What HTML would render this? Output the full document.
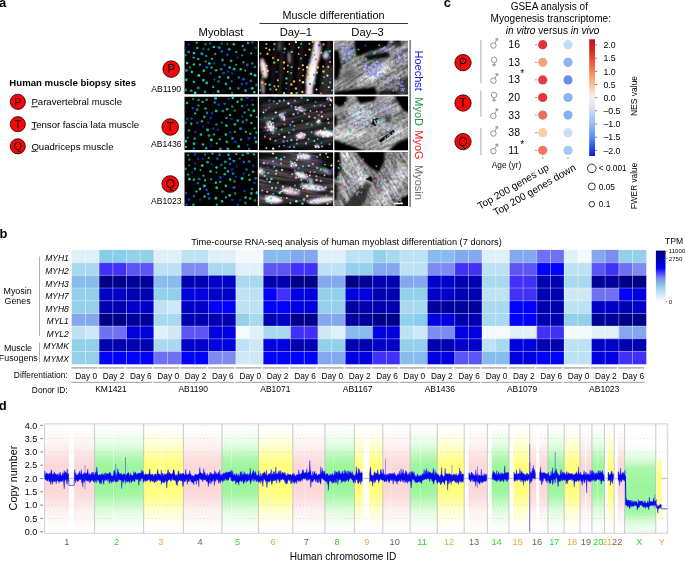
<!DOCTYPE html>
<html><head><meta charset="utf-8"><title>Figure</title>
<style>
html,body{margin:0;padding:0;background:#fff;}
svg{display:block;position:absolute;left:0;top:0;}
body>svg{will-change:transform;opacity:0.9999;}
text{font-family:"Liberation Sans",sans-serif;fill:#000;}
.b{font-weight:bold;}
.i{font-style:italic;}
.m{text-anchor:middle;}
.e{text-anchor:end;}
</style></head><body>
<svg width="685" height="561" viewBox="0 0 685 561">
<defs>
<filter id="bl1" filterUnits="userSpaceOnUse" x="-20" y="-20" width="120" height="100"><feGaussianBlur stdDeviation="0.45"/></filter>
<filter id="bl2" filterUnits="userSpaceOnUse" x="-20" y="-20" width="120" height="100"><feGaussianBlur stdDeviation="1.1"/></filter>
<filter id="bl3" filterUnits="userSpaceOnUse" x="-20" y="-20" width="120" height="100"><feGaussianBlur stdDeviation="2.6"/></filter>
<filter id="tx1" filterUnits="userSpaceOnUse" x="0" y="0" width="80" height="60">
<feTurbulence type="fractalNoise" baseFrequency="0.4 0.4" numOctaves="2" seed="4" result="n"/>
<feColorMatrix in="n" type="matrix" values="0 0 0 0 1  0 0 0 0 1  0 0 0 0 1  1.6 1.6 0 0 -1.25"/>
</filter>
<filter id="tx2" filterUnits="userSpaceOnUse" x="0" y="0" width="80" height="60">
<feTurbulence type="fractalNoise" baseFrequency="0.35 0.35" numOctaves="2" seed="9" result="n"/>
<feColorMatrix in="n" type="matrix" values="0 0 0 0 0  0 0 0 0 0  0 0 0 0 0  1.7 1.7 0 0 -1.3"/>
</filter>
<filter id="sx1" filterUnits="userSpaceOnUse" x="-60" y="-60" width="220" height="200">
<feTurbulence type="fractalNoise" baseFrequency="0.035 0.45" numOctaves="2" seed="3" result="n"/>
<feColorMatrix in="n" type="matrix" values="0 0 0 0 1  0 0 0 0 1  0 0 0 0 1  2.6 0 0 0 -1.05"/>
</filter>
<filter id="sx2" filterUnits="userSpaceOnUse" x="-60" y="-60" width="220" height="200">
<feTurbulence type="fractalNoise" baseFrequency="0.035 0.45" numOctaves="2" seed="17" result="n"/>
<feColorMatrix in="n" type="matrix" values="0 0 0 0 0  0 0 0 0 0  0 0 0 0 0  2.6 0 0 0 -1.05"/>
</filter>
<linearGradient id="nes" x1="0" y1="0" x2="0" y2="1">
<stop offset="0" stop-color="#c4101c"/><stop offset="0.1" stop-color="#de2a28"/><stop offset="0.2" stop-color="#ee5a3c"/><stop offset="0.3" stop-color="#f79458"/><stop offset="0.38" stop-color="#fbbd8c"/><stop offset="0.45" stop-color="#f6e0c8"/><stop offset="0.5" stop-color="#f0eeec"/><stop offset="0.56" stop-color="#dfe8f4"/><stop offset="0.65" stop-color="#b4d2f6"/><stop offset="0.75" stop-color="#86b6f6"/><stop offset="0.85" stop-color="#4f8af2"/><stop offset="0.93" stop-color="#2050e8"/><stop offset="1" stop-color="#0818d8"/>
</linearGradient>
<linearGradient id="tpm" x1="0" y1="0" x2="0" y2="1">
<stop offset="0" stop-color="#000080"/><stop offset="0.15" stop-color="#0000a8"/><stop offset="0.34" stop-color="#0000fc"/><stop offset="0.42" stop-color="#3a3af8"/><stop offset="0.52" stop-color="#7a82f0"/><stop offset="0.68" stop-color="#8ccbea"/><stop offset="0.85" stop-color="#cfeaf6"/><stop offset="1" stop-color="#ffffff"/>
</linearGradient>
<linearGradient id="gp" x1="0" y1="0" x2="0" y2="1">
<stop offset="0" stop-color="#ffffff"/><stop offset="0.06" stop-color="#fffbfb"/><stop offset="0.15" stop-color="#fef5f5"/><stop offset="0.245" stop-color="#fde9e9"/><stop offset="0.3" stop-color="#fce0e0"/><stop offset="0.37" stop-color="#fbd9d9"/><stop offset="0.5" stop-color="#fbd7d7"/><stop offset="0.63" stop-color="#fbd9d9"/><stop offset="0.7" stop-color="#fce0e0"/><stop offset="0.755" stop-color="#fde9e9"/><stop offset="0.85" stop-color="#fef5f5"/><stop offset="0.94" stop-color="#fffbfb"/><stop offset="1" stop-color="#ffffff"/>
</linearGradient>
<linearGradient id="gg" x1="0" y1="0" x2="0" y2="1">
<stop offset="0" stop-color="#ffffff"/><stop offset="0.06" stop-color="#f6fff6"/><stop offset="0.15" stop-color="#e8fde8"/><stop offset="0.245" stop-color="#ccfacc"/><stop offset="0.3" stop-color="#b2f8b2"/><stop offset="0.37" stop-color="#9ef69e"/><stop offset="0.5" stop-color="#98f598"/><stop offset="0.63" stop-color="#9ef69e"/><stop offset="0.7" stop-color="#b2f8b2"/><stop offset="0.755" stop-color="#ccfacc"/><stop offset="0.85" stop-color="#e8fde8"/><stop offset="0.94" stop-color="#f6fff6"/><stop offset="1" stop-color="#ffffff"/>
</linearGradient>
<linearGradient id="gy" x1="0" y1="0" x2="0" y2="1">
<stop offset="0" stop-color="#ffffff"/><stop offset="0.06" stop-color="#fffff4"/><stop offset="0.15" stop-color="#ffffdc"/><stop offset="0.245" stop-color="#ffffb4"/><stop offset="0.3" stop-color="#ffff96"/><stop offset="0.37" stop-color="#ffff7e"/><stop offset="0.5" stop-color="#ffff78"/><stop offset="0.63" stop-color="#ffff7e"/><stop offset="0.7" stop-color="#ffff96"/><stop offset="0.755" stop-color="#ffffb4"/><stop offset="0.85" stop-color="#ffffdc"/><stop offset="0.94" stop-color="#fffff4"/><stop offset="1" stop-color="#ffffff"/>
</linearGradient>
<linearGradient id="ggx" x1="0" y1="0" x2="0" y2="1">
<stop offset="0" stop-color="#ffffff"/><stop offset="0.09" stop-color="#f0fef0"/><stop offset="0.2" stop-color="#d2fad2"/><stop offset="0.27" stop-color="#aaf7aa"/><stop offset="0.5" stop-color="#9af59a"/><stop offset="0.77" stop-color="#a6f6a6"/><stop offset="0.84" stop-color="#ccfacc"/><stop offset="0.93" stop-color="#e8fde8"/><stop offset="1" stop-color="#f4fef4"/>
</linearGradient>
<linearGradient id="gyy" x1="0" y1="0" x2="0" y2="1">
<stop offset="0" stop-color="#ffffff"/><stop offset="0.12" stop-color="#ffffa4"/><stop offset="0.3" stop-color="#ffff80"/><stop offset="0.8" stop-color="#ffff84"/><stop offset="0.9" stop-color="#ffffb8"/><stop offset="1" stop-color="#ffffff"/>
</linearGradient>
</defs>

<!-- panel a -->
<text x="-1.0" y="7.0" font-size="13" class="b">a</text>
<text x="9.3" y="85.9" font-size="9.65" class="b">Human muscle biopsy sites</text>
<circle cx="17.8" cy="101.8" r="7.6" fill="#fc0404" stroke="#000" stroke-width="0.75"/>
<text x="17.8" y="105.75999999999999" font-size="11" class="m">P</text>
<text x="31.4" y="105.3" font-size="9.6"><tspan text-decoration="underline">P</tspan>aravertebral muscle</text>
<circle cx="17.8" cy="124.2" r="7.6" fill="#fc0404" stroke="#000" stroke-width="0.75"/>
<text x="17.8" y="128.16" font-size="11" class="m">T</text>
<text x="31.4" y="127.7" font-size="9.6"><tspan text-decoration="underline">T</tspan>ensor fascia lata muscle</text>
<circle cx="17.8" cy="146.3" r="7.6" fill="#fc0404" stroke="#000" stroke-width="0.75"/>
<text x="17.8" y="150.26000000000002" font-size="11" class="m">Q</text>
<text x="31.4" y="149.8" font-size="9.6"><tspan text-decoration="underline">Q</tspan>uadriceps muscle</text>
<circle cx="171.2" cy="69.1" r="8.35" fill="#fc0404" stroke="#000" stroke-width="0.75"/>
<text x="171.2" y="73.49199999999999" font-size="12.2" class="m">P</text>
<text x="166.2" y="91.6" font-size="8.55" class="m">AB1190</text>
<circle cx="170.2" cy="127.0" r="8.35" fill="#fc0404" stroke="#000" stroke-width="0.75"/>
<text x="170.2" y="131.392" font-size="12.2" class="m">T</text>
<text x="166.2" y="147.2" font-size="8.55" class="m">AB1436</text>
<circle cx="170.2" cy="184.0" r="8.35" fill="#fc0404" stroke="#000" stroke-width="0.75"/>
<text x="170.2" y="188.392" font-size="12.2" class="m">Q</text>
<text x="166.2" y="204.0" font-size="8.55" class="m">AB1023</text>
<text x="221" y="36" font-size="11.2" class="m">Myoblast</text>
<text x="333.5" y="19.3" font-size="10.8" class="m">Muscle differentiation</text>
<line x1="259.5" y1="23.5" x2="408" y2="23.5" stroke="#000" stroke-width="0.8"/>
<text x="295.9" y="36" font-size="11.2" class="m">Day–1</text>
<text x="367.5" y="36" font-size="11.2" class="m">Day–3</text>
<svg x="184.3" y="40.7" width="73.6" height="53.7" viewBox="0 0 73.6 53.7" overflow="hidden"><rect width="73.6" height="53.7" fill="#000"/>
<g filter="url(#bl1)" opacity="1.0"><circle cx="24.1" cy="8.7" r="1.12" fill="#20d8d8" fill-opacity="0.63"/><circle cx="7.6" cy="31.2" r="1.19" fill="#22e0b0" fill-opacity="0.96"/><circle cx="30.9" cy="13.3" r="1.27" fill="#22e0b0" fill-opacity="0.63"/><circle cx="9.7" cy="12.4" r="1.33" fill="#20d8d8" fill-opacity="0.97"/><circle cx="43.0" cy="3.4" r="1.12" fill="#20c878" fill-opacity="0.61"/><circle cx="9.3" cy="16.9" r="1.17" fill="#20d8d8" fill-opacity="0.74"/><circle cx="46.8" cy="20.2" r="1.38" fill="#22e0b0" fill-opacity="0.75"/><circle cx="45.4" cy="26.7" r="1.27" fill="#22e0b0" fill-opacity="0.86"/><circle cx="22.4" cy="42.2" r="1.41" fill="#18d0a0" fill-opacity="0.96"/><circle cx="22.4" cy="26.6" r="1.39" fill="#1560f0" fill-opacity="0.87"/><circle cx="71.4" cy="7.0" r="1.17" fill="#1338e8" fill-opacity="0.85"/><circle cx="68.0" cy="22.8" r="1.13" fill="#20d8d8" fill-opacity="0.75"/><circle cx="57.6" cy="43.4" r="1.38" fill="#1560f0" fill-opacity="0.73"/><circle cx="61.3" cy="50.0" r="1.38" fill="#10a8f0" fill-opacity="0.97"/><circle cx="53.4" cy="16.9" r="1.50" fill="#0f30d8" fill-opacity="0.63"/><circle cx="21.3" cy="20.9" r="1.24" fill="#20d8d8" fill-opacity="0.58"/><circle cx="26.4" cy="32.6" r="1.12" fill="#10a8f0" fill-opacity="0.65"/><circle cx="28.9" cy="46.2" r="1.17" fill="#1fd8c8" fill-opacity="0.82"/><circle cx="31.8" cy="29.5" r="1.27" fill="#18d0a0" fill-opacity="0.84"/><circle cx="17.5" cy="13.0" r="1.43" fill="#10a8f0" fill-opacity="0.92"/><circle cx="39.3" cy="32.6" r="1.48" fill="#1560f0" fill-opacity="0.69"/><circle cx="49.5" cy="3.6" r="1.42" fill="#20d8d8" fill-opacity="0.82"/><circle cx="29.5" cy="6.2" r="1.26" fill="#20d8d8" fill-opacity="0.91"/><circle cx="39.4" cy="50.2" r="1.11" fill="#0f30d8" fill-opacity="0.61"/><circle cx="45.0" cy="8.5" r="1.48" fill="#19c0e8" fill-opacity="0.73"/><circle cx="34.9" cy="6.8" r="1.50" fill="#10a8f0" fill-opacity="0.79"/><circle cx="12.4" cy="2.0" r="1.24" fill="#22e0b0" fill-opacity="0.69"/><circle cx="66.6" cy="40.3" r="1.49" fill="#19c0e8" fill-opacity="0.61"/><circle cx="56.4" cy="28.5" r="1.23" fill="#22e0b0" fill-opacity="0.90"/><circle cx="62.2" cy="42.8" r="1.40" fill="#1338e8" fill-opacity="0.90"/><circle cx="38.1" cy="19.3" r="1.50" fill="#19e0e0" fill-opacity="0.64"/><circle cx="59.0" cy="38.5" r="1.48" fill="#1560f0" fill-opacity="0.84"/><circle cx="45.7" cy="47.7" r="1.29" fill="#19e0e0" fill-opacity="0.71"/><circle cx="58.4" cy="5.2" r="1.15" fill="#20d8d8" fill-opacity="0.83"/><circle cx="52.0" cy="11.2" r="1.27" fill="#18d090" fill-opacity="0.71"/><circle cx="7.0" cy="50.1" r="1.26" fill="#18d0a0" fill-opacity="0.82"/><circle cx="13.0" cy="7.4" r="1.34" fill="#18d090" fill-opacity="0.79"/><circle cx="48.0" cy="32.7" r="1.49" fill="#0f30d8" fill-opacity="0.70"/><circle cx="70.7" cy="34.6" r="1.40" fill="#22e0b0" fill-opacity="0.94"/><circle cx="63.7" cy="2.3" r="1.22" fill="#20c878" fill-opacity="0.89"/><circle cx="43.0" cy="14.3" r="1.43" fill="#1338e8" fill-opacity="0.97"/><circle cx="54.1" cy="47.6" r="1.33" fill="#20d8d8" fill-opacity="0.59"/><circle cx="36.9" cy="28.5" r="1.30" fill="#22e0b0" fill-opacity="0.61"/><circle cx="49.9" cy="28.5" r="1.41" fill="#10a8f0" fill-opacity="0.95"/><circle cx="19.5" cy="30.0" r="1.44" fill="#20c878" fill-opacity="0.94"/><circle cx="9.6" cy="23.8" r="1.37" fill="#1fd8c8" fill-opacity="0.81"/><circle cx="9.6" cy="41.3" r="1.36" fill="#18d0a0" fill-opacity="0.84"/><circle cx="19.0" cy="8.0" r="1.19" fill="#10a8f0" fill-opacity="0.57"/><circle cx="72.1" cy="44.2" r="1.38" fill="#18d090" fill-opacity="0.55"/><circle cx="29.9" cy="22.7" r="1.23" fill="#1560f0" fill-opacity="0.68"/><circle cx="2.2" cy="29.7" r="1.38" fill="#10a8f0" fill-opacity="0.83"/><circle cx="66.9" cy="12.7" r="1.13" fill="#1fd8c8" fill-opacity="0.88"/><circle cx="14.0" cy="47.4" r="1.48" fill="#19c0e8" fill-opacity="0.71"/><circle cx="62.9" cy="24.4" r="1.50" fill="#1560f0" fill-opacity="0.81"/><circle cx="66.7" cy="33.2" r="1.31" fill="#19e0e0" fill-opacity="0.89"/><circle cx="4.4" cy="11.3" r="1.35" fill="#19c0e8" fill-opacity="0.76"/><circle cx="15.6" cy="24.0" r="1.17" fill="#20d8d8" fill-opacity="0.84"/><circle cx="1.9" cy="39.0" r="1.49" fill="#22e0b0" fill-opacity="0.77"/><circle cx="10.9" cy="52.3" r="1.43" fill="#19e0e0" fill-opacity="0.99"/><circle cx="43.9" cy="36.9" r="1.28" fill="#19e0e0" fill-opacity="0.93"/><circle cx="70.0" cy="51.5" r="1.23" fill="#22e0b0" fill-opacity="0.98"/><circle cx="14.0" cy="18.3" r="1.29" fill="#1fd8c8" fill-opacity="0.77"/><circle cx="1.2" cy="14.6" r="1.16" fill="#1fd8c8" fill-opacity="0.74"/><circle cx="41.7" cy="43.2" r="1.43" fill="#19e0e0" fill-opacity="0.74"/><circle cx="61.0" cy="29.9" r="1.11" fill="#20d8d8" fill-opacity="0.76"/><circle cx="67.9" cy="47.6" r="1.36" fill="#1fd8c8" fill-opacity="0.97"/><circle cx="35.3" cy="36.4" r="1.35" fill="#19e0e0" fill-opacity="0.71"/><circle cx="19.1" cy="39.5" r="1.35" fill="#19c0e8" fill-opacity="0.94"/><circle cx="34.3" cy="40.8" r="1.18" fill="#22e0b0" fill-opacity="0.56"/><circle cx="68.2" cy="1.7" r="1.13" fill="#10a8f0" fill-opacity="0.77"/><circle cx="27.1" cy="26.7" r="1.26" fill="#10a8f0" fill-opacity="0.93"/><circle cx="30.0" cy="38.7" r="1.24" fill="#1338e8" fill-opacity="0.86"/><circle cx="29.1" cy="52.8" r="1.13" fill="#0f30d8" fill-opacity="0.58"/><circle cx="21.0" cy="3.5" r="1.21" fill="#20d8d8" fill-opacity="0.58"/><circle cx="37.6" cy="10.7" r="1.41" fill="#1560f0" fill-opacity="0.81"/><circle cx="40.4" cy="24.4" r="1.50" fill="#1560f0" fill-opacity="0.80"/><circle cx="20.8" cy="51.2" r="1.37" fill="#18d090" fill-opacity="0.76"/><circle cx="70.5" cy="26.3" r="1.26" fill="#1fd8c8" fill-opacity="0.58"/><circle cx="47.4" cy="40.6" r="1.13" fill="#10a8f0" fill-opacity="0.65"/><circle cx="0.9" cy="7.3" r="1.47" fill="#0f30d8" fill-opacity="0.71"/><circle cx="34.0" cy="50.8" r="1.44" fill="#20d8d8" fill-opacity="0.89"/><circle cx="2.9" cy="22.3" r="1.22" fill="#20d8d8" fill-opacity="0.99"/><circle cx="25.1" cy="22.7" r="1.26" fill="#20d8d8" fill-opacity="1.00"/><circle cx="5.7" cy="26.6" r="1.22" fill="#20c878" fill-opacity="0.63"/><circle cx="4.5" cy="3.9" r="1.28" fill="#1338e8" fill-opacity="0.68"/><circle cx="14.5" cy="34.8" r="1.40" fill="#22e0b0" fill-opacity="0.99"/><circle cx="27.7" cy="18.1" r="1.14" fill="#18d090" fill-opacity="0.96"/><circle cx="54.5" cy="36.7" r="1.22" fill="#19c0e8" fill-opacity="0.68"/><circle cx="1.4" cy="49.3" r="1.43" fill="#19c0e8" fill-opacity="0.65"/><circle cx="51.9" cy="24.1" r="1.15" fill="#20c878" fill-opacity="0.79"/><circle cx="22.0" cy="15.4" r="1.25" fill="#19c0e8" fill-opacity="0.67"/><circle cx="47.8" cy="52.4" r="1.10" fill="#1fd8c8" fill-opacity="0.60"/><circle cx="26.0" cy="2.8" r="1.16" fill="#1560f0" fill-opacity="0.91"/><circle cx="60.2" cy="9.2" r="1.35" fill="#20c878" fill-opacity="0.72"/><circle cx="59.2" cy="21.7" r="1.15" fill="#1fd8c8" fill-opacity="0.81"/><circle cx="37.5" cy="2.9" r="1.15" fill="#20d8d8" fill-opacity="0.59"/><circle cx="57.8" cy="14.6" r="1.12" fill="#22e0b0" fill-opacity="0.61"/><circle cx="43.6" cy="30.9" r="1.47" fill="#0f30d8" fill-opacity="0.67"/></g>
</svg>
<svg x="184.3" y="96.5" width="73.6" height="53.7" viewBox="0 0 73.6 53.7" overflow="hidden"><rect width="73.6" height="53.7" fill="#000"/>
<g filter="url(#bl1)" opacity="1.0"><circle cx="18.7" cy="47.9" r="1.12" fill="#19e0e0" fill-opacity="0.99"/><circle cx="14.2" cy="9.1" r="1.10" fill="#1fd8c8" fill-opacity="0.75"/><circle cx="68.5" cy="8.2" r="1.31" fill="#20c878" fill-opacity="0.71"/><circle cx="47.4" cy="22.4" r="1.17" fill="#0f30d8" fill-opacity="0.86"/><circle cx="22.4" cy="3.3" r="1.41" fill="#18d0a0" fill-opacity="0.68"/><circle cx="1.3" cy="44.8" r="1.46" fill="#18d0a0" fill-opacity="0.96"/><circle cx="48.0" cy="9.9" r="1.20" fill="#1fd8c8" fill-opacity="0.71"/><circle cx="9.7" cy="47.2" r="1.48" fill="#18d0a0" fill-opacity="0.88"/><circle cx="4.6" cy="33.9" r="1.27" fill="#20d8d8" fill-opacity="0.65"/><circle cx="38.5" cy="14.6" r="1.47" fill="#20d8d8" fill-opacity="0.60"/><circle cx="7.0" cy="27.2" r="1.20" fill="#18d090" fill-opacity="0.89"/><circle cx="54.4" cy="50.0" r="1.47" fill="#18d0a0" fill-opacity="0.91"/><circle cx="28.8" cy="32.1" r="1.46" fill="#1338e8" fill-opacity="0.72"/><circle cx="50.7" cy="35.5" r="1.29" fill="#22e0b0" fill-opacity="0.62"/><circle cx="51.0" cy="45.5" r="1.48" fill="#1338e8" fill-opacity="0.89"/><circle cx="64.5" cy="41.9" r="1.35" fill="#1338e8" fill-opacity="0.96"/><circle cx="2.7" cy="6.4" r="1.24" fill="#18d090" fill-opacity="0.94"/><circle cx="27.0" cy="43.4" r="1.46" fill="#22e0b0" fill-opacity="0.97"/><circle cx="63.3" cy="48.4" r="1.14" fill="#1338e8" fill-opacity="0.91"/><circle cx="8.9" cy="2.6" r="1.13" fill="#20d8d8" fill-opacity="0.66"/><circle cx="10.4" cy="42.1" r="1.18" fill="#20d8d8" fill-opacity="0.86"/><circle cx="31.3" cy="1.9" r="1.47" fill="#19c0e8" fill-opacity="0.98"/><circle cx="56.2" cy="32.2" r="1.44" fill="#10a8f0" fill-opacity="0.72"/><circle cx="3.0" cy="22.3" r="1.31" fill="#1338e8" fill-opacity="0.96"/><circle cx="41.6" cy="38.0" r="1.33" fill="#1fd8c8" fill-opacity="0.87"/><circle cx="32.2" cy="28.1" r="1.40" fill="#19c0e8" fill-opacity="0.56"/><circle cx="1.1" cy="26.4" r="1.38" fill="#10a8f0" fill-opacity="0.63"/><circle cx="70.4" cy="31.7" r="1.20" fill="#22e0b0" fill-opacity="0.58"/><circle cx="21.2" cy="12.0" r="1.19" fill="#18d0a0" fill-opacity="0.93"/><circle cx="36.1" cy="52.4" r="1.41" fill="#22e0b0" fill-opacity="0.72"/><circle cx="26.4" cy="21.7" r="1.46" fill="#1338e8" fill-opacity="0.66"/><circle cx="27.6" cy="16.6" r="1.46" fill="#1338e8" fill-opacity="0.77"/><circle cx="17.6" cy="24.8" r="1.34" fill="#22e0b0" fill-opacity="0.69"/><circle cx="44.4" cy="2.6" r="1.23" fill="#0f30d8" fill-opacity="0.93"/><circle cx="61.5" cy="35.3" r="1.23" fill="#18d0a0" fill-opacity="0.79"/><circle cx="50.4" cy="14.2" r="1.15" fill="#20c878" fill-opacity="0.79"/><circle cx="64.5" cy="13.2" r="1.21" fill="#20c878" fill-opacity="0.66"/><circle cx="69.6" cy="14.3" r="1.50" fill="#18d0a0" fill-opacity="0.93"/><circle cx="22.6" cy="16.3" r="1.18" fill="#19c0e8" fill-opacity="0.71"/><circle cx="8.5" cy="11.6" r="1.29" fill="#1338e8" fill-opacity="0.99"/><circle cx="62.3" cy="23.5" r="1.30" fill="#20c878" fill-opacity="0.72"/><circle cx="34.2" cy="8.2" r="1.40" fill="#0f30d8" fill-opacity="1.00"/><circle cx="42.8" cy="12.7" r="1.36" fill="#18d090" fill-opacity="0.80"/><circle cx="23.3" cy="33.5" r="1.46" fill="#1fd8c8" fill-opacity="0.89"/><circle cx="29.6" cy="37.9" r="1.20" fill="#18d090" fill-opacity="0.81"/><circle cx="33.6" cy="33.2" r="1.31" fill="#1338e8" fill-opacity="0.70"/><circle cx="16.5" cy="38.1" r="1.31" fill="#20c878" fill-opacity="0.95"/><circle cx="42.2" cy="29.0" r="1.29" fill="#18d0a0" fill-opacity="0.99"/><circle cx="57.9" cy="20.1" r="1.26" fill="#1560f0" fill-opacity="0.57"/><circle cx="9.6" cy="52.1" r="1.36" fill="#1560f0" fill-opacity="0.89"/><circle cx="46.1" cy="36.0" r="1.21" fill="#0f30d8" fill-opacity="0.90"/><circle cx="56.7" cy="43.0" r="1.18" fill="#20d8d8" fill-opacity="0.71"/><circle cx="11.3" cy="35.5" r="1.29" fill="#1338e8" fill-opacity="0.87"/><circle cx="40.3" cy="7.3" r="1.24" fill="#10a8f0" fill-opacity="0.62"/><circle cx="20.1" cy="20.4" r="1.49" fill="#19c0e8" fill-opacity="0.69"/><circle cx="35.5" cy="42.8" r="1.24" fill="#19c0e8" fill-opacity="0.71"/><circle cx="23.9" cy="26.1" r="1.35" fill="#0f30d8" fill-opacity="0.70"/><circle cx="26.9" cy="49.2" r="1.12" fill="#1338e8" fill-opacity="0.63"/><circle cx="1.6" cy="50.4" r="1.22" fill="#20d8d8" fill-opacity="0.73"/><circle cx="42.5" cy="45.3" r="1.41" fill="#18d090" fill-opacity="0.84"/><circle cx="57.8" cy="9.5" r="1.34" fill="#18d0a0" fill-opacity="0.65"/><circle cx="32.4" cy="46.8" r="1.15" fill="#22e0b0" fill-opacity="0.81"/><circle cx="66.0" cy="37.3" r="1.30" fill="#20c878" fill-opacity="0.76"/><circle cx="62.9" cy="1.1" r="1.29" fill="#1560f0" fill-opacity="0.75"/><circle cx="37.6" cy="26.1" r="1.11" fill="#18d090" fill-opacity="0.68"/><circle cx="45.8" cy="18.4" r="1.25" fill="#20d8d8" fill-opacity="0.79"/><circle cx="60.3" cy="16.1" r="1.26" fill="#10a8f0" fill-opacity="0.77"/><circle cx="57.3" cy="2.9" r="1.32" fill="#18d0a0" fill-opacity="0.82"/><circle cx="42.1" cy="21.6" r="1.10" fill="#1fd8c8" fill-opacity="0.91"/><circle cx="48.2" cy="41.9" r="1.34" fill="#22e0b0" fill-opacity="0.72"/><circle cx="3.5" cy="41.2" r="1.11" fill="#20d8d8" fill-opacity="0.61"/><circle cx="10.8" cy="16.9" r="1.20" fill="#18d0a0" fill-opacity="0.86"/><circle cx="68.0" cy="3.6" r="1.31" fill="#0f30d8" fill-opacity="0.63"/><circle cx="43.6" cy="52.5" r="1.49" fill="#20d8d8" fill-opacity="0.79"/><circle cx="30.5" cy="6.1" r="1.29" fill="#20d8d8" fill-opacity="0.60"/><circle cx="71.8" cy="45.5" r="1.45" fill="#20c878" fill-opacity="0.94"/><circle cx="14.3" cy="3.4" r="1.39" fill="#18d0a0" fill-opacity="0.62"/><circle cx="53.3" cy="5.2" r="1.32" fill="#20d8d8" fill-opacity="0.78"/><circle cx="58.5" cy="25.6" r="1.48" fill="#10a8f0" fill-opacity="0.65"/><circle cx="0.9" cy="14.5" r="1.16" fill="#1338e8" fill-opacity="0.59"/><circle cx="64.9" cy="52.5" r="1.21" fill="#18d090" fill-opacity="0.62"/><circle cx="66.6" cy="18.9" r="1.32" fill="#1fd8c8" fill-opacity="0.78"/><circle cx="67.2" cy="26.5" r="1.25" fill="#1fd8c8" fill-opacity="0.79"/><circle cx="72.4" cy="20.5" r="1.12" fill="#19e0e0" fill-opacity="0.75"/><circle cx="12.9" cy="13.2" r="1.47" fill="#18d090" fill-opacity="0.60"/><circle cx="24.7" cy="39.1" r="1.39" fill="#18d090" fill-opacity="0.75"/><circle cx="12.9" cy="26.4" r="1.28" fill="#1560f0" fill-opacity="0.78"/><circle cx="31.9" cy="14.4" r="1.47" fill="#20c878" fill-opacity="0.96"/><circle cx="21.9" cy="51.8" r="1.28" fill="#19e0e0" fill-opacity="0.77"/><circle cx="50.6" cy="27.9" r="1.47" fill="#18d0a0" fill-opacity="0.77"/><circle cx="7.3" cy="22.1" r="1.15" fill="#10a8f0" fill-opacity="0.70"/><circle cx="18.7" cy="30.1" r="1.11" fill="#1560f0" fill-opacity="0.68"/><circle cx="53.4" cy="24.1" r="1.31" fill="#19e0e0" fill-opacity="0.76"/><circle cx="62.8" cy="8.5" r="1.28" fill="#0f30d8" fill-opacity="0.82"/><circle cx="48.5" cy="1.4" r="1.31" fill="#1fd8c8" fill-opacity="0.97"/><circle cx="70.6" cy="41.3" r="1.35" fill="#10a8f0" fill-opacity="0.64"/><circle cx="18.3" cy="5.4" r="1.21" fill="#22e0b0" fill-opacity="0.80"/><circle cx="72.0" cy="36.1" r="1.27" fill="#18d090" fill-opacity="0.70"/></g>
</svg>
<svg x="184.3" y="152.2" width="73.6" height="53.8" viewBox="0 0 73.6 53.8" overflow="hidden"><rect width="73.6" height="53.8" fill="#000"/>
<g filter="url(#bl1)" opacity="1.0"><circle cx="10.9" cy="11.4" r="1.44" fill="#0f30d8" fill-opacity="0.63"/><circle cx="38.1" cy="39.4" r="1.47" fill="#18d0a0" fill-opacity="0.55"/><circle cx="20.1" cy="33.7" r="1.47" fill="#20d8d8" fill-opacity="0.94"/><circle cx="63.5" cy="1.0" r="1.33" fill="#22e0b0" fill-opacity="0.78"/><circle cx="70.1" cy="30.7" r="1.44" fill="#1338e8" fill-opacity="0.87"/><circle cx="45.5" cy="6.6" r="1.38" fill="#10a8f0" fill-opacity="0.87"/><circle cx="26.2" cy="19.2" r="1.32" fill="#22e0b0" fill-opacity="0.83"/><circle cx="24.0" cy="41.9" r="1.25" fill="#10a8f0" fill-opacity="0.86"/><circle cx="32.2" cy="20.5" r="1.14" fill="#20c878" fill-opacity="0.59"/><circle cx="61.1" cy="50.8" r="1.49" fill="#20c878" fill-opacity="0.60"/><circle cx="69.6" cy="2.1" r="1.33" fill="#19c0e8" fill-opacity="0.78"/><circle cx="67.1" cy="41.2" r="1.35" fill="#22e0b0" fill-opacity="0.80"/><circle cx="60.2" cy="38.8" r="1.26" fill="#1338e8" fill-opacity="0.84"/><circle cx="43.6" cy="19.1" r="1.37" fill="#19e0e0" fill-opacity="0.76"/><circle cx="7.9" cy="20.3" r="1.36" fill="#1338e8" fill-opacity="0.58"/><circle cx="56.0" cy="47.7" r="1.24" fill="#0f30d8" fill-opacity="0.76"/><circle cx="59.5" cy="9.7" r="1.25" fill="#1560f0" fill-opacity="0.97"/><circle cx="23.2" cy="10.0" r="1.46" fill="#20d8d8" fill-opacity="0.69"/><circle cx="64.7" cy="22.8" r="1.31" fill="#18d090" fill-opacity="0.63"/><circle cx="15.8" cy="47.4" r="1.17" fill="#1338e8" fill-opacity="0.72"/><circle cx="3.8" cy="22.3" r="1.22" fill="#19e0e0" fill-opacity="0.69"/><circle cx="1.1" cy="16.7" r="1.33" fill="#1fd8c8" fill-opacity="0.70"/><circle cx="15.0" cy="26.8" r="1.33" fill="#22e0b0" fill-opacity="0.61"/><circle cx="65.3" cy="27.6" r="1.33" fill="#18d090" fill-opacity="0.82"/><circle cx="55.5" cy="6.4" r="1.13" fill="#1fd8c8" fill-opacity="0.57"/><circle cx="36.1" cy="25.2" r="1.42" fill="#1338e8" fill-opacity="0.97"/><circle cx="1.7" cy="41.0" r="1.16" fill="#1560f0" fill-opacity="0.89"/><circle cx="20.6" cy="2.5" r="1.14" fill="#20d8d8" fill-opacity="0.59"/><circle cx="4.7" cy="47.3" r="1.41" fill="#0f30d8" fill-opacity="0.98"/><circle cx="4.7" cy="13.2" r="1.12" fill="#20c878" fill-opacity="0.58"/><circle cx="62.3" cy="17.2" r="1.22" fill="#10a8f0" fill-opacity="0.73"/><circle cx="69.2" cy="13.5" r="1.37" fill="#1338e8" fill-opacity="0.74"/><circle cx="52.0" cy="2.0" r="1.13" fill="#20c878" fill-opacity="0.92"/><circle cx="28.1" cy="1.2" r="1.26" fill="#19c0e8" fill-opacity="0.84"/><circle cx="24.9" cy="46.3" r="1.26" fill="#1560f0" fill-opacity="0.97"/><circle cx="9.7" cy="43.9" r="1.32" fill="#1560f0" fill-opacity="0.83"/><circle cx="32.2" cy="15.4" r="1.24" fill="#19e0e0" fill-opacity="0.93"/><circle cx="20.2" cy="44.4" r="1.32" fill="#18d090" fill-opacity="0.79"/><circle cx="27.3" cy="12.1" r="1.25" fill="#1338e8" fill-opacity="0.57"/><circle cx="37.1" cy="12.7" r="1.37" fill="#10a8f0" fill-opacity="0.58"/><circle cx="32.5" cy="52.5" r="1.20" fill="#22e0b0" fill-opacity="0.73"/><circle cx="9.6" cy="27.6" r="1.44" fill="#22e0b0" fill-opacity="0.67"/><circle cx="50.8" cy="41.3" r="1.23" fill="#20c878" fill-opacity="0.70"/><circle cx="26.8" cy="26.9" r="1.18" fill="#19c0e8" fill-opacity="0.68"/><circle cx="59.6" cy="21.6" r="1.26" fill="#1560f0" fill-opacity="0.59"/><circle cx="49.7" cy="35.4" r="1.46" fill="#1560f0" fill-opacity="0.99"/><circle cx="51.5" cy="24.9" r="1.24" fill="#1338e8" fill-opacity="0.72"/><circle cx="13.9" cy="6.8" r="1.39" fill="#0f30d8" fill-opacity="0.68"/><circle cx="3.7" cy="2.9" r="1.27" fill="#18d090" fill-opacity="0.66"/><circle cx="12.0" cy="39.3" r="1.22" fill="#22e0b0" fill-opacity="0.71"/><circle cx="19.1" cy="23.5" r="1.33" fill="#20d8d8" fill-opacity="0.58"/><circle cx="48.0" cy="47.8" r="1.34" fill="#0f30d8" fill-opacity="0.98"/><circle cx="18.4" cy="6.6" r="1.18" fill="#1560f0" fill-opacity="0.59"/><circle cx="67.8" cy="36.9" r="1.38" fill="#18d0a0" fill-opacity="0.62"/><circle cx="45.9" cy="27.4" r="1.38" fill="#20d8d8" fill-opacity="0.81"/><circle cx="37.7" cy="49.2" r="1.30" fill="#18d090" fill-opacity="0.91"/><circle cx="41.1" cy="9.9" r="1.49" fill="#18d090" fill-opacity="0.71"/><circle cx="17.9" cy="13.4" r="1.38" fill="#22e0b0" fill-opacity="0.94"/><circle cx="49.5" cy="8.9" r="1.44" fill="#10a8f0" fill-opacity="0.82"/><circle cx="15.7" cy="36.8" r="1.24" fill="#19e0e0" fill-opacity="0.91"/><circle cx="33.1" cy="6.7" r="1.28" fill="#1560f0" fill-opacity="0.74"/><circle cx="71.3" cy="26.1" r="1.39" fill="#18d0a0" fill-opacity="0.56"/><circle cx="10.8" cy="2.2" r="1.44" fill="#1338e8" fill-opacity="0.87"/><circle cx="41.6" cy="33.6" r="1.26" fill="#18d0a0" fill-opacity="0.98"/><circle cx="53.4" cy="52.8" r="1.33" fill="#0f30d8" fill-opacity="0.96"/><circle cx="61.3" cy="45.4" r="1.27" fill="#22e0b0" fill-opacity="0.87"/><circle cx="32.4" cy="35.6" r="1.46" fill="#18d090" fill-opacity="0.93"/><circle cx="70.7" cy="48.2" r="1.49" fill="#18d090" fill-opacity="0.57"/><circle cx="45.4" cy="43.1" r="1.39" fill="#19e0e0" fill-opacity="0.85"/><circle cx="68.7" cy="19.6" r="1.33" fill="#20c878" fill-opacity="0.82"/><circle cx="36.0" cy="29.7" r="1.32" fill="#20c878" fill-opacity="0.69"/><circle cx="41.6" cy="45.3" r="1.13" fill="#20d8d8" fill-opacity="0.80"/><circle cx="9.1" cy="52.5" r="1.31" fill="#18d0a0" fill-opacity="0.79"/><circle cx="50.2" cy="29.2" r="1.33" fill="#20c878" fill-opacity="0.65"/><circle cx="22.4" cy="37.7" r="1.46" fill="#1338e8" fill-opacity="0.96"/><circle cx="44.2" cy="2.6" r="1.20" fill="#20d8d8" fill-opacity="0.84"/><circle cx="57.8" cy="26.3" r="1.42" fill="#1fd8c8" fill-opacity="0.92"/><circle cx="40.7" cy="15.9" r="1.37" fill="#20d8d8" fill-opacity="0.62"/><circle cx="72.6" cy="40.5" r="1.48" fill="#19c0e8" fill-opacity="0.99"/><circle cx="58.4" cy="2.7" r="1.35" fill="#18d090" fill-opacity="0.71"/><circle cx="45.8" cy="11.8" r="1.39" fill="#1560f0" fill-opacity="0.85"/><circle cx="31.5" cy="30.6" r="1.25" fill="#1fd8c8" fill-opacity="0.87"/><circle cx="40.5" cy="22.0" r="1.38" fill="#19e0e0" fill-opacity="0.70"/><circle cx="52.6" cy="14.0" r="1.32" fill="#0f30d8" fill-opacity="0.58"/><circle cx="13.7" cy="31.1" r="1.24" fill="#10a8f0" fill-opacity="0.65"/><circle cx="31.6" cy="46.1" r="1.44" fill="#1fd8c8" fill-opacity="0.86"/><circle cx="4.9" cy="7.5" r="1.13" fill="#19e0e0" fill-opacity="0.64"/><circle cx="16.1" cy="17.9" r="1.11" fill="#18d0a0" fill-opacity="0.78"/><circle cx="47.9" cy="17.2" r="1.35" fill="#1338e8" fill-opacity="0.67"/><circle cx="24.5" cy="5.7" r="1.18" fill="#18d090" fill-opacity="0.76"/><circle cx="35.2" cy="2.5" r="1.22" fill="#20d8d8" fill-opacity="0.65"/><circle cx="20.8" cy="28.1" r="1.15" fill="#19c0e8" fill-opacity="1.00"/><circle cx="5.1" cy="27.0" r="1.41" fill="#22e0b0" fill-opacity="0.88"/><circle cx="65.8" cy="46.3" r="1.31" fill="#18d090" fill-opacity="0.84"/><circle cx="10.6" cy="16.5" r="1.23" fill="#1fd8c8" fill-opacity="0.78"/><circle cx="64.9" cy="9.2" r="1.34" fill="#20d8d8" fill-opacity="0.57"/><circle cx="48.7" cy="21.5" r="1.49" fill="#1560f0" fill-opacity="0.99"/><circle cx="2.2" cy="52.5" r="1.13" fill="#1560f0" fill-opacity="0.95"/></g>
</svg>
<svg x="259.0" y="40.7" width="74.2" height="53.7" viewBox="0 0 74.2 53.7" overflow="hidden"><rect width="74.2" height="53.7" fill="#000"/>
<path d="M23.8 -5.4 L22.6 -0.1 L22.0 5.2 L21.6 10.6 L20.9 16.0 L20.2 21.3 L19.7 26.7 L19.4 32.0 L18.9 37.4 L19.1 42.8 L18.8 48.2 L18.9 53.6 L19.5 59.0 L20.6 59.1 L21.9 53.8 L22.7 48.5 L23.2 43.1 L24.2 37.8 L24.4 32.4 L24.8 27.0 L25.1 21.6 L25.1 16.3 L25.1 10.9 L25.5 5.5 L25.6 0.1 L25.2 -5.3Z" fill="#46343a" opacity="0.5" filter="url(#bl2)"/><path d="M33.4 -5.4 L32.3 -0.1 L31.4 5.2 L31.1 10.6 L30.6 16.0 L29.7 21.3 L29.8 26.7 L29.3 32.1 L28.5 37.4 L28.9 42.8 L28.9 48.2 L28.6 53.6 L29.0 59.0 L30.4 59.1 L31.5 53.8 L31.9 48.4 L32.7 43.1 L33.8 37.8 L33.8 32.4 L34.0 27.0 L34.9 21.7 L34.6 16.2 L34.9 10.9 L35.4 5.5 L35.2 0.1 L34.8 -5.3Z" fill="#46343a" opacity="0.45" filter="url(#bl2)"/><path d="M43.2 -5.4 L42.1 -0.1 L41.5 5.3 L40.6 10.6 L40.1 16.0 L39.6 21.3 L39.1 26.7 L38.4 32.0 L38.3 37.4 L38.5 42.8 L38.3 48.2 L38.3 53.6 L38.7 59.0 L39.9 59.1 L41.1 53.8 L41.8 48.4 L42.4 43.1 L43.3 37.8 L44.0 32.4 L44.0 27.0 L44.2 21.6 L44.4 16.3 L44.7 10.9 L44.6 5.5 L44.7 0.1 L44.4 -5.3Z" fill="#46343a" opacity="0.4" filter="url(#bl2)"/><path d="M69.9 -5.4 L68.7 -0.1 L67.8 5.2 L67.1 10.6 L66.4 15.9 L66.1 21.3 L66.0 26.7 L65.5 32.1 L64.9 37.4 L65.0 42.8 L64.9 48.2 L64.9 53.6 L65.4 59.0 L66.7 59.1 L67.9 53.8 L68.7 48.5 L69.3 43.1 L70.2 37.8 L70.3 32.4 L70.5 27.0 L71.2 21.7 L71.6 16.3 L71.6 10.9 L71.7 5.5 L71.6 0.1 L71.0 -5.3Z" fill="#46343a" opacity="0.6" filter="url(#bl2)"/><path d="M16.4 -5.4 L15.5 -0.1 L14.5 5.2 L14.2 10.6 L13.1 15.9 L12.9 21.3 L12.3 26.7 L11.9 32.0 L11.8 37.4 L11.5 42.8 L11.6 48.2 L11.6 53.6 L12.0 59.0 L13.2 59.1 L14.4 53.8 L15.1 48.5 L15.9 43.1 L16.4 37.7 L17.0 32.4 L17.4 27.0 L17.6 21.6 L18.0 16.3 L17.7 10.9 L18.1 5.5 L17.9 0.1 L17.7 -5.3Z" fill="#46343a" opacity="0.3" filter="url(#bl2)"/><path d="M63.1 26.9 L77.9 24.2 L77.9 56.4 L59.4 56.4Z" fill="#3a3034" opacity="0.7" filter="url(#bl2)"/><path d="M58.2 -13.5 L57.0 -8.7 L56.1 -3.8 L55.0 1.1 L54.3 6.0 L53.1 10.8 L52.4 15.5 L51.6 17.3 L51.4 19.6 L51.1 21.9 L49.3 23.9 L49.6 26.3 L48.5 28.6 L47.9 31.0 L48.5 33.4 L47.3 35.5 L47.3 37.8 L46.8 40.0 L46.8 42.6 L47.3 47.2 L46.7 51.7 L46.8 56.2 L47.3 60.7 L47.3 65.2 L47.8 69.7 L50.1 69.9 L51.2 65.5 L51.9 61.0 L53.0 56.6 L53.7 52.2 L53.7 47.7 L54.8 43.4 L55.6 41.5 L55.9 39.2 L56.5 37.0 L56.1 34.6 L57.5 32.6 L57.6 30.5 L57.6 28.3 L59.0 26.3 L58.3 23.7 L59.1 21.5 L60.1 19.4 L60.4 16.7 L60.7 11.6 L60.4 6.6 L60.7 1.6 L60.7 -3.3 L60.8 -8.3 L60.5 -13.3Z" fill="#f4e2ea" opacity="1" filter="url(#bl2)"/><path d="M54.3 21.4 L53.1 24.9 L51.8 28.3 L51.4 31.9 L51.1 35.5 L51.1 39.2 L51.4 42.9 L52.5 43.0 L53.8 39.6 L54.7 36.1 L55.5 32.5 L56.1 28.9 L55.7 25.2 L55.5 21.6Z" fill="#ffffff" opacity="0.95" filter="url(#bl2)"/><path d="M61.1 2.6 L60.0 4.7 L59.1 6.9 L58.8 9.1 L58.2 11.3 L58.3 13.6 L58.9 16.0 L59.8 16.2 L61.2 14.1 L62.0 12.0 L62.1 9.7 L62.6 7.5 L62.4 5.1 L62.1 2.8Z" fill="#e8d4dc" opacity="0.7" filter="url(#bl2)"/><path d="M1.7 17.9 L1.4 20.0 L1.3 22.1 L1.0 24.3 L1.5 26.2 L1.8 28.2 L1.8 30.2 L2.4 31.4 L2.9 32.7 L3.1 34.1 L3.9 35.3 L4.8 36.5 L5.8 37.7 L7.5 37.4 L8.0 36.0 L8.5 34.5 L8.7 33.0 L8.5 31.7 L8.4 30.3 L8.5 28.8 L7.8 26.9 L7.2 25.0 L6.8 23.0 L5.6 21.2 L4.6 19.3 L3.5 17.5Z" fill="#f4e2ea" opacity="1" filter="url(#bl2)"/><path d="M2.5 37.6 L1.8 40.4 L1.5 43.1 L1.8 45.8 L1.9 48.5 L2.6 51.2 L4.0 53.7 L4.9 53.7 L5.8 50.9 L6.0 48.1 L5.6 45.5 L5.4 42.8 L4.7 40.1 L3.5 37.5Z" fill="#c0a8b4" opacity="0.8" filter="url(#bl2)"/><path d="M66.8 10.6 L65.4 11.6 L64.5 12.8 L63.7 13.9 L63.6 15.2 L64.0 16.6 L65.3 18.1 L66.8 18.4 L68.5 17.4 L69.5 16.3 L69.8 15.1 L69.5 13.7 L69.1 12.4 L68.3 10.9Z" fill="#ecd8e0" opacity="0.9" filter="url(#bl2)"/><path d="M29.2 10.8 L28.7 12.8 L28.4 14.8 L28.7 16.7 L28.8 18.7 L29.1 20.7 L30.0 22.6 L30.8 22.5 L31.5 20.5 L31.6 18.5 L31.4 16.6 L31.4 14.6 L30.9 12.6 L30.1 10.7Z" fill="#d8b8c8" opacity="0.75" filter="url(#bl2)"/><path d="M20.4 -0.0 L19.4 1.7 L19.1 3.5 L18.9 5.3 L18.8 7.1 L19.0 8.9 L19.6 10.7 L20.4 10.8 L21.3 9.0 L21.7 7.3 L21.9 5.5 L21.9 3.7 L21.9 1.9 L21.2 0.0Z" fill="#c8a8b8" opacity="0.5" filter="url(#bl2)"/><g filter="url(#bl1)" opacity="1"><circle cx="7.2" cy="7.5" r="1.00" fill="#f8a848"/><circle cx="57.5" cy="48.8" r="1.05" fill="#ffe0a0"/><circle cx="27.5" cy="37.9" r="1.24" fill="#20c0c0"/><circle cx="32.1" cy="32.4" r="1.02" fill="#20c0c0"/><circle cx="28.8" cy="31.0" r="0.97" fill="#f0b080"/><circle cx="71.3" cy="37.9" r="0.92" fill="#2050e0"/><circle cx="15.5" cy="45.6" r="1.16" fill="#f59a3a"/><circle cx="36.9" cy="47.8" r="1.18" fill="#f8a848"/><circle cx="8.6" cy="30.2" r="1.15" fill="#e8e060"/><circle cx="32.5" cy="52.6" r="1.21" fill="#f0d040"/><circle cx="32.7" cy="26.4" r="1.16" fill="#30d0a0"/><circle cx="1.5" cy="12.9" r="1.04" fill="#3ad070"/><circle cx="3.7" cy="36.2" r="1.02" fill="#30d0a0"/><circle cx="28.9" cy="24.8" r="0.98" fill="#f59a3a"/><circle cx="6.4" cy="43.4" r="1.07" fill="#f59a3a"/><circle cx="62.4" cy="12.0" r="0.92" fill="#e8e060"/><circle cx="50.2" cy="37.8" r="1.20" fill="#e8e060"/><circle cx="40.8" cy="39.8" r="0.95" fill="#f0b080"/><circle cx="30.3" cy="3.4" r="0.95" fill="#f0c040"/><circle cx="25.1" cy="27.8" r="0.97" fill="#f5c02a"/><circle cx="39.9" cy="27.9" r="1.01" fill="#f59a3a"/><circle cx="19.3" cy="45.5" r="1.04" fill="#30d0a0"/><circle cx="65.1" cy="36.3" r="1.01" fill="#20c0c0"/><circle cx="63.7" cy="42.6" r="0.99" fill="#30d0a0"/><circle cx="15.5" cy="3.5" r="1.13" fill="#30d0a0"/><circle cx="68.5" cy="35.0" r="1.10" fill="#ffe0a0"/><circle cx="27.4" cy="42.6" r="1.06" fill="#3ad070"/><circle cx="53.7" cy="1.2" r="1.04" fill="#f59a3a"/><circle cx="41.8" cy="17.7" r="0.98" fill="#20c0c0"/><circle cx="32.7" cy="11.2" r="1.18" fill="#3ad070"/><circle cx="43.8" cy="24.5" r="1.06" fill="#ffe0a0"/><circle cx="64.5" cy="3.8" r="1.20" fill="#f07050"/><circle cx="36.9" cy="1.5" r="1.10" fill="#ffe0a0"/><circle cx="58.9" cy="26.8" r="1.15" fill="#f0c040"/><circle cx="55.2" cy="42.6" r="1.19" fill="#30d0a0"/><circle cx="11.4" cy="48.6" r="1.08" fill="#3ad070"/><circle cx="7.4" cy="3.4" r="1.13" fill="#3ad070"/><circle cx="50.6" cy="8.9" r="1.22" fill="#f5c02a"/><circle cx="10.5" cy="9.1" r="1.00" fill="#e8e060"/><circle cx="17.7" cy="31.1" r="1.15" fill="#2050e0"/><circle cx="53.0" cy="16.9" r="1.01" fill="#20c0c0"/><circle cx="7.6" cy="25.0" r="0.96" fill="#ffe0a0"/><circle cx="25.0" cy="21.7" r="1.19" fill="#f5c02a"/><circle cx="73.1" cy="49.7" r="0.93" fill="#30d0a0"/><circle cx="67.1" cy="11.2" r="1.20" fill="#20c0c0"/><circle cx="44.2" cy="29.0" r="0.97" fill="#f59a3a"/><circle cx="35.0" cy="40.8" r="1.20" fill="#f8a848"/><circle cx="17.3" cy="49.0" r="1.10" fill="#f5c02a"/><circle cx="14.9" cy="8.7" r="0.92" fill="#20c0c0"/><circle cx="18.8" cy="39.5" r="0.94" fill="#f0d040"/><circle cx="53.3" cy="24.5" r="1.09" fill="#ffe0a0"/><circle cx="58.0" cy="31.8" r="0.91" fill="#e8e060"/><circle cx="3.7" cy="31.0" r="1.13" fill="#f07050"/><circle cx="64.2" cy="25.8" r="0.99" fill="#f0d040"/><circle cx="8.5" cy="13.2" r="1.07" fill="#f0d040"/><circle cx="39.7" cy="6.9" r="0.99" fill="#e8e060"/><circle cx="42.1" cy="3.0" r="1.03" fill="#20c0c0"/><circle cx="15.2" cy="21.8" r="1.25" fill="#3ad070"/><circle cx="39.6" cy="13.3" r="0.91" fill="#f59a3a"/><circle cx="69.3" cy="26.2" r="1.15" fill="#f8a848"/><circle cx="61.9" cy="52.8" r="1.04" fill="#f07050"/><circle cx="44.0" cy="41.6" r="1.19" fill="#ffe0a0"/><circle cx="60.4" cy="4.6" r="1.24" fill="#2050e0"/><circle cx="51.0" cy="43.2" r="0.93" fill="#2050e0"/><circle cx="14.1" cy="17.3" r="1.18" fill="#f07050"/><circle cx="3.1" cy="41.9" r="1.16" fill="#f0d040"/><circle cx="25.8" cy="8.1" r="1.22" fill="#3ad070"/><circle cx="4.5" cy="19.8" r="0.93" fill="#f07050"/><circle cx="10.6" cy="44.0" r="1.22" fill="#20c0c0"/><circle cx="32.4" cy="43.8" r="1.23" fill="#f8a848"/><circle cx="43.9" cy="34.9" r="0.94" fill="#f0c040"/><circle cx="71.1" cy="41.8" r="1.16" fill="#20c0c0"/><circle cx="64.5" cy="30.8" r="1.21" fill="#f0c040"/><circle cx="57.0" cy="18.7" r="1.04" fill="#f07050"/><circle cx="7.1" cy="34.8" r="1.02" fill="#f8a848"/><circle cx="58.4" cy="1.0" r="1.11" fill="#e8e060"/><circle cx="69.8" cy="46.6" r="1.05" fill="#e8e060"/><circle cx="25.2" cy="11.9" r="1.04" fill="#2050e0"/><circle cx="25.2" cy="52.5" r="1.15" fill="#f0d040"/><circle cx="50.4" cy="3.0" r="1.04" fill="#f0d040"/><circle cx="70.5" cy="16.9" r="1.23" fill="#2050e0"/><circle cx="37.6" cy="52.3" r="1.20" fill="#3ad070"/><circle cx="71.1" cy="21.2" r="0.90" fill="#f5c02a"/><circle cx="19.0" cy="19.2" r="1.24" fill="#f59a3a"/><circle cx="55.5" cy="14.0" r="0.93" fill="#f07050"/><circle cx="48.8" cy="33.7" r="1.23" fill="#f07050"/><circle cx="48.3" cy="26.5" r="1.24" fill="#ffe0a0"/><circle cx="50.4" cy="29.8" r="1.01" fill="#e8e060"/><circle cx="1.3" cy="49.6" r="0.95" fill="#20c0c0"/><circle cx="55.1" cy="34.2" r="1.12" fill="#20c0c0"/><circle cx="27.0" cy="47.8" r="0.96" fill="#2050e0"/><circle cx="54.4" cy="9.7" r="1.22" fill="#20c0c0"/><circle cx="43.4" cy="51.4" r="1.24" fill="#f8a848"/><circle cx="70.7" cy="10.6" r="1.21" fill="#20c0c0"/><circle cx="50.3" cy="19.6" r="1.03" fill="#2050e0"/><circle cx="46.6" cy="14.3" r="0.90" fill="#f8a848"/></g>
</svg>
<svg x="259.0" y="96.5" width="74.2" height="53.7" viewBox="0 0 74.2 53.7" overflow="hidden"><rect width="74.2" height="53.7" fill="#000"/>
<path d="M3.7 6.4 L37.1 2.7 L70.5 5.4 L77.9 24.2 L77.9 45.6 L44.5 51.0 L14.8 45.6 L0.0 29.5Z" fill="#3a3a3e" opacity="0.85" filter="url(#bl3)"/><g transform="rotate(-14 37.1 26.8)"><rect x="-40" y="-40" width="160" height="140" filter="url(#sx1)" opacity="0.15"/><rect x="-40" y="-40" width="160" height="140" filter="url(#sx2)" opacity="0.45"/></g><path d="M-3.6 22.9 L1.5 21.3 L6.5 19.4 L11.6 17.7 L16.5 15.8 L21.6 14.1 L26.4 12.3 L30.6 11.5 L34.9 10.3 L39.3 9.6 L43.6 8.8 L47.9 7.9 L52.1 6.9 L56.3 6.9 L60.6 6.5 L64.9 6.4 L69.3 6.4 L73.6 6.2 L77.9 5.7 L77.9 5.0 L73.6 4.6 L69.3 4.4 L64.9 4.4 L60.6 4.3 L56.3 3.8 L51.8 3.8 L47.3 4.6 L42.9 5.5 L38.6 6.5 L34.4 7.6 L30.0 8.2 L25.5 9.2 L20.5 11.3 L15.6 13.6 L10.7 15.6 L5.9 17.8 L1.0 19.9 L-3.9 22.2Z" fill="#000" opacity="0.55" filter="url(#bl2)"/><path d="M-3.6 32.0 L1.5 30.5 L6.6 28.7 L11.6 26.9 L16.5 24.9 L21.5 23.1 L26.4 21.2 L30.6 20.6 L35.0 19.7 L39.2 18.5 L43.6 17.9 L47.9 16.8 L52.1 16.1 L56.3 15.8 L60.6 15.6 L64.9 15.7 L69.3 15.6 L73.6 15.1 L77.9 14.8 L77.9 14.2 L73.6 13.9 L69.3 13.4 L64.9 13.3 L60.6 13.4 L56.3 13.2 L51.8 12.9 L47.3 14.0 L42.9 14.7 L38.7 15.8 L34.3 16.5 L30.0 17.3 L25.6 18.6 L20.5 20.6 L15.6 22.7 L10.7 24.6 L5.8 26.8 L0.9 29.0 L-3.8 31.3Z" fill="#000" opacity="0.55" filter="url(#bl2)"/><path d="M-3.6 41.2 L1.5 39.5 L6.5 37.7 L11.5 35.8 L16.6 34.2 L21.6 32.3 L26.4 30.4 L30.6 29.7 L34.9 28.5 L39.2 27.7 L43.6 27.1 L47.9 25.9 L52.1 24.9 L56.3 24.9 L60.6 24.7 L64.9 24.9 L69.3 24.7 L73.6 24.3 L77.9 24.0 L77.9 23.3 L73.6 22.9 L69.3 22.6 L64.9 22.4 L60.6 22.6 L56.3 22.4 L51.8 22.4 L47.3 23.2 L42.9 23.8 L38.7 24.9 L34.3 25.9 L30.0 26.5 L25.5 27.5 L20.5 29.6 L15.6 31.7 L10.8 34.0 L5.8 36.0 L1.0 38.2 L-3.9 40.4Z" fill="#000" opacity="0.55" filter="url(#bl2)"/><path d="M-3.6 50.3 L1.5 48.7 L6.5 46.8 L11.6 45.2 L16.6 43.3 L21.6 41.5 L26.4 39.5 L30.6 38.7 L34.9 37.9 L39.3 37.1 L43.6 36.0 L47.9 35.1 L52.1 34.2 L56.3 34.3 L60.6 33.8 L64.9 33.7 L69.3 33.7 L73.6 33.4 L77.9 33.2 L77.9 32.3 L73.6 32.1 L69.3 31.8 L64.9 31.8 L60.6 31.7 L56.3 31.2 L51.8 31.3 L47.3 32.2 L43.0 33.1 L38.6 33.7 L34.3 34.8 L30.0 35.8 L25.5 36.7 L20.5 38.7 L15.6 40.8 L10.7 42.9 L5.8 45.2 L0.9 47.2 L-3.9 49.6Z" fill="#000" opacity="0.55" filter="url(#bl2)"/><path d="M-3.6 59.4 L1.5 57.8 L6.6 56.1 L11.5 54.2 L16.5 52.3 L21.6 50.7 L26.4 48.7 L30.6 47.9 L34.9 46.8 L39.3 46.1 L43.6 45.2 L47.9 44.2 L52.1 43.2 L56.3 43.4 L60.6 43.3 L64.9 43.0 L69.3 42.7 L73.6 42.6 L77.9 42.3 L77.9 41.5 L73.6 41.1 L69.3 41.0 L64.9 40.8 L60.6 40.5 L56.3 40.4 L51.8 40.5 L47.3 41.3 L43.0 42.2 L38.6 43.0 L34.4 44.2 L30.0 44.8 L25.5 45.8 L20.5 47.8 L15.6 50.0 L10.7 52.2 L5.8 54.2 L1.0 56.4 L-3.8 58.7Z" fill="#000" opacity="0.55" filter="url(#bl2)"/><path d="M-3.7 40.3 L14.8 48.3 L33.4 56.4 L-3.7 56.4Z" fill="#000" opacity="0.9" filter="url(#bl2)"/><path d="M7.6 25.0 L7.3 26.7 L7.6 27.9 L7.8 29.2 L8.5 30.2 L9.1 31.3 L9.2 32.8 L10.2 33.3 L10.8 34.0 L11.1 34.8 L12.3 35.1 L13.2 35.5 L14.3 35.8 L15.4 35.1 L15.5 34.0 L15.4 32.9 L15.6 31.7 L15.0 31.1 L14.5 30.4 L14.5 29.5 L13.4 28.8 L12.7 27.8 L12.2 26.7 L11.2 25.8 L10.3 24.9 L8.7 24.4Z" fill="#ece4fa" opacity="0.95" filter="url(#bl2)"/><path d="M20.4 17.5 L20.4 19.3 L21.1 20.5 L21.8 21.7 L22.6 22.8 L24.2 23.3 L25.6 23.9 L26.3 23.3 L26.1 21.8 L25.8 20.2 L25.0 19.1 L23.9 18.2 L22.9 17.3 L21.1 16.9Z" fill="#e0e8f8" opacity="0.85" filter="url(#bl2)"/><path d="M37.0 12.3 L38.2 13.6 L39.7 14.2 L41.1 14.9 L42.6 15.1 L44.2 14.9 L45.9 14.5 L46.1 13.4 L44.8 12.3 L43.5 11.4 L42.0 10.9 L40.5 10.9 L38.9 10.7 L37.2 11.3Z" fill="#c8e0f0" opacity="0.85" filter="url(#bl2)"/><path d="M37.3 41.1 L39.0 42.3 L40.5 42.3 L42.1 42.6 L43.5 41.7 L44.9 40.9 L46.2 39.5 L45.9 37.8 L44.2 37.0 L42.6 36.7 L41.0 36.3 L39.6 37.2 L38.2 37.8 L36.9 39.4Z" fill="#f4ecfa" opacity="0.95" filter="url(#bl2)"/><path d="M55.6 37.2 L58.9 39.2 L62.2 39.3 L65.5 40.4 L68.8 40.4 L72.2 39.8 L75.6 38.4 L75.7 36.8 L72.5 35.0 L69.2 34.1 L65.8 33.7 L62.5 34.4 L59.1 34.2 L55.7 35.8Z" fill="#f8f4ff" opacity="1" filter="url(#bl2)"/><path d="M57.9 25.7 L58.7 26.8 L59.4 27.3 L60.0 27.0 L60.7 27.0 L61.2 26.1 L61.7 25.3 L61.5 24.1 L60.8 23.5 L60.0 22.7 L59.4 23.0 L58.8 22.9 L58.3 23.5 L57.8 24.8Z" fill="#ffffff" opacity="0.95" filter="url(#bl2)"/><path d="M57.5 50.9 L58.4 51.1 L59.3 51.2 L59.8 51.0 L60.2 50.7 L60.1 49.9 L59.8 48.8 L58.9 47.9 L57.8 47.5 L57.0 47.4 L56.7 47.8 L56.5 48.3 L56.6 49.1 L56.7 50.1Z" fill="#d0c0f0" opacity="0.85" filter="url(#bl2)"/><path d="M67.9 1.5 L68.1 2.9 L68.5 3.9 L69.2 4.5 L70.1 4.8 L71.1 5.0 L72.4 4.7 L73.0 3.9 L72.9 2.5 L72.4 1.6 L71.8 0.8 L71.0 0.4 L70.0 0.3 L68.6 0.6Z" fill="#c090d0" opacity="0.7" filter="url(#bl2)"/><g filter="url(#bl1)"><circle cx="10.9" cy="24.9" r="0.67" fill="#ffffff"/><circle cx="11.9" cy="26.3" r="0.54" fill="#ffffff"/><circle cx="12.4" cy="27.3" r="0.85" fill="#ffe8f4"/><circle cx="14.6" cy="29.7" r="0.82" fill="#ffe8f4"/><circle cx="14.1" cy="26.3" r="0.84" fill="#e0f0ff"/><circle cx="9.7" cy="29.9" r="0.60" fill="#ffffff"/><circle cx="12.4" cy="29.2" r="0.61" fill="#ffe8f4"/><circle cx="11.6" cy="24.8" r="0.56" fill="#ffe8f4"/><circle cx="11.3" cy="30.4" r="0.59" fill="#ffe8f4"/><circle cx="14.4" cy="31.1" r="0.89" fill="#ffffff"/><circle cx="10.6" cy="30.3" r="0.86" fill="#ffffff"/><circle cx="12.4" cy="27.5" r="0.72" fill="#ffe8f4"/><circle cx="8.3" cy="30.6" r="0.58" fill="#f0e8ff"/><circle cx="11.7" cy="33.4" r="0.85" fill="#ffffff"/></g><g filter="url(#bl1)"><circle cx="22.8" cy="19.7" r="0.58" fill="#ffe8f4"/><circle cx="20.6" cy="18.6" r="0.77" fill="#ffe8f4"/><circle cx="23.9" cy="17.3" r="0.79" fill="#ffe8f4"/><circle cx="25.1" cy="23.3" r="0.84" fill="#f0e8ff"/><circle cx="23.3" cy="17.7" r="0.85" fill="#f0e8ff"/><circle cx="25.5" cy="22.3" r="0.65" fill="#f0e8ff"/><circle cx="24.8" cy="16.6" r="0.50" fill="#f0e8ff"/><circle cx="21.7" cy="17.7" r="0.52" fill="#ffffff"/><circle cx="24.9" cy="19.5" r="0.50" fill="#ffe8f4"/><circle cx="25.2" cy="21.0" r="0.87" fill="#f0e8ff"/></g><g filter="url(#bl1)"><circle cx="41.7" cy="12.5" r="0.72" fill="#ffe8f4"/><circle cx="41.4" cy="13.8" r="0.51" fill="#ffffff"/><circle cx="41.8" cy="10.4" r="0.54" fill="#f0e8ff"/><circle cx="42.2" cy="12.0" r="0.70" fill="#ffffff"/><circle cx="36.5" cy="12.7" r="0.65" fill="#ffffff"/><circle cx="42.1" cy="13.0" r="0.76" fill="#ffffff"/><circle cx="37.7" cy="12.9" r="0.74" fill="#ffffff"/><circle cx="40.4" cy="10.9" r="0.75" fill="#ffe8f4"/><circle cx="41.3" cy="13.0" r="0.80" fill="#ffffff"/><circle cx="42.9" cy="14.5" r="0.83" fill="#f0e8ff"/></g><g filter="url(#bl1)"><circle cx="44.9" cy="40.9" r="0.58" fill="#ffe8f4"/><circle cx="46.0" cy="38.9" r="0.53" fill="#e0f0ff"/><circle cx="40.9" cy="38.5" r="0.60" fill="#ffffff"/><circle cx="43.9" cy="40.0" r="0.62" fill="#e0f0ff"/><circle cx="44.2" cy="41.1" r="0.89" fill="#f0e8ff"/><circle cx="42.8" cy="39.2" r="0.55" fill="#f0e8ff"/><circle cx="37.9" cy="38.9" r="0.66" fill="#f0e8ff"/><circle cx="45.8" cy="37.9" r="0.82" fill="#ffffff"/><circle cx="44.1" cy="36.9" r="0.51" fill="#f0e8ff"/><circle cx="43.7" cy="37.6" r="0.85" fill="#f0e8ff"/><circle cx="39.5" cy="38.2" r="0.60" fill="#f0e8ff"/><circle cx="41.5" cy="40.8" r="0.64" fill="#e0f0ff"/><circle cx="40.1" cy="39.9" r="0.57" fill="#ffe8f4"/><circle cx="42.0" cy="36.3" r="0.90" fill="#e0f0ff"/><circle cx="41.2" cy="40.6" r="0.66" fill="#ffffff"/><circle cx="39.3" cy="41.1" r="0.64" fill="#e0f0ff"/></g><g filter="url(#bl1)"><circle cx="73.5" cy="37.1" r="0.60" fill="#e0f0ff"/><circle cx="67.1" cy="34.9" r="0.54" fill="#e0f0ff"/><circle cx="60.8" cy="37.8" r="0.53" fill="#ffffff"/><circle cx="68.4" cy="36.8" r="0.71" fill="#f0e8ff"/><circle cx="70.5" cy="36.3" r="0.87" fill="#ffffff"/><circle cx="63.0" cy="36.0" r="0.80" fill="#ffffff"/><circle cx="64.0" cy="35.2" r="0.55" fill="#f0e8ff"/><circle cx="59.8" cy="35.5" r="0.57" fill="#e0f0ff"/><circle cx="65.4" cy="35.7" r="0.60" fill="#ffffff"/><circle cx="72.7" cy="38.7" r="0.76" fill="#f0e8ff"/><circle cx="61.4" cy="35.1" r="0.78" fill="#e0f0ff"/><circle cx="72.3" cy="38.3" r="0.71" fill="#ffffff"/><circle cx="63.4" cy="37.8" r="0.55" fill="#ffe8f4"/><circle cx="61.5" cy="35.3" r="0.85" fill="#ffe8f4"/><circle cx="66.4" cy="37.8" r="0.62" fill="#ffe8f4"/><circle cx="64.2" cy="36.0" r="0.90" fill="#ffffff"/><circle cx="69.2" cy="35.5" r="0.63" fill="#f0e8ff"/><circle cx="73.8" cy="37.6" r="0.59" fill="#f0e8ff"/><circle cx="67.8" cy="34.7" r="0.61" fill="#ffffff"/><circle cx="66.4" cy="36.5" r="0.54" fill="#e0f0ff"/><circle cx="63.5" cy="36.1" r="0.56" fill="#ffffff"/><circle cx="66.2" cy="36.6" r="0.60" fill="#ffffff"/><circle cx="61.7" cy="36.5" r="0.53" fill="#ffffff"/><circle cx="64.2" cy="40.1" r="0.87" fill="#e0f0ff"/></g><g filter="url(#bl1)"><circle cx="57.8" cy="26.0" r="0.56" fill="#e0f0ff"/><circle cx="58.7" cy="25.2" r="0.77" fill="#f0e8ff"/><circle cx="60.2" cy="24.3" r="0.80" fill="#ffffff"/><circle cx="59.5" cy="25.5" r="0.59" fill="#ffe8f4"/><circle cx="60.1" cy="24.0" r="0.86" fill="#e0f0ff"/><circle cx="59.7" cy="24.4" r="0.77" fill="#e0f0ff"/><circle cx="59.4" cy="25.0" r="0.68" fill="#ffffff"/></g><g filter="url(#bl1)"><circle cx="59.5" cy="50.4" r="0.70" fill="#ffe8f4"/><circle cx="59.3" cy="50.3" r="0.57" fill="#f0e8ff"/><circle cx="57.4" cy="49.6" r="0.58" fill="#e0f0ff"/><circle cx="56.7" cy="50.4" r="0.87" fill="#ffffff"/><circle cx="59.0" cy="49.8" r="0.80" fill="#ffe8f4"/><circle cx="60.1" cy="50.7" r="0.71" fill="#f0e8ff"/><circle cx="55.9" cy="49.2" r="0.63" fill="#ffffff"/></g><g filter="url(#bl1)"><circle cx="71.7" cy="3.3" r="0.87" fill="#ffe8f4"/><circle cx="70.7" cy="1.9" r="0.82" fill="#e0f0ff"/><circle cx="71.6" cy="3.4" r="0.82" fill="#ffffff"/><circle cx="72.6" cy="4.5" r="0.69" fill="#f0e8ff"/><circle cx="68.2" cy="2.6" r="0.82" fill="#ffffff"/><circle cx="69.0" cy="1.0" r="0.51" fill="#f0e8ff"/></g><g filter="url(#bl1)" opacity="1"><circle cx="56.9" cy="35.4" r="1.08" fill="#e060c0"/><circle cx="11.3" cy="42.7" r="1.11" fill="#f08090"/><circle cx="63.0" cy="20.0" r="0.91" fill="#ffffff"/><circle cx="17.3" cy="32.0" r="1.01" fill="#40c8a0"/><circle cx="62.5" cy="15.7" r="1.14" fill="#e060c0"/><circle cx="22.9" cy="17.2" r="1.18" fill="#d080e0"/><circle cx="30.0" cy="36.2" r="0.98" fill="#30d0d0"/><circle cx="36.0" cy="4.2" r="1.03" fill="#f08090"/><circle cx="69.6" cy="26.4" r="1.07" fill="#d080e0"/><circle cx="16.5" cy="44.2" r="0.96" fill="#d080e0"/><circle cx="57.7" cy="14.9" r="0.86" fill="#f08090"/><circle cx="13.7" cy="22.3" r="1.05" fill="#30d0d0"/><circle cx="61.6" cy="8.9" r="1.06" fill="#6080f0"/><circle cx="35.3" cy="29.3" r="0.90" fill="#50e090"/><circle cx="18.3" cy="7.1" r="0.90" fill="#50e090"/><circle cx="10.8" cy="28.0" r="0.96" fill="#30b0e0"/><circle cx="55.5" cy="9.5" r="0.91" fill="#50e090"/><circle cx="43.3" cy="24.4" r="0.94" fill="#50e090"/><circle cx="42.2" cy="12.4" r="1.18" fill="#e060c0"/><circle cx="20.3" cy="49.9" r="0.88" fill="#50e090"/><circle cx="32.4" cy="43.5" r="1.17" fill="#30d0d0"/><circle cx="5.9" cy="40.1" r="1.15" fill="#e060c0"/><circle cx="31.3" cy="28.4" r="1.13" fill="#6080f0"/><circle cx="48.2" cy="27.5" r="1.01" fill="#40c8a0"/><circle cx="50.2" cy="20.1" r="1.19" fill="#c0a0f0"/><circle cx="14.8" cy="4.8" r="1.05" fill="#6080f0"/><circle cx="14.0" cy="36.9" r="1.08" fill="#6080f0"/><circle cx="30.7" cy="50.6" r="1.09" fill="#6080f0"/><circle cx="49.6" cy="42.5" r="1.01" fill="#30d0d0"/><circle cx="25.5" cy="40.4" r="1.16" fill="#ffffff"/><circle cx="34.6" cy="17.7" r="1.19" fill="#d080e0"/><circle cx="7.3" cy="51.4" r="0.99" fill="#c0a0f0"/><circle cx="70.6" cy="47.7" r="0.98" fill="#d080e0"/><circle cx="73.2" cy="34.1" r="0.89" fill="#6080f0"/><circle cx="37.8" cy="46.9" r="1.00" fill="#30b0e0"/><circle cx="6.4" cy="31.1" r="1.05" fill="#f08090"/><circle cx="32.5" cy="9.9" r="1.09" fill="#2080e0"/><circle cx="29.4" cy="6.9" r="1.12" fill="#ffffff"/><circle cx="61.5" cy="34.3" r="0.94" fill="#ffffff"/><circle cx="43.8" cy="40.9" r="1.12" fill="#f08090"/><circle cx="62.5" cy="46.4" r="0.87" fill="#30b0e0"/><circle cx="65.9" cy="31.8" r="1.10" fill="#50e090"/><circle cx="20.6" cy="4.4" r="1.14" fill="#30d0d0"/><circle cx="7.0" cy="13.8" r="0.93" fill="#e060c0"/><circle cx="20.0" cy="37.8" r="0.86" fill="#d080e0"/><circle cx="71.2" cy="8.5" r="0.88" fill="#f08090"/><circle cx="26.1" cy="16.0" r="1.16" fill="#2080e0"/><circle cx="25.0" cy="49.1" r="0.91" fill="#6080f0"/><circle cx="51.4" cy="14.5" r="0.97" fill="#f08090"/><circle cx="36.5" cy="10.6" r="1.13" fill="#c0a0f0"/><circle cx="55.3" cy="44.5" r="0.98" fill="#50e090"/><circle cx="58.7" cy="42.6" r="0.87" fill="#40c8a0"/><circle cx="33.6" cy="25.2" r="1.07" fill="#d080e0"/><circle cx="60.7" cy="25.4" r="0.90" fill="#50e090"/><circle cx="8.6" cy="33.8" r="1.11" fill="#d080e0"/><circle cx="24.9" cy="3.8" r="1.10" fill="#d080e0"/><circle cx="16.8" cy="16.0" r="1.10" fill="#ffffff"/><circle cx="14.2" cy="52.2" r="1.16" fill="#ffffff"/><circle cx="10.3" cy="4.0" r="1.12" fill="#2080e0"/><circle cx="60.8" cy="38.1" r="0.99" fill="#6080f0"/><circle cx="38.8" cy="16.8" r="0.96" fill="#30b0e0"/><circle cx="46.5" cy="13.6" r="0.92" fill="#30d0d0"/><circle cx="52.8" cy="28.4" r="0.89" fill="#40c8a0"/><circle cx="5.9" cy="21.0" r="0.87" fill="#2080e0"/><circle cx="68.9" cy="22.6" r="1.04" fill="#f08090"/><circle cx="56.6" cy="5.4" r="0.90" fill="#6080f0"/><circle cx="63.1" cy="50.0" r="0.90" fill="#c0a0f0"/><circle cx="34.6" cy="33.1" r="1.08" fill="#6080f0"/><circle cx="25.5" cy="27.9" r="0.99" fill="#e060c0"/><circle cx="4.5" cy="15.8" r="0.90" fill="#ffffff"/><circle cx="35.1" cy="50.6" r="1.13" fill="#30b0e0"/><circle cx="55.9" cy="21.3" r="1.11" fill="#d080e0"/><circle cx="10.2" cy="10.9" r="0.89" fill="#2080e0"/><circle cx="59.9" cy="18.5" r="0.86" fill="#d080e0"/><circle cx="38.0" cy="43.2" r="1.19" fill="#e060c0"/><circle cx="45.5" cy="17.1" r="1.09" fill="#f08090"/><circle cx="48.7" cy="3.7" r="1.15" fill="#30d0d0"/><circle cx="42.5" cy="1.3" r="1.06" fill="#6080f0"/><circle cx="24.5" cy="45.0" r="1.18" fill="#6080f0"/><circle cx="22.7" cy="33.0" r="0.98" fill="#50e090"/><circle cx="47.0" cy="47.0" r="1.14" fill="#d080e0"/><circle cx="65.4" cy="9.7" r="1.13" fill="#e060c0"/><circle cx="28.4" cy="44.5" r="0.93" fill="#e060c0"/><circle cx="52.6" cy="35.8" r="0.97" fill="#30d0d0"/><circle cx="68.9" cy="39.6" r="1.04" fill="#ffffff"/></g>
</svg>
<svg x="259.0" y="152.2" width="74.2" height="53.8" viewBox="0 0 74.2 53.8" overflow="hidden"><rect width="74.2" height="53.8" fill="#000"/>
<path d="M-3.7 8.1 L33.4 0.0 L57.9 1.1 L63.1 16.1 L77.9 26.9 L77.9 53.8 L37.1 51.1 L-3.7 53.8Z" fill="#5a5058" opacity="0.8" filter="url(#bl3)"/><g transform="rotate(10 37.1 26.9)"><rect x="-40" y="-40" width="160" height="140" filter="url(#sx1)" opacity="0.22"/><rect x="-40" y="-40" width="160" height="140" filter="url(#sx2)" opacity="0.55"/></g><path d="M-3.8 12.3 L9.7 15.6 L23.2 18.5 L36.8 21.2 L50.4 23.5 L64.1 25.5 L77.8 27.3 L78.0 26.5 L64.5 23.3 L51.0 20.2 L37.4 17.6 L23.8 15.2 L10.1 13.1 L-3.6 11.4Z" fill="#000" opacity="0.7" filter="url(#bl2)"/><path d="M-3.8 24.6 L9.6 28.6 L23.1 32.0 L36.8 35.1 L50.4 38.0 L64.1 40.9 L77.8 43.5 L78.0 42.6 L64.5 38.9 L51.0 35.5 L37.4 32.1 L23.9 28.9 L10.2 26.1 L-3.6 23.8Z" fill="#000" opacity="0.7" filter="url(#bl2)"/><path d="M18.5 53.2 L28.4 53.9 L38.3 54.5 L48.2 54.9 L58.1 54.9 L68.0 54.6 L77.9 54.2 L77.9 53.4 L68.0 52.6 L58.2 51.9 L48.3 51.6 L38.4 51.6 L28.5 51.9 L18.6 52.3Z" fill="#000" opacity="0.7" filter="url(#bl2)"/><path d="M-3.8 38.1 L4.7 40.5 L13.3 42.7 L21.9 44.6 L30.6 46.4 L39.3 47.9 L48.1 48.8 L48.3 48.0 L39.8 45.4 L31.2 43.3 L22.6 41.5 L13.9 39.8 L5.2 38.4 L-3.6 37.2Z" fill="#000" opacity="0.7" filter="url(#bl2)"/><path d="M22.2 30.0 L31.5 31.0 L40.8 31.8 L50.0 32.1 L59.3 32.1 L68.6 32.2 L77.9 31.6 L77.9 30.8 L68.7 29.6 L59.4 29.2 L50.1 28.7 L40.9 28.5 L31.6 28.8 L22.3 29.2Z" fill="#000" opacity="0.7" filter="url(#bl2)"/><path d="M38.5 4.6 L40.6 6.2 L42.9 6.4 L45.0 7.1 L47.3 6.7 L49.5 7.0 L51.9 5.5 L52.0 4.2 L49.9 2.4 L47.7 2.2 L45.5 1.5 L43.2 1.8 L41.0 1.7 L38.6 2.9Z" fill="#f8f0f8" opacity="0.95" filter="url(#bl2)"/><path d="M-0.4 16.4 L-0.8 18.0 L-0.8 19.5 L-0.2 20.5 L0.5 21.6 L1.7 22.3 L3.2 22.9 L4.2 22.3 L4.5 20.7 L4.5 19.3 L3.9 18.2 L3.3 17.1 L2.0 16.4 L0.4 15.9Z" fill="#e8d8e8" opacity="0.85" filter="url(#bl2)"/><path d="M31.0 12.4 L31.7 13.7 L32.7 14.1 L33.6 14.6 L34.5 15.2 L35.7 14.6 L37.0 14.0 L37.2 12.9 L36.5 11.8 L35.7 10.6 L34.7 10.7 L33.6 10.7 L32.6 10.5 L31.3 11.3Z" fill="#d8d0f0" opacity="0.85" filter="url(#bl2)"/><path d="M35.4 21.1 L37.0 23.3 L39.2 24.4 L41.2 26.0 L43.5 26.5 L46.1 26.5 L48.7 26.4 L49.2 25.2 L47.4 23.3 L45.5 21.6 L43.4 20.3 L40.9 20.1 L38.6 19.4 L35.9 19.8Z" fill="#fbf4fb" opacity="0.95" filter="url(#bl2)"/><path d="M50.0 26.0 L49.7 27.5 L50.0 28.6 L50.2 29.9 L51.1 30.8 L51.8 31.7 L53.0 32.5 L53.8 32.1 L54.1 30.7 L53.8 29.5 L53.7 28.2 L52.9 27.3 L52.2 26.3 L50.9 25.6Z" fill="#f0e4f0" opacity="0.8" filter="url(#bl2)"/><path d="M41.4 34.1 L45.5 36.0 L49.5 37.5 L53.8 38.0 L58.0 38.6 L62.3 38.2 L66.7 37.9 L66.9 36.4 L62.8 34.8 L58.8 33.1 L54.6 32.5 L50.4 31.7 L46.1 32.0 L41.7 32.6Z" fill="#f8f0f8" opacity="0.95" filter="url(#bl2)"/><path d="M22.1 37.8 L24.9 39.7 L27.8 41.3 L30.8 42.3 L34.1 42.3 L37.3 42.4 L40.6 42.1 L41.0 40.7 L38.1 39.1 L35.2 37.7 L32.2 36.2 L29.1 35.8 L25.8 36.0 L22.4 36.4Z" fill="#f4ecf4" opacity="0.9" filter="url(#bl2)"/><path d="M5.8 46.8 L8.3 48.5 L10.8 50.1 L13.6 50.3 L16.3 50.5 L19.1 50.6 L22.1 49.4 L22.4 47.4 L20.0 45.4 L17.3 44.6 L14.6 43.9 L12.0 43.1 L9.0 43.9 L6.1 44.7Z" fill="#fff" opacity="1" filter="url(#bl2)"/><path d="M49.1 50.8 L53.7 51.5 L58.3 51.6 L62.7 50.7 L67.1 50.1 L71.5 48.7 L75.8 46.9 L75.6 45.6 L71.0 45.1 L66.4 44.9 L62.0 45.6 L57.5 46.0 L53.1 47.3 L48.9 49.3Z" fill="#f8f0f8" opacity="0.95" filter="url(#bl2)"/><path d="M62.8 16.6 L63.7 18.4 L65.1 19.5 L66.5 20.5 L67.9 21.6 L69.6 22.0 L71.7 22.0 L72.2 21.1 L71.3 19.2 L70.1 17.9 L68.6 17.1 L67.0 16.4 L65.4 15.7 L63.3 15.7Z" fill="#c8b8c8" opacity="0.7" filter="url(#bl2)"/><g filter="url(#bl1)"><circle cx="45.7" cy="6.3" r="0.52" fill="#ffffff"/><circle cx="46.8" cy="1.9" r="0.57" fill="#f0e8ff"/><circle cx="41.5" cy="4.0" r="0.83" fill="#f0e8ff"/><circle cx="38.9" cy="2.8" r="0.58" fill="#ffffff"/><circle cx="44.5" cy="2.1" r="0.78" fill="#e0f0ff"/><circle cx="46.8" cy="2.9" r="0.70" fill="#ffe8f4"/><circle cx="48.8" cy="3.7" r="0.53" fill="#ffffff"/><circle cx="48.7" cy="3.2" r="0.67" fill="#e0f0ff"/><circle cx="39.0" cy="4.8" r="0.90" fill="#e0f0ff"/><circle cx="39.4" cy="5.5" r="0.90" fill="#f0e8ff"/><circle cx="46.8" cy="5.6" r="0.75" fill="#e0f0ff"/><circle cx="42.4" cy="6.2" r="0.68" fill="#f0e8ff"/><circle cx="45.8" cy="5.6" r="0.70" fill="#f0e8ff"/><circle cx="38.7" cy="5.5" r="0.81" fill="#ffe8f4"/></g><g filter="url(#bl1)"><circle cx="38.9" cy="23.4" r="0.71" fill="#ffe8f4"/><circle cx="40.3" cy="22.5" r="0.57" fill="#ffffff"/><circle cx="39.8" cy="24.8" r="0.53" fill="#ffffff"/><circle cx="39.6" cy="24.9" r="0.64" fill="#ffe8f4"/><circle cx="39.4" cy="21.2" r="0.83" fill="#ffffff"/><circle cx="48.5" cy="24.0" r="0.69" fill="#ffe8f4"/><circle cx="47.6" cy="22.3" r="0.56" fill="#ffffff"/><circle cx="44.5" cy="22.8" r="0.65" fill="#ffe8f4"/><circle cx="43.7" cy="20.5" r="0.77" fill="#e0f0ff"/><circle cx="43.1" cy="22.0" r="0.72" fill="#f0e8ff"/><circle cx="41.8" cy="24.2" r="0.86" fill="#ffffff"/><circle cx="37.4" cy="20.9" r="0.68" fill="#e0f0ff"/><circle cx="37.8" cy="25.8" r="0.64" fill="#e0f0ff"/><circle cx="39.2" cy="21.3" r="0.63" fill="#ffe8f4"/></g><g filter="url(#bl1)"><circle cx="46.1" cy="34.3" r="0.84" fill="#ffffff"/><circle cx="48.2" cy="36.6" r="0.65" fill="#ffffff"/><circle cx="52.3" cy="36.9" r="0.83" fill="#f0e8ff"/><circle cx="60.3" cy="34.9" r="0.53" fill="#f0e8ff"/><circle cx="64.3" cy="36.4" r="0.56" fill="#f0e8ff"/><circle cx="55.0" cy="37.1" r="0.55" fill="#ffffff"/><circle cx="62.2" cy="34.9" r="0.87" fill="#ffffff"/><circle cx="54.0" cy="34.7" r="0.84" fill="#ffffff"/><circle cx="53.3" cy="33.1" r="0.65" fill="#ffffff"/><circle cx="46.0" cy="33.9" r="0.57" fill="#f0e8ff"/><circle cx="55.3" cy="35.5" r="0.52" fill="#ffffff"/><circle cx="60.1" cy="35.8" r="0.78" fill="#f0e8ff"/><circle cx="56.8" cy="36.1" r="0.57" fill="#e0f0ff"/><circle cx="47.3" cy="33.2" r="0.64" fill="#ffe8f4"/><circle cx="49.9" cy="36.9" r="0.68" fill="#ffe8f4"/><circle cx="66.6" cy="35.1" r="0.78" fill="#f0e8ff"/><circle cx="59.7" cy="37.7" r="0.82" fill="#ffffff"/><circle cx="44.0" cy="36.2" r="0.86" fill="#ffe8f4"/><circle cx="41.6" cy="34.8" r="0.51" fill="#ffe8f4"/><circle cx="60.7" cy="34.2" r="0.63" fill="#ffe8f4"/></g><g filter="url(#bl1)"><circle cx="28.1" cy="39.2" r="0.52" fill="#f0e8ff"/><circle cx="23.5" cy="39.3" r="0.56" fill="#ffffff"/><circle cx="22.0" cy="39.3" r="0.78" fill="#ffffff"/><circle cx="34.1" cy="38.1" r="0.78" fill="#f0e8ff"/><circle cx="23.9" cy="38.3" r="0.66" fill="#ffe8f4"/><circle cx="40.0" cy="38.6" r="0.75" fill="#e0f0ff"/><circle cx="34.0" cy="38.7" r="0.90" fill="#f0e8ff"/><circle cx="33.4" cy="37.0" r="0.83" fill="#e0f0ff"/><circle cx="27.8" cy="41.3" r="0.60" fill="#e0f0ff"/><circle cx="35.9" cy="41.3" r="0.70" fill="#e0f0ff"/><circle cx="37.2" cy="37.2" r="0.70" fill="#ffffff"/><circle cx="36.0" cy="41.1" r="0.73" fill="#e0f0ff"/><circle cx="26.2" cy="38.4" r="0.87" fill="#ffffff"/><circle cx="28.7" cy="38.8" r="0.65" fill="#ffffff"/></g><g filter="url(#bl1)"><circle cx="10.6" cy="45.6" r="0.85" fill="#e0f0ff"/><circle cx="19.6" cy="47.8" r="0.65" fill="#ffffff"/><circle cx="7.5" cy="46.9" r="0.59" fill="#e0f0ff"/><circle cx="14.0" cy="48.6" r="0.87" fill="#ffe8f4"/><circle cx="15.7" cy="44.2" r="0.76" fill="#e0f0ff"/><circle cx="7.0" cy="47.6" r="0.66" fill="#ffe8f4"/><circle cx="16.2" cy="46.7" r="0.83" fill="#e0f0ff"/><circle cx="23.2" cy="47.9" r="0.72" fill="#f0e8ff"/><circle cx="10.0" cy="49.2" r="0.84" fill="#e0f0ff"/><circle cx="15.3" cy="46.4" r="0.69" fill="#ffffff"/><circle cx="21.6" cy="48.2" r="0.85" fill="#f0e8ff"/><circle cx="9.3" cy="47.3" r="0.79" fill="#e0f0ff"/><circle cx="10.1" cy="49.4" r="0.57" fill="#f0e8ff"/><circle cx="10.2" cy="44.6" r="0.76" fill="#e0f0ff"/><circle cx="13.3" cy="47.7" r="0.87" fill="#ffe8f4"/><circle cx="17.1" cy="45.8" r="0.60" fill="#ffffff"/><circle cx="16.4" cy="49.8" r="0.75" fill="#ffffff"/><circle cx="10.7" cy="45.2" r="0.84" fill="#ffe8f4"/><circle cx="16.1" cy="48.7" r="0.69" fill="#e0f0ff"/><circle cx="11.7" cy="44.3" r="0.59" fill="#ffe8f4"/><circle cx="8.8" cy="47.1" r="0.58" fill="#e0f0ff"/><circle cx="18.6" cy="49.0" r="0.72" fill="#ffe8f4"/></g><g filter="url(#bl1)"><circle cx="70.6" cy="46.8" r="0.86" fill="#ffe8f4"/><circle cx="54.8" cy="48.5" r="0.65" fill="#ffe8f4"/><circle cx="61.6" cy="46.5" r="0.56" fill="#ffffff"/><circle cx="52.1" cy="50.4" r="0.89" fill="#f0e8ff"/><circle cx="54.6" cy="48.4" r="0.63" fill="#f0e8ff"/><circle cx="60.2" cy="48.7" r="0.58" fill="#ffffff"/><circle cx="68.9" cy="48.0" r="0.65" fill="#e0f0ff"/><circle cx="48.2" cy="48.7" r="0.58" fill="#f0e8ff"/><circle cx="54.5" cy="50.0" r="0.62" fill="#f0e8ff"/><circle cx="58.4" cy="46.5" r="0.67" fill="#f0e8ff"/><circle cx="56.0" cy="48.1" r="0.70" fill="#ffffff"/><circle cx="61.0" cy="47.3" r="0.54" fill="#e0f0ff"/><circle cx="72.7" cy="47.2" r="0.77" fill="#ffffff"/><circle cx="59.5" cy="51.1" r="0.54" fill="#e0f0ff"/><circle cx="57.2" cy="50.2" r="0.50" fill="#ffe8f4"/><circle cx="54.5" cy="50.2" r="0.71" fill="#f0e8ff"/><circle cx="66.0" cy="48.5" r="0.57" fill="#f0e8ff"/><circle cx="71.1" cy="50.0" r="0.61" fill="#e0f0ff"/></g><g filter="url(#bl1)"><circle cx="33.2" cy="11.3" r="0.90" fill="#ffffff"/><circle cx="37.2" cy="13.2" r="0.89" fill="#ffffff"/><circle cx="35.8" cy="10.6" r="0.71" fill="#ffe8f4"/><circle cx="32.2" cy="13.6" r="0.88" fill="#ffffff"/><circle cx="36.9" cy="12.3" r="0.76" fill="#f0e8ff"/><circle cx="32.7" cy="13.2" r="0.55" fill="#e0f0ff"/><circle cx="34.1" cy="13.0" r="0.56" fill="#f0e8ff"/></g><g filter="url(#bl1)"><circle cx="3.7" cy="21.5" r="0.55" fill="#e0f0ff"/><circle cx="0.6" cy="19.3" r="0.72" fill="#ffe8f4"/><circle cx="0.4" cy="20.1" r="0.79" fill="#f0e8ff"/><circle cx="1.4" cy="20.1" r="0.80" fill="#f0e8ff"/><circle cx="3.2" cy="18.1" r="0.81" fill="#ffe8f4"/><circle cx="1.1" cy="18.2" r="0.69" fill="#ffffff"/></g><g filter="url(#bl1)" opacity="1"><circle cx="16.9" cy="35.8" r="1.08" fill="#40d0c0"/><circle cx="37.3" cy="49.0" r="1.27" fill="#80f0c0"/><circle cx="15.2" cy="14.4" r="1.20" fill="#40a0e0"/><circle cx="25.4" cy="4.9" r="0.93" fill="#a0b0ff"/><circle cx="57.4" cy="24.1" r="0.96" fill="#40e0b0"/><circle cx="23.0" cy="17.7" r="1.18" fill="#60e0a0"/><circle cx="31.9" cy="9.5" r="1.10" fill="#40d0c0"/><circle cx="72.7" cy="39.2" r="1.23" fill="#f0d080"/><circle cx="58.2" cy="15.7" r="1.03" fill="#40d0c0"/><circle cx="8.2" cy="39.6" r="1.10" fill="#f0a0c0"/><circle cx="13.0" cy="35.8" r="1.00" fill="#ffe0b0"/><circle cx="33.8" cy="13.3" r="0.90" fill="#e060d0"/><circle cx="17.0" cy="21.6" r="1.06" fill="#f0a0c0"/><circle cx="39.7" cy="15.8" r="1.03" fill="#40a0e0"/><circle cx="50.8" cy="23.3" r="0.93" fill="#f0d080"/><circle cx="4.9" cy="10.8" r="1.27" fill="#a0b0ff"/><circle cx="8.1" cy="27.0" r="1.00" fill="#e060d0"/><circle cx="8.0" cy="49.1" r="1.22" fill="#80f0c0"/><circle cx="22.0" cy="49.5" r="0.95" fill="#e060d0"/><circle cx="5.7" cy="23.6" r="1.17" fill="#40e0b0"/><circle cx="51.4" cy="31.0" r="1.22" fill="#40d0c0"/><circle cx="58.2" cy="4.7" r="1.00" fill="#40a0e0"/><circle cx="16.8" cy="50.3" r="1.04" fill="#a0b0ff"/><circle cx="51.3" cy="19.9" r="0.96" fill="#a0b0ff"/><circle cx="66.7" cy="35.2" r="1.19" fill="#a0b0ff"/><circle cx="9.2" cy="20.7" r="0.99" fill="#40e0b0"/><circle cx="11.9" cy="46.4" r="1.25" fill="#60e0a0"/><circle cx="73.1" cy="17.4" r="1.25" fill="#2040e0"/><circle cx="43.5" cy="51.4" r="1.21" fill="#40e0b0"/><circle cx="61.7" cy="28.6" r="1.11" fill="#a0b0ff"/><circle cx="35.9" cy="18.4" r="1.04" fill="#40a0e0"/><circle cx="45.8" cy="35.2" r="1.10" fill="#f0d080"/><circle cx="31.2" cy="35.5" r="0.92" fill="#f0d080"/><circle cx="22.1" cy="7.0" r="1.18" fill="#40e0b0"/><circle cx="57.5" cy="27.8" r="1.18" fill="#f0a0c0"/><circle cx="61.1" cy="2.5" r="1.09" fill="#a0b0ff"/><circle cx="53.9" cy="11.9" r="1.24" fill="#e060d0"/><circle cx="48.3" cy="43.9" r="1.16" fill="#ffe0b0"/><circle cx="49.9" cy="34.0" r="1.01" fill="#40d0c0"/><circle cx="5.2" cy="19.6" r="1.07" fill="#40d0c0"/><circle cx="45.0" cy="47.3" r="1.22" fill="#a0b0ff"/><circle cx="17.4" cy="18.4" r="1.19" fill="#60e0a0"/><circle cx="8.2" cy="11.1" r="0.92" fill="#e060d0"/><circle cx="31.3" cy="50.8" r="1.07" fill="#a0b0ff"/><circle cx="14.1" cy="9.0" r="0.92" fill="#a0b0ff"/><circle cx="49.8" cy="13.6" r="1.24" fill="#40d0c0"/><circle cx="65.5" cy="23.1" r="0.96" fill="#f0a0c0"/><circle cx="8.9" cy="15.0" r="1.06" fill="#2040e0"/><circle cx="44.0" cy="14.1" r="1.06" fill="#40d0c0"/><circle cx="14.3" cy="41.6" r="0.95" fill="#40a0e0"/><circle cx="3.3" cy="38.2" r="0.91" fill="#f0a0c0"/><circle cx="22.1" cy="11.2" r="0.99" fill="#f0a0c0"/><circle cx="43.3" cy="30.8" r="0.95" fill="#40a0e0"/><circle cx="42.3" cy="27.7" r="0.94" fill="#80f0c0"/><circle cx="67.2" cy="1.6" r="0.95" fill="#f0a0c0"/><circle cx="72.4" cy="13.3" r="1.00" fill="#ffe0b0"/><circle cx="43.4" cy="20.5" r="1.11" fill="#40d0c0"/><circle cx="34.9" cy="38.1" r="1.29" fill="#e060d0"/><circle cx="57.3" cy="44.8" r="1.28" fill="#2040e0"/><circle cx="12.4" cy="50.7" r="1.20" fill="#a0b0ff"/><circle cx="55.1" cy="49.8" r="1.02" fill="#60e0a0"/><circle cx="14.1" cy="1.1" r="1.10" fill="#ffe0b0"/><circle cx="21.8" cy="37.4" r="1.05" fill="#2040e0"/><circle cx="52.6" cy="6.0" r="1.10" fill="#2040e0"/><circle cx="27.8" cy="45.8" r="0.99" fill="#f0a0c0"/><circle cx="20.7" cy="40.5" r="1.28" fill="#80f0c0"/><circle cx="48.5" cy="28.6" r="0.96" fill="#40a0e0"/><circle cx="66.0" cy="12.4" r="0.96" fill="#40d0c0"/><circle cx="33.2" cy="22.0" r="0.97" fill="#f0a0c0"/><circle cx="67.4" cy="43.3" r="0.91" fill="#40d0c0"/><circle cx="36.9" cy="25.5" r="1.12" fill="#f0a0c0"/><circle cx="56.7" cy="35.2" r="1.02" fill="#40a0e0"/><circle cx="39.6" cy="38.2" r="0.94" fill="#80f0c0"/><circle cx="61.3" cy="35.9" r="1.13" fill="#40a0e0"/><circle cx="55.5" cy="19.8" r="1.12" fill="#e060d0"/><circle cx="68.7" cy="5.0" r="0.91" fill="#80f0c0"/><circle cx="68.6" cy="51.5" r="1.01" fill="#f0d080"/><circle cx="62.2" cy="10.0" r="0.91" fill="#2040e0"/><circle cx="7.1" cy="43.9" r="1.11" fill="#e060d0"/><circle cx="66.0" cy="18.5" r="0.95" fill="#40d0c0"/><circle cx="41.0" cy="1.1" r="1.19" fill="#40d0c0"/><circle cx="17.3" cy="5.6" r="1.12" fill="#40e0b0"/><circle cx="34.5" cy="41.8" r="1.23" fill="#e060d0"/><circle cx="37.9" cy="7.8" r="1.06" fill="#a0b0ff"/><circle cx="70.1" cy="20.0" r="1.04" fill="#2040e0"/><circle cx="36.0" cy="33.4" r="1.06" fill="#40a0e0"/><circle cx="12.4" cy="26.7" r="1.27" fill="#40e0b0"/><circle cx="18.9" cy="30.6" r="1.01" fill="#60e0a0"/><circle cx="61.9" cy="17.3" r="1.25" fill="#40d0c0"/><circle cx="10.8" cy="29.6" r="1.15" fill="#80f0c0"/><circle cx="22.0" cy="45.8" r="1.07" fill="#40e0b0"/><circle cx="23.9" cy="34.4" r="1.06" fill="#ffe0b0"/></g>
</svg>
<svg x="334.5" y="40.7" width="73.5" height="53.7" viewBox="0 0 73.5 53.7" overflow="hidden"><rect width="73.5" height="53.7" fill="#000"/>
<rect width="73.5" height="53.7" fill="#929292"/><path d="M8.8 0.0 L14.7 16.1 L22.1 26.9" fill="none" stroke="#a8a8a8" stroke-width="9" stroke-linecap="round" stroke-linejoin="round" opacity="0.9" filter="url(#bl3)"/><path d="M24.3 44.0 L36.8 36.5 L52.9 26.9" fill="none" stroke="#ffffff" stroke-width="10" stroke-linecap="round" stroke-linejoin="round" opacity="1" filter="url(#bl3)"/><path d="M55.1 24.2 L69.8 16.1" fill="none" stroke="#c8c8c8" stroke-width="7" stroke-linecap="round" stroke-linejoin="round" opacity="0.9" filter="url(#bl3)"/><path d="M44.1 41.9 L72.0 26.9" fill="none" stroke="#b8b8b8" stroke-width="5" stroke-linecap="round" stroke-linejoin="round" opacity="0.8" filter="url(#bl3)"/><path d="M0.0 45.6 L22.1 40.3" fill="none" stroke="#9c9c9c" stroke-width="6" stroke-linecap="round" stroke-linejoin="round" opacity="0.8" filter="url(#bl3)"/><rect width="73.5" height="53.7" filter="url(#tx1)" opacity="0.3"/><rect width="73.5" height="53.7" filter="url(#tx2)" opacity="0.35"/><g transform="rotate(-32 36.8 26.9)"><rect x="-40" y="-40" width="160" height="140" filter="url(#sx1)" opacity="0.4"/><rect x="-40" y="-40" width="160" height="140" filter="url(#sx2)" opacity="0.4"/></g><path d="M19.8 -2.7 L55.9 -2.7 L52.9 5.4 L44.1 8.1 L29.4 13.4 L22.1 16.1 L20.6 8.1Z" fill="#000" opacity="1" filter="url(#bl2)"/><path d="M29.4 15.0 L52.9 10.7 L55.9 16.1 L33.8 19.9Z" fill="#000" opacity="0.9" filter="url(#bl2)"/><path d="M-3.7 8.1 L4.4 10.7 L6.6 24.2 L4.4 36.5 L-3.7 41.9Z" fill="#000" opacity="1" filter="url(#bl2)"/><path d="M0.0 51.0 L22.1 48.3 L40.4 46.2 L44.1 56.4 L-3.7 56.4Z" fill="#000" opacity="1" filter="url(#bl2)"/><path d="M44.1 51.0 L60.3 48.3 L66.2 56.4 L44.1 56.4Z" fill="#000" opacity="0.85" filter="url(#bl2)"/><path d="M64.7 38.7 L77.2 34.9 L77.2 56.4 L62.5 56.4Z" fill="#222" opacity="0.75" filter="url(#bl2)"/><path d="M58.8 -2.7 L67.6 -2.7 L66.2 6.4 L60.3 5.4Z" fill="#111" opacity="0.8" filter="url(#bl2)"/><path d="M8.8 29.5 L18.4 26.9 L22.1 37.6 L11.0 41.9Z" fill="#555" opacity="0.7" filter="url(#bl3)"/><g filter="url(#bl1)" opacity="0.85"><circle cx="31.6" cy="23.7" r="1.14" fill="#7088e8"/><circle cx="31.8" cy="29.8" r="0.98" fill="#a0a8f8"/><circle cx="39.0" cy="33.6" r="1.19" fill="#8090f0"/><circle cx="46.8" cy="27.6" r="1.03" fill="#c0c8ff"/><circle cx="39.8" cy="24.2" r="1.05" fill="#9080e0"/><circle cx="40.9" cy="35.1" r="1.06" fill="#a0a8f8"/><circle cx="36.3" cy="28.2" r="1.19" fill="#8090f0"/><circle cx="31.7" cy="25.5" r="1.02" fill="#9080e0"/><circle cx="43.9" cy="22.4" r="1.15" fill="#7088e8"/><circle cx="29.5" cy="24.7" r="0.90" fill="#8090f0"/><circle cx="46.0" cy="24.9" r="0.90" fill="#a0a8f8"/><circle cx="34.7" cy="27.9" r="0.90" fill="#9080e0"/><circle cx="46.9" cy="27.2" r="1.15" fill="#a0a8f8"/><circle cx="30.8" cy="32.2" r="1.08" fill="#b0b8ff"/><circle cx="44.9" cy="36.0" r="0.94" fill="#a0a8f8"/><circle cx="35.0" cy="26.8" r="1.17" fill="#c0c8ff"/><circle cx="36.7" cy="25.6" r="1.05" fill="#8090f0"/><circle cx="45.4" cy="32.2" r="0.97" fill="#c0c8ff"/><circle cx="44.6" cy="33.5" r="0.91" fill="#b0b8ff"/><circle cx="45.9" cy="34.6" r="0.88" fill="#b0b8ff"/><circle cx="29.5" cy="24.2" r="1.16" fill="#7088e8"/><circle cx="49.4" cy="28.6" r="0.83" fill="#8090f0"/><circle cx="36.2" cy="34.2" r="0.81" fill="#8090f0"/><circle cx="41.6" cy="30.5" r="0.99" fill="#a0a8f8"/><circle cx="31.2" cy="25.4" r="1.05" fill="#c0c8ff"/><circle cx="48.1" cy="23.1" r="1.06" fill="#b0b8ff"/><circle cx="42.3" cy="21.2" r="1.09" fill="#b0b8ff"/><circle cx="39.4" cy="24.4" r="0.85" fill="#8090f0"/><circle cx="42.5" cy="25.2" r="0.92" fill="#9080e0"/><circle cx="39.9" cy="33.1" r="0.84" fill="#8090f0"/><circle cx="42.0" cy="35.9" r="0.81" fill="#9080e0"/><circle cx="43.7" cy="26.5" r="1.05" fill="#a0a8f8"/><circle cx="41.8" cy="32.1" r="0.85" fill="#8090f0"/><circle cx="38.2" cy="28.3" r="0.95" fill="#b0b8ff"/><circle cx="37.6" cy="24.4" r="0.93" fill="#a0a8f8"/><circle cx="42.0" cy="33.5" r="1.01" fill="#b0b8ff"/><circle cx="40.1" cy="33.5" r="0.82" fill="#7088e8"/><circle cx="37.9" cy="34.1" r="0.86" fill="#a0a8f8"/><circle cx="36.6" cy="30.1" r="0.86" fill="#9080e0"/><circle cx="39.4" cy="27.3" r="1.16" fill="#9080e0"/><circle cx="33.4" cy="29.4" r="0.83" fill="#b0b8ff"/><circle cx="41.4" cy="30.9" r="1.16" fill="#9080e0"/><circle cx="37.7" cy="32.4" r="1.17" fill="#8090f0"/><circle cx="30.7" cy="25.5" r="1.13" fill="#c0c8ff"/><circle cx="45.5" cy="26.4" r="0.84" fill="#b0b8ff"/><circle cx="29.0" cy="28.5" r="0.83" fill="#c0c8ff"/><circle cx="30.3" cy="23.8" r="0.83" fill="#7088e8"/><circle cx="34.5" cy="35.5" r="0.90" fill="#b0b8ff"/><circle cx="33.5" cy="33.6" r="1.03" fill="#8090f0"/><circle cx="49.0" cy="29.1" r="0.96" fill="#c0c8ff"/><circle cx="41.0" cy="34.0" r="0.97" fill="#8090f0"/><circle cx="40.5" cy="24.2" r="1.15" fill="#c0c8ff"/><circle cx="42.7" cy="25.3" r="0.97" fill="#7088e8"/><circle cx="34.4" cy="29.8" r="1.02" fill="#9080e0"/><circle cx="41.9" cy="28.6" r="1.12" fill="#8090f0"/><circle cx="38.9" cy="24.4" r="0.93" fill="#8090f0"/><circle cx="46.0" cy="25.3" r="0.95" fill="#9080e0"/><circle cx="37.1" cy="34.4" r="1.04" fill="#9080e0"/><circle cx="41.0" cy="24.5" r="1.18" fill="#b0b8ff"/><circle cx="33.8" cy="33.2" r="1.12" fill="#7088e8"/><circle cx="31.3" cy="29.2" r="1.12" fill="#a0a8f8"/><circle cx="40.2" cy="22.1" r="0.87" fill="#c0c8ff"/><circle cx="33.9" cy="30.2" r="0.96" fill="#a0a8f8"/><circle cx="32.1" cy="30.7" r="1.06" fill="#9080e0"/><circle cx="30.6" cy="28.1" r="1.01" fill="#c0c8ff"/><circle cx="37.3" cy="34.4" r="0.96" fill="#b0b8ff"/><circle cx="37.4" cy="26.6" r="1.02" fill="#c0c8ff"/><circle cx="49.0" cy="25.2" r="1.03" fill="#c0c8ff"/><circle cx="39.3" cy="23.7" r="1.19" fill="#a0a8f8"/><circle cx="44.8" cy="35.9" r="0.81" fill="#b0b8ff"/><circle cx="30.1" cy="31.2" r="1.09" fill="#8090f0"/><circle cx="48.2" cy="33.5" r="1.16" fill="#9080e0"/><circle cx="38.1" cy="25.9" r="0.95" fill="#7088e8"/><circle cx="45.2" cy="33.6" r="1.07" fill="#7088e8"/><circle cx="32.0" cy="23.3" r="1.01" fill="#7088e8"/></g><g filter="url(#bl1)" opacity="0.85"><circle cx="12.6" cy="16.3" r="0.86" fill="#7088e8"/><circle cx="15.0" cy="6.6" r="1.19" fill="#9080e0"/><circle cx="10.7" cy="4.4" r="0.96" fill="#a0a8f8"/><circle cx="8.0" cy="9.8" r="0.99" fill="#b0b8ff"/><circle cx="12.3" cy="12.7" r="0.84" fill="#8090f0"/><circle cx="17.3" cy="9.3" r="0.81" fill="#a0a8f8"/><circle cx="8.8" cy="13.9" r="1.07" fill="#7088e8"/><circle cx="8.8" cy="10.0" r="1.19" fill="#a0a8f8"/><circle cx="11.6" cy="18.1" r="1.11" fill="#8090f0"/><circle cx="13.8" cy="12.7" r="1.12" fill="#7088e8"/><circle cx="14.8" cy="11.5" r="0.86" fill="#b0b8ff"/><circle cx="13.3" cy="7.2" r="0.86" fill="#b0b8ff"/><circle cx="8.8" cy="18.0" r="1.05" fill="#c0c8ff"/><circle cx="13.9" cy="17.1" r="1.03" fill="#9080e0"/><circle cx="11.1" cy="17.2" r="1.00" fill="#9080e0"/><circle cx="8.2" cy="7.0" r="1.17" fill="#c0c8ff"/><circle cx="14.3" cy="13.2" r="1.11" fill="#b0b8ff"/><circle cx="12.3" cy="10.2" r="0.93" fill="#7088e8"/><circle cx="9.0" cy="12.5" r="0.90" fill="#8090f0"/><circle cx="14.7" cy="16.7" r="0.88" fill="#a0a8f8"/><circle cx="9.9" cy="13.3" r="1.18" fill="#a0a8f8"/><circle cx="17.8" cy="9.9" r="1.05" fill="#8090f0"/><circle cx="9.6" cy="17.9" r="0.98" fill="#a0a8f8"/><circle cx="8.5" cy="3.7" r="1.10" fill="#b0b8ff"/><circle cx="12.9" cy="4.5" r="1.14" fill="#a0a8f8"/><circle cx="15.7" cy="12.0" r="0.94" fill="#a0a8f8"/><circle cx="14.2" cy="9.5" r="1.06" fill="#8090f0"/><circle cx="12.9" cy="8.1" r="1.12" fill="#7088e8"/></g><g filter="url(#bl1)" opacity="0.8"><circle cx="60.9" cy="38.8" r="0.81" fill="#8090f0"/><circle cx="68.1" cy="48.3" r="1.08" fill="#b0b8ff"/><circle cx="70.2" cy="48.1" r="0.95" fill="#7088e8"/><circle cx="58.9" cy="49.9" r="0.90" fill="#c0c8ff"/><circle cx="64.2" cy="36.4" r="1.01" fill="#7088e8"/><circle cx="55.2" cy="36.9" r="0.84" fill="#c0c8ff"/><circle cx="66.1" cy="47.5" r="0.81" fill="#7088e8"/><circle cx="66.1" cy="42.5" r="0.82" fill="#9080e0"/><circle cx="68.7" cy="45.5" r="1.07" fill="#9080e0"/><circle cx="53.5" cy="42.6" r="0.94" fill="#a0a8f8"/><circle cx="61.6" cy="37.0" r="1.10" fill="#c0c8ff"/><circle cx="64.1" cy="40.4" r="0.89" fill="#7088e8"/><circle cx="67.8" cy="41.4" r="1.12" fill="#7088e8"/><circle cx="64.9" cy="41.9" r="1.05" fill="#7088e8"/><circle cx="63.5" cy="37.6" r="0.99" fill="#c0c8ff"/><circle cx="64.4" cy="43.5" r="0.92" fill="#c0c8ff"/><circle cx="65.0" cy="37.6" r="1.15" fill="#c0c8ff"/><circle cx="54.5" cy="47.3" r="1.16" fill="#8090f0"/><circle cx="56.3" cy="39.4" r="0.95" fill="#c0c8ff"/><circle cx="57.4" cy="46.1" r="1.19" fill="#7088e8"/><circle cx="66.8" cy="44.7" r="1.18" fill="#a0a8f8"/><circle cx="67.0" cy="49.8" r="0.98" fill="#a0a8f8"/><circle cx="68.8" cy="49.8" r="1.12" fill="#a0a8f8"/><circle cx="56.5" cy="43.8" r="1.17" fill="#9080e0"/><circle cx="53.7" cy="39.5" r="0.82" fill="#b0b8ff"/></g><g filter="url(#bl1)" opacity="0.8"><circle cx="63.5" cy="19.7" r="0.96" fill="#8090f0"/><circle cx="67.7" cy="21.3" r="0.93" fill="#8090f0"/><circle cx="63.0" cy="11.6" r="1.02" fill="#9080e0"/><circle cx="62.6" cy="20.4" r="1.00" fill="#b0b8ff"/><circle cx="63.7" cy="19.4" r="0.89" fill="#8090f0"/><circle cx="71.7" cy="19.2" r="1.16" fill="#a0a8f8"/><circle cx="62.8" cy="21.0" r="0.84" fill="#9080e0"/><circle cx="69.9" cy="18.6" r="1.01" fill="#c0c8ff"/><circle cx="70.3" cy="22.2" r="1.17" fill="#a0a8f8"/><circle cx="65.4" cy="17.0" r="0.86" fill="#c0c8ff"/><circle cx="69.0" cy="12.8" r="1.04" fill="#9080e0"/><circle cx="64.1" cy="15.7" r="1.16" fill="#9080e0"/><circle cx="64.7" cy="17.2" r="1.15" fill="#c0c8ff"/><circle cx="64.3" cy="10.2" r="0.92" fill="#8090f0"/><circle cx="63.2" cy="9.8" r="0.99" fill="#c0c8ff"/><circle cx="70.4" cy="7.6" r="0.84" fill="#8090f0"/><circle cx="66.3" cy="8.0" r="0.83" fill="#a0a8f8"/><circle cx="69.8" cy="6.4" r="0.96" fill="#c0c8ff"/><circle cx="63.5" cy="12.9" r="1.15" fill="#8090f0"/><circle cx="66.3" cy="12.8" r="0.96" fill="#8090f0"/><circle cx="64.3" cy="15.3" r="1.09" fill="#b0b8ff"/><circle cx="70.1" cy="14.3" r="1.14" fill="#c0c8ff"/><circle cx="71.0" cy="6.0" r="0.91" fill="#b0b8ff"/><circle cx="69.7" cy="8.6" r="0.98" fill="#9080e0"/><circle cx="64.1" cy="20.4" r="0.92" fill="#b0b8ff"/></g><g filter="url(#bl1)" opacity="0.8"><circle cx="53.1" cy="6.4" r="0.98" fill="#8090f0"/><circle cx="52.4" cy="10.6" r="1.00" fill="#9080e0"/><circle cx="50.0" cy="7.1" r="1.11" fill="#c0c8ff"/><circle cx="46.7" cy="8.2" r="0.99" fill="#8090f0"/><circle cx="49.8" cy="10.4" r="0.95" fill="#9080e0"/><circle cx="46.3" cy="9.3" r="0.83" fill="#c0c8ff"/><circle cx="50.0" cy="6.7" r="1.01" fill="#b0b8ff"/><circle cx="48.5" cy="8.3" r="0.92" fill="#b0b8ff"/><circle cx="56.5" cy="10.1" r="0.99" fill="#7088e8"/><circle cx="57.8" cy="6.6" r="1.06" fill="#9080e0"/><circle cx="56.6" cy="8.1" r="0.91" fill="#8090f0"/><circle cx="51.9" cy="8.6" r="0.97" fill="#a0a8f8"/></g><g filter="url(#bl1)" opacity="1.0"><circle cx="16.1" cy="18.2" r="1.11" fill="#20c0c0"/><circle cx="44.6" cy="4.6" r="0.99" fill="#20c0c0"/><circle cx="23.9" cy="8.8" r="1.09" fill="#40c060"/><circle cx="31.0" cy="4.8" r="0.99" fill="#2040e0"/><circle cx="20.2" cy="14.5" r="1.10" fill="#40c060"/><circle cx="39.8" cy="12.7" r="1.18" fill="#20c0c0"/><circle cx="40.7" cy="11.4" r="1.00" fill="#40c060"/><circle cx="31.8" cy="18.3" r="0.91" fill="#40c060"/><circle cx="36.7" cy="10.9" r="1.14" fill="#2040e0"/><circle cx="17.6" cy="7.7" r="1.17" fill="#2040e0"/></g>
</svg>
<svg x="334.5" y="96.5" width="73.5" height="53.7" viewBox="0 0 73.5 53.7" overflow="hidden"><rect width="73.5" height="53.7" fill="#000"/>
<rect width="73.5" height="53.69999999999999" fill="#a4a4a4"/><path d="M1.5 37.6 L14.7 37.6 L26.5 38.7" fill="none" stroke="#ffffff" stroke-width="11" stroke-linecap="round" stroke-linejoin="round" opacity="1" filter="url(#bl3)"/><path d="M16.2 16.1 L33.1 20.4" fill="none" stroke="#e4ecf6" stroke-width="11" stroke-linecap="round" stroke-linejoin="round" opacity="0.95" filter="url(#bl3)"/><path d="M50.0 47.3 L67.6 32.2" fill="none" stroke="#f4f4f4" stroke-width="10" stroke-linecap="round" stroke-linejoin="round" opacity="0.95" filter="url(#bl3)"/><path d="M44.1 8.1 L58.8 10.7" fill="none" stroke="#b4bcd0" stroke-width="7" stroke-linecap="round" stroke-linejoin="round" opacity="0.8" filter="url(#bl3)"/><path d="M22.1 48.3 L44.1 40.3" fill="none" stroke="#c8c8c8" stroke-width="7" stroke-linecap="round" stroke-linejoin="round" opacity="0.8" filter="url(#bl3)"/><path d="M3.7 10.7 L11.0 26.8" fill="none" stroke="#7c7c7c" stroke-width="7" stroke-linecap="round" stroke-linejoin="round" opacity="0.8" filter="url(#bl3)"/><rect width="73.5" height="53.69999999999999" filter="url(#tx1)" opacity="0.3"/><rect width="73.5" height="53.69999999999999" filter="url(#tx2)" opacity="0.3"/><g transform="rotate(-28 36.8 26.8)"><rect x="-40" y="-40" width="160" height="140" filter="url(#sx1)" opacity="0.4"/><rect x="-40" y="-40" width="160" height="140" filter="url(#sx2)" opacity="0.35"/></g><path d="M-3.7 -2.7 L12.5 -2.7 L12.5 5.4 L5.9 10.7 L-3.7 5.4Z" fill="#000" opacity="1" filter="url(#bl2)"/><path d="M19.8 -2.7 L42.6 -2.7 L40.4 4.3 L25.7 7.5Z" fill="#000" opacity="1" filter="url(#bl2)"/><path d="M58.8 -2.7 L77.2 -2.7 L77.2 17.7 L68.4 13.4 L63.2 5.4Z" fill="#000" opacity="1" filter="url(#bl2)"/><path d="M-3.7 17.7 L2.9 20.4 L2.2 29.5 L-3.7 30.6Z" fill="#000" opacity="1" filter="url(#bl2)"/><path d="M-3.7 41.9 L11.0 47.3 L22.1 51.0 L33.1 56.4 L-3.7 56.4Z" fill="#000" opacity="1" filter="url(#bl2)"/><path d="M51.4 56.4 L62.5 46.2 L77.2 39.7 L77.2 56.4Z" fill="#000" opacity="1" filter="url(#bl2)"/><path d="M38.2 22.6 L44.1 21.5 L41.2 29.5 L36.8 30.1Z" fill="#000" opacity="0.9" filter="url(#bl1)"/><path d="M44.1 44.0 L58.8 33.3 L61.0 35.4 L46.3 46.2Z" fill="#000" opacity="0.9" filter="url(#bl1)"/><path d="M50.0 19.3 L55.9 17.2 L57.3 24.2 L51.4 26.8Z" fill="#333" opacity="0.85" filter="url(#bl2)"/><g filter="url(#bl1)" opacity="0.7"><circle cx="21.9" cy="26.6" r="1.16" fill="#d0e0ff"/><circle cx="26.8" cy="10.3" r="0.87" fill="#b0c8f0"/><circle cx="21.1" cy="10.7" r="1.17" fill="#c0d8f8"/><circle cx="38.5" cy="15.5" r="0.86" fill="#b0c8f0"/><circle cx="24.4" cy="18.5" r="0.82" fill="#b0c8f0"/><circle cx="29.0" cy="9.3" r="1.05" fill="#d0e0ff"/><circle cx="23.1" cy="18.9" r="0.91" fill="#c0d8f8"/><circle cx="28.5" cy="12.2" r="1.18" fill="#d0e0ff"/><circle cx="40.8" cy="26.1" r="1.04" fill="#c0d8f8"/><circle cx="33.8" cy="17.7" r="0.88" fill="#b0c8f0"/><circle cx="42.9" cy="24.1" r="1.06" fill="#c0d8f8"/><circle cx="18.0" cy="16.3" r="1.05" fill="#c0d8f8"/><circle cx="24.3" cy="8.8" r="1.11" fill="#d0e0ff"/><circle cx="35.6" cy="15.5" r="1.03" fill="#c0d8f8"/><circle cx="21.5" cy="13.4" r="1.02" fill="#a0b0e8"/><circle cx="28.8" cy="16.8" r="0.83" fill="#d0e0ff"/><circle cx="39.8" cy="21.9" r="1.04" fill="#b0c8f0"/><circle cx="34.9" cy="23.2" r="1.00" fill="#a0b0e8"/><circle cx="27.6" cy="23.6" r="1.00" fill="#c0d8f8"/><circle cx="16.2" cy="26.4" r="0.93" fill="#c0d8f8"/><circle cx="37.3" cy="24.7" r="1.07" fill="#a0b0e8"/><circle cx="36.9" cy="23.3" r="1.12" fill="#d0e0ff"/><circle cx="32.9" cy="28.2" r="1.01" fill="#a0b0e8"/><circle cx="32.2" cy="25.4" r="1.20" fill="#c0d8f8"/><circle cx="26.5" cy="9.1" r="0.94" fill="#a0b0e8"/><circle cx="35.9" cy="21.9" r="0.97" fill="#c0d8f8"/><circle cx="23.3" cy="17.2" r="1.19" fill="#c0d8f8"/><circle cx="23.8" cy="26.2" r="0.91" fill="#d0e0ff"/><circle cx="40.3" cy="30.3" r="1.11" fill="#a0b0e8"/><circle cx="34.5" cy="29.9" r="0.90" fill="#a0b0e8"/><circle cx="42.2" cy="30.7" r="0.89" fill="#b0c8f0"/><circle cx="21.7" cy="26.6" r="0.91" fill="#d0e0ff"/><circle cx="24.9" cy="25.5" r="0.91" fill="#a0b0e8"/><circle cx="29.8" cy="30.7" r="0.88" fill="#c0d8f8"/><circle cx="18.5" cy="17.1" r="1.00" fill="#b0c8f0"/><circle cx="27.3" cy="10.6" r="1.00" fill="#d0e0ff"/><circle cx="25.6" cy="20.5" r="0.94" fill="#b0c8f0"/><circle cx="41.3" cy="26.9" r="0.99" fill="#c0d8f8"/><circle cx="24.6" cy="11.7" r="1.04" fill="#a0b0e8"/><circle cx="18.0" cy="30.0" r="0.81" fill="#c0d8f8"/><circle cx="35.1" cy="14.1" r="0.94" fill="#d0e0ff"/><circle cx="29.4" cy="24.0" r="1.07" fill="#c0d8f8"/><circle cx="21.7" cy="20.5" r="0.88" fill="#d0e0ff"/><circle cx="35.4" cy="9.5" r="0.94" fill="#a0b0e8"/><circle cx="29.0" cy="20.4" r="1.18" fill="#c0d8f8"/><circle cx="33.1" cy="20.5" r="1.14" fill="#c0d8f8"/><circle cx="18.8" cy="13.6" r="0.99" fill="#a0b0e8"/><circle cx="41.7" cy="16.4" r="0.88" fill="#d0e0ff"/><circle cx="37.2" cy="9.0" r="1.16" fill="#d0e0ff"/><circle cx="20.9" cy="21.2" r="1.08" fill="#b0c8f0"/><circle cx="28.3" cy="30.9" r="1.04" fill="#c0d8f8"/><circle cx="18.0" cy="30.8" r="0.88" fill="#b0c8f0"/><circle cx="31.1" cy="23.4" r="1.07" fill="#a0b0e8"/><circle cx="26.9" cy="25.9" r="0.92" fill="#b0c8f0"/><circle cx="33.0" cy="27.2" r="0.99" fill="#d0e0ff"/><circle cx="38.3" cy="15.5" r="0.88" fill="#b0c8f0"/><circle cx="20.2" cy="13.3" r="1.07" fill="#a0b0e8"/><circle cx="27.3" cy="31.1" r="1.18" fill="#b0c8f0"/><circle cx="17.5" cy="24.9" r="1.04" fill="#b0c8f0"/><circle cx="15.6" cy="30.0" r="1.18" fill="#d0e0ff"/><circle cx="34.0" cy="14.4" r="0.96" fill="#b0c8f0"/><circle cx="31.3" cy="20.8" r="0.85" fill="#a0b0e8"/><circle cx="43.5" cy="25.7" r="0.90" fill="#c0d8f8"/><circle cx="16.0" cy="23.3" r="0.85" fill="#a0b0e8"/><circle cx="26.9" cy="30.5" r="0.97" fill="#b0c8f0"/><circle cx="35.0" cy="20.3" r="1.00" fill="#b0c8f0"/><circle cx="31.8" cy="28.2" r="0.96" fill="#b0c8f0"/><circle cx="19.1" cy="26.4" r="0.86" fill="#c0d8f8"/><circle cx="29.7" cy="27.1" r="1.00" fill="#c0d8f8"/><circle cx="41.6" cy="15.0" r="0.90" fill="#b0c8f0"/><circle cx="28.3" cy="23.6" r="1.16" fill="#b0c8f0"/><circle cx="29.7" cy="20.4" r="0.85" fill="#c0d8f8"/><circle cx="17.8" cy="13.9" r="0.85" fill="#c0d8f8"/><circle cx="27.1" cy="9.4" r="0.99" fill="#d0e0ff"/><circle cx="40.2" cy="24.7" r="1.10" fill="#c0d8f8"/><circle cx="23.8" cy="25.4" r="0.86" fill="#c0d8f8"/><circle cx="34.5" cy="19.3" r="0.87" fill="#d0e0ff"/><circle cx="25.0" cy="27.6" r="1.19" fill="#a0b0e8"/><circle cx="18.6" cy="13.4" r="0.85" fill="#b0c8f0"/><circle cx="36.4" cy="16.3" r="1.17" fill="#c0d8f8"/></g><g filter="url(#bl1)" opacity="0.6"><circle cx="55.9" cy="22.8" r="0.80" fill="#9090d8"/><circle cx="54.6" cy="16.8" r="0.85" fill="#a0a8e0"/><circle cx="52.0" cy="16.8" r="0.90" fill="#b0b8f0"/><circle cx="53.6" cy="19.2" r="0.97" fill="#a0a8e0"/><circle cx="51.1" cy="31.0" r="0.98" fill="#a0a8e0"/><circle cx="50.2" cy="8.8" r="0.98" fill="#b0b8f0"/><circle cx="54.9" cy="15.4" r="1.03" fill="#a0a8e0"/><circle cx="47.2" cy="7.2" r="0.91" fill="#9090d8"/><circle cx="52.7" cy="14.2" r="1.16" fill="#a0a8e0"/><circle cx="48.7" cy="23.2" r="0.90" fill="#b0b8f0"/><circle cx="56.7" cy="26.5" r="0.98" fill="#b0b8f0"/><circle cx="46.6" cy="10.7" r="0.85" fill="#b0b8f0"/><circle cx="54.9" cy="31.3" r="1.11" fill="#9090d8"/><circle cx="60.5" cy="30.9" r="1.09" fill="#b0b8f0"/><circle cx="45.8" cy="26.8" r="1.03" fill="#9090d8"/><circle cx="58.3" cy="30.1" r="0.85" fill="#9090d8"/><circle cx="56.7" cy="6.1" r="0.90" fill="#b0b8f0"/><circle cx="60.7" cy="24.7" r="1.04" fill="#a0a8e0"/><circle cx="52.2" cy="11.5" r="0.84" fill="#b0b8f0"/><circle cx="55.2" cy="27.7" r="1.09" fill="#9090d8"/><circle cx="50.3" cy="30.3" r="0.93" fill="#a0a8e0"/><circle cx="55.1" cy="8.7" r="1.17" fill="#b0b8f0"/><circle cx="47.6" cy="18.8" r="0.98" fill="#a0a8e0"/><circle cx="50.2" cy="11.2" r="1.01" fill="#b0b8f0"/><circle cx="47.2" cy="31.2" r="0.90" fill="#b0b8f0"/><circle cx="54.8" cy="13.0" r="0.86" fill="#9090d8"/><circle cx="49.2" cy="17.2" r="0.87" fill="#9090d8"/><circle cx="47.9" cy="9.3" r="1.09" fill="#a0a8e0"/><circle cx="47.6" cy="27.0" r="0.96" fill="#b0b8f0"/><circle cx="52.9" cy="16.1" r="1.16" fill="#b0b8f0"/><circle cx="52.0" cy="29.7" r="0.87" fill="#b0b8f0"/><circle cx="60.5" cy="14.5" r="0.95" fill="#a0a8e0"/><circle cx="49.3" cy="9.4" r="1.20" fill="#b0b8f0"/><circle cx="58.8" cy="19.1" r="0.88" fill="#9090d8"/><circle cx="47.7" cy="14.6" r="1.11" fill="#9090d8"/><circle cx="49.2" cy="23.3" r="0.97" fill="#9090d8"/><circle cx="45.8" cy="12.6" r="0.84" fill="#a0a8e0"/><circle cx="49.8" cy="18.8" r="0.90" fill="#9090d8"/><circle cx="49.7" cy="13.1" r="1.07" fill="#b0b8f0"/><circle cx="56.7" cy="7.3" r="1.15" fill="#9090d8"/></g><g filter="url(#bl1)" opacity="0.6"><circle cx="59.6" cy="31.8" r="0.81" fill="#c0d0f0"/><circle cx="58.1" cy="43.1" r="1.13" fill="#c0d0f0"/><circle cx="58.5" cy="36.5" r="1.00" fill="#c0d0f0"/><circle cx="57.7" cy="42.2" r="0.82" fill="#d0e0ff"/><circle cx="65.3" cy="33.9" r="0.96" fill="#c0d0f0"/><circle cx="61.8" cy="41.9" r="1.08" fill="#d0e0ff"/><circle cx="61.2" cy="44.4" r="0.91" fill="#d0e0ff"/><circle cx="53.0" cy="31.3" r="0.83" fill="#c0d0f0"/><circle cx="54.9" cy="38.7" r="0.94" fill="#d0e0ff"/><circle cx="53.0" cy="39.5" r="0.87" fill="#d0e0ff"/><circle cx="63.5" cy="31.7" r="0.81" fill="#c0d0f0"/><circle cx="54.7" cy="37.8" r="1.02" fill="#c0d0f0"/><circle cx="60.9" cy="43.5" r="0.87" fill="#d0e0ff"/><circle cx="54.7" cy="31.3" r="1.13" fill="#d0e0ff"/><circle cx="48.7" cy="30.9" r="0.85" fill="#c0d0f0"/><circle cx="53.4" cy="42.9" r="1.00" fill="#c0d0f0"/><circle cx="51.0" cy="43.5" r="1.02" fill="#c0d0f0"/><circle cx="53.4" cy="32.7" r="0.87" fill="#d0e0ff"/><circle cx="55.3" cy="32.0" r="0.85" fill="#d0e0ff"/><circle cx="53.9" cy="33.7" r="1.12" fill="#d0e0ff"/><circle cx="49.8" cy="35.0" r="1.15" fill="#d0e0ff"/><circle cx="64.3" cy="41.6" r="1.03" fill="#c0d0f0"/><circle cx="58.9" cy="32.3" r="0.93" fill="#d0e0ff"/><circle cx="55.4" cy="38.2" r="0.87" fill="#c0d0f0"/><circle cx="64.6" cy="36.4" r="0.93" fill="#d0e0ff"/><circle cx="50.8" cy="41.5" r="0.95" fill="#c0d0f0"/><circle cx="54.2" cy="32.4" r="0.98" fill="#d0e0ff"/><circle cx="62.4" cy="35.2" r="1.08" fill="#d0e0ff"/><circle cx="50.0" cy="34.8" r="0.94" fill="#c0d0f0"/><circle cx="60.3" cy="36.1" r="1.10" fill="#d0e0ff"/></g><g filter="url(#bl1)" opacity="0.9"><circle cx="39.9" cy="21.1" r="0.94" fill="#e0d060"/><circle cx="11.9" cy="42.3" r="1.11" fill="#20d0c0"/><circle cx="45.8" cy="23.9" r="1.14" fill="#20d0c0"/><circle cx="38.4" cy="29.1" r="1.02" fill="#f08090"/><circle cx="40.1" cy="9.6" r="0.93" fill="#f08090"/><circle cx="15.9" cy="34.1" r="1.18" fill="#20d0c0"/><circle cx="10.8" cy="6.3" r="1.13" fill="#f08090"/><circle cx="61.5" cy="21.7" r="0.95" fill="#f08090"/></g>
</svg>
<svg x="334.5" y="152.2" width="73.5" height="53.8" viewBox="0 0 73.5 53.8" overflow="hidden"><rect width="73.5" height="53.8" fill="#000"/>
<rect width="73.5" height="53.80000000000001" fill="#888888"/><path d="M8.8 1.1 L18.4 17.2 L27.9 28.0" fill="none" stroke="#ffffff" stroke-width="14" stroke-linecap="round" stroke-linejoin="round" opacity="1" filter="url(#bl3)"/><path d="M7.4 26.9 L14.7 42.0" fill="none" stroke="#d0d0d8" stroke-width="8" stroke-linecap="round" stroke-linejoin="round" opacity="0.85" filter="url(#bl3)"/><path d="M71.3 17.2 L57.3 33.4 L42.6 53.8" fill="none" stroke="#f0f0f8" stroke-width="12.5" stroke-linecap="round" stroke-linejoin="round" opacity="1" filter="url(#bl3)"/><path d="M55.9 0.0 L51.4 26.9" fill="none" stroke="#8e8e8e" stroke-width="8" stroke-linecap="round" stroke-linejoin="round" opacity="0.8" filter="url(#bl3)"/><path d="M36.3 9.0 L36.6 11.2 L37.5 12.9 L38.8 14.3 L40.1 15.7 L41.7 16.7 L43.6 17.6 L44.6 16.8 L44.0 14.8 L43.2 13.0 L42.1 11.5 L40.9 10.0 L39.3 8.9 L37.2 8.2Z" fill="#f0f0f0" opacity="0.85" filter="url(#bl2)"/><path d="M67.6 0.0 L72.0 16.1" fill="none" stroke="#a8a8a8" stroke-width="6" stroke-linecap="round" stroke-linejoin="round" opacity="0.8" filter="url(#bl3)"/><rect width="73.5" height="53.80000000000001" filter="url(#tx1)" opacity="0.3"/><rect width="73.5" height="53.80000000000001" filter="url(#tx2)" opacity="0.35"/><g transform="rotate(58 36.8 26.9)"><rect x="-40" y="-40" width="160" height="140" filter="url(#sx1)" opacity="0.4"/><rect x="-40" y="-40" width="160" height="140" filter="url(#sx2)" opacity="0.4"/></g><path d="M19.8 -2.7 L50.7 -2.7 L49.2 10.8 L44.1 20.4 L36.8 16.1 L29.4 9.7Z" fill="#000" opacity="1" filter="url(#bl2)"/><path d="M-3.7 -2.7 L5.1 -2.7 L6.6 13.5 L2.9 26.9 L-3.7 26.9Z" fill="#000" opacity="1" filter="url(#bl2)"/><path d="M-3.7 29.6 L2.9 32.3 L2.2 48.4 L-3.7 48.4Z" fill="#000" opacity="0.9" filter="url(#bl2)"/><path d="M64.7 47.3 L77.2 40.4 L77.2 56.5 L60.3 56.5Z" fill="#000" opacity="1" filter="url(#bl2)"/><path d="M22.1 38.7 L30.9 30.1 L36.8 32.3 L29.4 51.1 L22.1 56.5 L7.4 56.5Z" fill="#222" opacity="0.8" filter="url(#bl2)"/><path d="M30.9 26.9 L36.8 23.7 L38.2 30.1Z" fill="#000" opacity="0.9" filter="url(#bl1)"/><g filter="url(#bl1)" opacity="0.6"><circle cx="24.3" cy="30.8" r="0.97" fill="#a8a8e0"/><circle cx="24.3" cy="39.8" r="0.91" fill="#b0b8e8"/><circle cx="26.4" cy="31.0" r="0.84" fill="#d0c8e8"/><circle cx="20.5" cy="30.1" r="1.09" fill="#a8a8e0"/><circle cx="8.0" cy="38.8" r="0.97" fill="#d0c8e8"/><circle cx="19.4" cy="6.2" r="1.01" fill="#d0c8e8"/><circle cx="25.2" cy="19.6" r="0.99" fill="#b0b8e8"/><circle cx="8.8" cy="10.4" r="0.83" fill="#b0b8e8"/><circle cx="16.3" cy="14.4" r="0.99" fill="#d0c8e8"/><circle cx="17.2" cy="25.6" r="0.97" fill="#d0c8e8"/><circle cx="19.0" cy="25.7" r="1.09" fill="#d0c8e8"/><circle cx="28.0" cy="32.5" r="0.82" fill="#d0c8e8"/><circle cx="10.5" cy="18.5" r="0.96" fill="#c0c8f0"/><circle cx="27.2" cy="30.3" r="1.09" fill="#c0c8f0"/><circle cx="12.5" cy="14.0" r="0.92" fill="#b0b8e8"/><circle cx="13.9" cy="6.4" r="0.89" fill="#d0c8e8"/><circle cx="22.0" cy="26.4" r="1.03" fill="#a8a8e0"/><circle cx="19.9" cy="29.0" r="0.94" fill="#c0c8f0"/><circle cx="17.6" cy="16.4" r="0.83" fill="#b0b8e8"/><circle cx="27.8" cy="17.7" r="1.06" fill="#b0b8e8"/><circle cx="25.0" cy="23.8" r="0.87" fill="#c0c8f0"/><circle cx="15.6" cy="28.3" r="0.90" fill="#b0b8e8"/><circle cx="20.1" cy="39.4" r="0.98" fill="#d0c8e8"/><circle cx="10.2" cy="36.8" r="0.90" fill="#a8a8e0"/><circle cx="23.0" cy="35.8" r="0.85" fill="#c0c8f0"/><circle cx="28.2" cy="27.5" r="0.94" fill="#b0b8e8"/><circle cx="28.5" cy="17.4" r="1.08" fill="#c0c8f0"/><circle cx="10.0" cy="19.6" r="0.96" fill="#d0c8e8"/><circle cx="28.0" cy="15.2" r="0.82" fill="#b0b8e8"/><circle cx="19.1" cy="31.4" r="0.82" fill="#a8a8e0"/><circle cx="19.5" cy="31.9" r="1.06" fill="#d0c8e8"/><circle cx="13.3" cy="36.0" r="0.90" fill="#b0b8e8"/><circle cx="8.4" cy="16.7" r="0.91" fill="#b0b8e8"/><circle cx="20.1" cy="14.6" r="0.83" fill="#d0c8e8"/><circle cx="27.2" cy="8.5" r="0.90" fill="#a8a8e0"/><circle cx="10.9" cy="8.7" r="0.93" fill="#d0c8e8"/><circle cx="12.8" cy="12.4" r="1.08" fill="#a8a8e0"/><circle cx="15.0" cy="35.9" r="1.00" fill="#d0c8e8"/><circle cx="25.6" cy="20.9" r="0.83" fill="#c0c8f0"/><circle cx="28.5" cy="25.8" r="0.84" fill="#b0b8e8"/><circle cx="27.3" cy="22.0" r="0.92" fill="#c0c8f0"/><circle cx="25.7" cy="16.7" r="0.80" fill="#c0c8f0"/><circle cx="9.8" cy="32.0" r="0.84" fill="#c0c8f0"/><circle cx="17.2" cy="27.6" r="1.01" fill="#c0c8f0"/><circle cx="28.6" cy="6.9" r="0.90" fill="#a8a8e0"/><circle cx="9.1" cy="15.5" r="0.98" fill="#c0c8f0"/><circle cx="28.5" cy="13.6" r="0.99" fill="#b0b8e8"/><circle cx="12.7" cy="14.3" r="0.93" fill="#b0b8e8"/><circle cx="28.6" cy="17.8" r="1.10" fill="#a8a8e0"/><circle cx="27.5" cy="35.0" r="1.01" fill="#d0c8e8"/><circle cx="14.7" cy="35.1" r="0.96" fill="#c0c8f0"/><circle cx="22.2" cy="9.4" r="0.83" fill="#d0c8e8"/><circle cx="23.6" cy="30.4" r="1.06" fill="#a8a8e0"/><circle cx="9.6" cy="30.7" r="0.94" fill="#d0c8e8"/><circle cx="17.8" cy="31.0" r="0.95" fill="#d0c8e8"/><circle cx="27.4" cy="16.4" r="1.07" fill="#b0b8e8"/><circle cx="28.8" cy="26.3" r="0.91" fill="#a8a8e0"/><circle cx="20.4" cy="35.8" r="0.87" fill="#c0c8f0"/><circle cx="22.4" cy="42.5" r="0.95" fill="#d0c8e8"/><circle cx="18.3" cy="25.6" r="0.86" fill="#c0c8f0"/><circle cx="15.1" cy="42.0" r="0.82" fill="#b0b8e8"/><circle cx="10.3" cy="12.5" r="0.99" fill="#d0c8e8"/><circle cx="27.4" cy="30.4" r="0.92" fill="#b0b8e8"/><circle cx="20.1" cy="25.0" r="0.81" fill="#c0c8f0"/><circle cx="18.9" cy="29.1" r="1.03" fill="#c0c8f0"/><circle cx="15.1" cy="17.8" r="0.91" fill="#c0c8f0"/><circle cx="20.9" cy="25.7" r="0.86" fill="#a8a8e0"/><circle cx="26.9" cy="40.4" r="1.02" fill="#a8a8e0"/><circle cx="25.6" cy="8.0" r="0.80" fill="#a8a8e0"/><circle cx="22.7" cy="40.7" r="1.03" fill="#b0b8e8"/></g><g filter="url(#bl1)" opacity="0.6"><circle cx="52.6" cy="34.4" r="1.02" fill="#c8d8b0"/><circle cx="51.6" cy="45.1" r="1.08" fill="#b0b8e8"/><circle cx="62.9" cy="40.4" r="0.98" fill="#c0c8f0"/><circle cx="45.6" cy="45.0" r="0.89" fill="#c8d8b0"/><circle cx="48.9" cy="47.9" r="0.81" fill="#c8d8b0"/><circle cx="51.1" cy="28.5" r="1.03" fill="#b0b8e8"/><circle cx="43.1" cy="31.6" r="0.96" fill="#b0b8e8"/><circle cx="66.5" cy="43.4" r="1.04" fill="#c8d8b0"/><circle cx="64.5" cy="43.5" r="0.88" fill="#b0b8e8"/><circle cx="52.6" cy="46.5" r="0.92" fill="#c0c8f0"/><circle cx="47.5" cy="40.0" r="1.01" fill="#b0b8e8"/><circle cx="56.4" cy="40.2" r="1.10" fill="#c0c8f0"/><circle cx="64.1" cy="48.1" r="0.82" fill="#b0b8e8"/><circle cx="63.3" cy="24.3" r="1.10" fill="#a8a8e0"/><circle cx="52.6" cy="45.9" r="0.93" fill="#a8a8e0"/><circle cx="44.8" cy="50.5" r="0.86" fill="#c8d8b0"/><circle cx="50.0" cy="16.9" r="0.90" fill="#c0c8f0"/><circle cx="53.3" cy="41.9" r="0.89" fill="#c0c8f0"/><circle cx="66.3" cy="41.7" r="0.92" fill="#c0c8f0"/><circle cx="57.9" cy="19.2" r="0.83" fill="#b0b8e8"/><circle cx="57.1" cy="33.2" r="1.02" fill="#b0b8e8"/><circle cx="59.3" cy="23.6" r="1.05" fill="#c0c8f0"/><circle cx="59.4" cy="24.4" r="0.92" fill="#c8d8b0"/><circle cx="49.0" cy="21.7" r="0.99" fill="#a8a8e0"/><circle cx="68.8" cy="22.5" r="1.09" fill="#a8a8e0"/><circle cx="54.9" cy="45.7" r="0.96" fill="#c0c8f0"/><circle cx="55.3" cy="47.5" r="0.99" fill="#a8a8e0"/><circle cx="62.8" cy="35.1" r="0.82" fill="#c0c8f0"/><circle cx="70.6" cy="41.6" r="1.05" fill="#c0c8f0"/><circle cx="45.7" cy="22.1" r="0.91" fill="#a8a8e0"/><circle cx="65.4" cy="33.1" r="1.01" fill="#a8a8e0"/><circle cx="66.5" cy="21.2" r="0.91" fill="#a8a8e0"/><circle cx="50.6" cy="17.3" r="1.02" fill="#a8a8e0"/><circle cx="55.6" cy="16.7" r="0.82" fill="#c0c8f0"/><circle cx="55.0" cy="39.0" r="1.07" fill="#c8d8b0"/><circle cx="44.6" cy="33.7" r="0.80" fill="#b0b8e8"/><circle cx="46.4" cy="35.0" r="0.99" fill="#c0c8f0"/><circle cx="59.5" cy="29.5" r="1.00" fill="#b0b8e8"/><circle cx="46.8" cy="36.1" r="0.82" fill="#a8a8e0"/><circle cx="63.9" cy="22.5" r="0.83" fill="#a8a8e0"/><circle cx="57.8" cy="49.6" r="0.88" fill="#c8d8b0"/><circle cx="46.8" cy="30.4" r="1.00" fill="#b0b8e8"/><circle cx="47.9" cy="29.6" r="0.93" fill="#b0b8e8"/><circle cx="56.8" cy="22.2" r="0.85" fill="#a8a8e0"/><circle cx="60.7" cy="21.5" r="0.95" fill="#c0c8f0"/><circle cx="69.4" cy="23.7" r="0.84" fill="#c0c8f0"/><circle cx="43.2" cy="28.5" r="1.00" fill="#a8a8e0"/><circle cx="43.5" cy="24.1" r="0.81" fill="#b0b8e8"/><circle cx="43.7" cy="35.9" r="0.83" fill="#b0b8e8"/><circle cx="52.0" cy="48.4" r="0.96" fill="#c8d8b0"/><circle cx="51.1" cy="48.8" r="0.97" fill="#c8d8b0"/><circle cx="57.7" cy="50.5" r="1.03" fill="#c0c8f0"/><circle cx="57.0" cy="41.0" r="1.09" fill="#b0b8e8"/><circle cx="63.6" cy="24.0" r="0.93" fill="#c8d8b0"/><circle cx="47.8" cy="43.2" r="1.02" fill="#c0c8f0"/><circle cx="43.1" cy="43.3" r="1.01" fill="#c8d8b0"/><circle cx="62.6" cy="50.3" r="1.04" fill="#c8d8b0"/><circle cx="48.8" cy="39.4" r="1.01" fill="#c8d8b0"/><circle cx="42.2" cy="33.5" r="1.00" fill="#b0b8e8"/><circle cx="45.8" cy="45.0" r="0.83" fill="#a8a8e0"/><circle cx="55.4" cy="19.0" r="0.93" fill="#c0c8f0"/><circle cx="69.9" cy="32.9" r="0.96" fill="#a8a8e0"/><circle cx="52.5" cy="21.2" r="0.99" fill="#b0b8e8"/><circle cx="43.5" cy="29.1" r="0.91" fill="#c0c8f0"/><circle cx="50.5" cy="41.9" r="0.98" fill="#c8d8b0"/><circle cx="65.4" cy="21.7" r="1.07" fill="#c0c8f0"/><circle cx="47.6" cy="27.9" r="1.09" fill="#c0c8f0"/><circle cx="54.0" cy="36.2" r="0.99" fill="#b0b8e8"/><circle cx="58.7" cy="44.8" r="1.01" fill="#a8a8e0"/><circle cx="62.4" cy="21.5" r="1.07" fill="#b0b8e8"/><circle cx="50.1" cy="30.8" r="0.89" fill="#c8d8b0"/><circle cx="68.4" cy="29.2" r="0.95" fill="#a8a8e0"/><circle cx="47.9" cy="33.1" r="0.95" fill="#c0c8f0"/><circle cx="70.2" cy="20.6" r="0.94" fill="#c0c8f0"/><circle cx="66.8" cy="50.3" r="1.04" fill="#a8a8e0"/><circle cx="44.4" cy="46.9" r="0.95" fill="#a8a8e0"/><circle cx="47.6" cy="19.3" r="0.91" fill="#c8d8b0"/><circle cx="66.4" cy="47.6" r="0.81" fill="#c0c8f0"/><circle cx="45.8" cy="46.4" r="1.06" fill="#c8d8b0"/><circle cx="45.4" cy="33.0" r="0.80" fill="#c8d8b0"/><circle cx="52.8" cy="41.2" r="0.95" fill="#c0c8f0"/><circle cx="59.1" cy="45.9" r="0.98" fill="#a8a8e0"/><circle cx="42.4" cy="46.3" r="1.07" fill="#c0c8f0"/><circle cx="60.2" cy="37.6" r="0.84" fill="#c8d8b0"/><circle cx="41.2" cy="23.8" r="0.89" fill="#a8a8e0"/><circle cx="65.8" cy="48.5" r="1.10" fill="#a8a8e0"/><circle cx="43.0" cy="29.8" r="0.85" fill="#c8d8b0"/><circle cx="64.2" cy="46.3" r="0.84" fill="#b0b8e8"/><circle cx="56.0" cy="49.5" r="0.85" fill="#c8d8b0"/><circle cx="50.3" cy="27.6" r="1.04" fill="#c8d8b0"/></g><g filter="url(#bl1)" opacity="0.9"><circle cx="10.0" cy="16.1" r="0.90" fill="#80e060"/><circle cx="28.3" cy="9.4" r="1.03" fill="#f06080"/><circle cx="41.9" cy="14.1" r="0.97" fill="#f06080"/><circle cx="4.0" cy="9.0" r="1.13" fill="#f06080"/><circle cx="43.6" cy="25.0" r="1.12" fill="#f06080"/><circle cx="3.4" cy="24.8" r="1.05" fill="#20c0a0"/><circle cx="22.4" cy="33.2" r="0.93" fill="#f0a060"/><circle cx="16.1" cy="9.0" r="0.93" fill="#80e060"/><circle cx="4.2" cy="15.5" r="1.19" fill="#20c0a0"/><circle cx="43.7" cy="37.6" r="1.09" fill="#f06080"/><circle cx="36.6" cy="36.1" r="1.08" fill="#40d080"/><circle cx="7.1" cy="13.8" r="0.90" fill="#40d080"/><circle cx="7.8" cy="34.0" r="1.19" fill="#f06080"/><circle cx="5.3" cy="12.3" r="0.98" fill="#20c0a0"/></g><rect x="59.4" y="50.6" width="9.0" height="1.4" fill="#fff"/>
</svg>
<line x1="410.1" y1="40" x2="410.1" y2="207" stroke="#000" stroke-width="0.8"/>
<text transform="translate(414.6,70.7) rotate(90)" font-size="11" class="m" style="fill:#1414e6">Hoechst</text>
<text transform="translate(414.6,111.7) rotate(90)" font-size="11" class="m" style="fill:#1a9a3c">MyoD</text>
<text transform="translate(414.6,145) rotate(90)" font-size="11" class="m" style="fill:#ee1c1c">MyoG</text>
<text transform="translate(414.6,182.5) rotate(90)" font-size="11" class="m" style="fill:#6e6e6e">Myosin</text>
<!-- panel c -->
<text x="443.7" y="7.0" font-size="13" class="b">c</text>
<text x="549.3" y="10" font-size="10.0" class="m">GSEA analysis of</text>
<text x="550.8" y="21.8" font-size="10.08" class="m">Myogenesis transcriptome:</text>
<text x="552.6" y="33.6" font-size="10.1" class="m"><tspan class="i">in vitro</tspan> versus <tspan class="i">in vivo</tspan></text>
<g fill="none" stroke="#6a6a6a" stroke-width="0.7"><circle cx="493.4" cy="45.5" r="2.75"/><path d="M494.9 43.1 L497.4 38.5 M495.2 39.1 L497.5 38.3 L498.0 40.8"/></g>
<text x="508.3" y="48.2" font-size="10.5">16</text>
<line x1="535" y1="44.7" x2="537.2" y2="44.7" stroke="#555" stroke-width="0.6"/>
<circle cx="542.7" cy="44.7" r="4.6" fill="#e5323d"/>
<circle cx="568" cy="44.7" r="4.6" fill="#c4dcf6"/>
<line x1="594.9" y1="0" x2="594.9" y2="0" stroke="none"/>
<g fill="none" stroke="#6a6a6a" stroke-width="0.7"><circle cx="494.1" cy="59.8" r="2.75"/><path d="M494.1 62.6 L494.1 66.8 M492.0 64.8 L496.2 64.8"/></g>
<text x="508.3" y="65.80000000000001" font-size="10.5">13</text>
<line x1="535" y1="62.300000000000004" x2="537.2" y2="62.300000000000004" stroke="#555" stroke-width="0.6"/>
<circle cx="542.7" cy="62.300000000000004" r="4.6" fill="#f3a57a"/>
<circle cx="568" cy="62.300000000000004" r="4.6" fill="#8ab5f2"/>
<line x1="594.9" y1="0" x2="594.9" y2="0" stroke="none"/>
<g fill="none" stroke="#6a6a6a" stroke-width="0.7"><circle cx="493.4" cy="80.7" r="2.75"/><path d="M494.9 78.3 L497.4 73.7 M495.2 74.3 L497.5 73.5 L498.0 76.0"/></g>
<text x="508.3" y="83.4" font-size="10.5">13</text>
<text x="520.3" y="77.30000000000001" font-size="10">*</text>
<line x1="535" y1="79.9" x2="537.2" y2="79.9" stroke="#555" stroke-width="0.6"/>
<circle cx="542.7" cy="79.9" r="4.6" fill="#e63a44"/>
<circle cx="568" cy="79.9" r="4.6" fill="#6a8cec"/>
<line x1="594.9" y1="0" x2="594.9" y2="0" stroke="none"/>
<g fill="none" stroke="#6a6a6a" stroke-width="0.7"><circle cx="494.1" cy="95.0" r="2.75"/><path d="M494.1 97.8 L494.1 102.0 M492.0 100.0 L496.2 100.0"/></g>
<text x="508.3" y="101.0" font-size="10.5">20</text>
<line x1="535" y1="97.5" x2="537.2" y2="97.5" stroke="#555" stroke-width="0.6"/>
<circle cx="542.7" cy="97.5" r="4.6" fill="#e5323d"/>
<circle cx="568" cy="97.5" r="4.6" fill="#8ab4f2"/>
<line x1="594.9" y1="0" x2="594.9" y2="0" stroke="none"/>
<g fill="none" stroke="#6a6a6a" stroke-width="0.7"><circle cx="493.4" cy="115.9" r="2.75"/><path d="M494.9 113.5 L497.4 108.9 M495.2 109.5 L497.5 108.7 L498.0 111.2"/></g>
<text x="508.3" y="118.60000000000001" font-size="10.5">33</text>
<line x1="535" y1="115.10000000000001" x2="537.2" y2="115.10000000000001" stroke="#555" stroke-width="0.6"/>
<circle cx="542.7" cy="115.10000000000001" r="4.6" fill="#ec6f5c"/>
<circle cx="568" cy="115.10000000000001" r="4.6" fill="#86aef2"/>
<line x1="594.9" y1="0" x2="594.9" y2="0" stroke="none"/>
<g fill="none" stroke="#6a6a6a" stroke-width="0.7"><circle cx="493.4" cy="133.5" r="2.75"/><path d="M494.9 131.1 L497.4 126.5 M495.2 127.1 L497.5 126.3 L498.0 128.8"/></g>
<text x="508.3" y="136.2" font-size="10.5">38</text>
<line x1="535" y1="132.7" x2="537.2" y2="132.7" stroke="#555" stroke-width="0.6"/>
<circle cx="542.7" cy="132.7" r="4.6" fill="#f9cfa9"/>
<circle cx="568" cy="132.7" r="4.6" fill="#cadef5"/>
<line x1="594.9" y1="0" x2="594.9" y2="0" stroke="none"/>
<g fill="none" stroke="#6a6a6a" stroke-width="0.7"><circle cx="493.4" cy="151.1" r="2.75"/><path d="M494.9 148.7 L497.4 144.1 M495.2 144.7 L497.5 143.9 L498.0 146.4"/></g>
<text x="508.3" y="153.8" font-size="10.5">11</text>
<text x="520.3" y="147.70000000000002" font-size="10">*</text>
<line x1="535" y1="150.3" x2="537.2" y2="150.3" stroke="#555" stroke-width="0.6"/>
<circle cx="542.7" cy="150.3" r="4.6" fill="#ee7763"/>
<circle cx="568" cy="150.3" r="4.6" fill="#a4c8f4"/>
<line x1="594.9" y1="0" x2="594.9" y2="0" stroke="none"/>
<line x1="542.7" y1="157" x2="542.7" y2="159" stroke="#555" stroke-width="0.6"/>
<line x1="568" y1="157" x2="568" y2="159" stroke="#555" stroke-width="0.6"/>
<line x1="480.9" y1="39.8" x2="480.9" y2="83.3" stroke="#8a8a8a" stroke-width="0.7"/>
<line x1="480.9" y1="90.4" x2="480.9" y2="116.8" stroke="#8a8a8a" stroke-width="0.7"/>
<line x1="480.9" y1="128.2" x2="480.9" y2="155.2" stroke="#8a8a8a" stroke-width="0.7"/>
<circle cx="463.0" cy="62.6" r="8.2" fill="#fc0404" stroke="#000" stroke-width="0.75"/>
<text x="463.0" y="66.92" font-size="12" class="m">P</text>
<circle cx="463.0" cy="103.0" r="8.2" fill="#fc0404" stroke="#000" stroke-width="0.75"/>
<text x="463.0" y="107.32" font-size="12" class="m">T</text>
<circle cx="463.0" cy="141.6" r="8.2" fill="#fc0404" stroke="#000" stroke-width="0.75"/>
<text x="463.0" y="145.92" font-size="12" class="m">Q</text>
<text x="506.5" y="168" font-size="8.3" class="m">Age (yr)</text>
<text transform="translate(549.5,169.5) rotate(-30)" font-size="10.1" class="e">Top 200 genes up</text>
<text transform="translate(576.5,169.5) rotate(-30)" font-size="10.1" class="e">Top 200 genes down</text>
<rect x="589.2" y="39.3" width="5.8" height="116.7" fill="url(#nes)"/>
<line x1="595" y1="45.0" x2="597.3" y2="45.0" stroke="#333" stroke-width="0.6"/>
<text x="603.4" y="48.2" font-size="8.8">2.0</text>
<line x1="595" y1="58.2" x2="597.3" y2="58.2" stroke="#333" stroke-width="0.6"/>
<text x="603.4" y="61.4" font-size="8.8">1.5</text>
<line x1="595" y1="71.3" x2="597.3" y2="71.3" stroke="#333" stroke-width="0.6"/>
<text x="603.4" y="74.5" font-size="8.8">1.0</text>
<line x1="595" y1="84.5" x2="597.3" y2="84.5" stroke="#333" stroke-width="0.6"/>
<text x="603.4" y="87.7" font-size="8.8">0.5</text>
<line x1="595" y1="97.7" x2="597.3" y2="97.7" stroke="#333" stroke-width="0.6"/>
<text x="603.4" y="100.9" font-size="8.8">0.0</text>
<line x1="595" y1="110.8" x2="597.3" y2="110.8" stroke="#333" stroke-width="0.6"/>
<text x="603.4" y="114.0" font-size="8.8">–0.5</text>
<line x1="595" y1="124.0" x2="597.3" y2="124.0" stroke="#333" stroke-width="0.6"/>
<text x="603.4" y="127.2" font-size="8.8">–1.0</text>
<line x1="595" y1="137.2" x2="597.3" y2="137.2" stroke="#333" stroke-width="0.6"/>
<text x="603.4" y="140.4" font-size="8.8">–1.5</text>
<line x1="595" y1="150.4" x2="597.3" y2="150.4" stroke="#333" stroke-width="0.6"/>
<text x="603.4" y="153.6" font-size="8.8">–2.0</text>
<text transform="translate(637,96) rotate(-90)" font-size="8.5" class="m">NES value</text>
<circle cx="591.8" cy="168.4" r="4.3" fill="#fff" stroke="#000" stroke-width="0.8"/>
<text x="598.8" y="171.4" font-size="8.3">&lt; 0.001</text>
<circle cx="591.8" cy="186.5" r="3.5" fill="#fff" stroke="#000" stroke-width="0.8"/>
<text x="598.8" y="189.5" font-size="8.3">0.05</text>
<circle cx="591.8" cy="204.2" r="2.8" fill="#fff" stroke="#000" stroke-width="0.8"/>
<text x="598.8" y="207.2" font-size="8.3">0.1</text>
<text transform="translate(637,186) rotate(-90)" font-size="8.3" class="m">FWER value</text>
<!-- panel b -->
<text x="-0.6" y="237.8" font-size="13" class="b">b</text>
<text x="346.5" y="244.6" font-size="9.25" class="m">Time-course RNA-seq analysis of human myoblast differentiation (7 donors)</text>
<rect x="71.70" y="249.90" width="13.88" height="12.89" fill="#e0f0f9"/>
<rect x="85.38" y="249.90" width="13.88" height="12.89" fill="#e0f0f9"/>
<rect x="99.05" y="249.90" width="13.88" height="12.89" fill="#87ceeb"/>
<rect x="112.73" y="249.90" width="13.88" height="12.89" fill="#87ceeb"/>
<rect x="126.40" y="249.90" width="13.88" height="12.89" fill="#93d0ea"/>
<rect x="140.08" y="249.90" width="13.88" height="12.89" fill="#93d0ea"/>
<rect x="153.76" y="249.90" width="13.88" height="12.89" fill="#e0f0f9"/>
<rect x="167.43" y="249.90" width="13.88" height="12.89" fill="#e0f0f9"/>
<rect x="181.11" y="249.90" width="13.88" height="12.89" fill="#bde2f3"/>
<rect x="194.79" y="249.90" width="13.88" height="12.89" fill="#bde2f3"/>
<rect x="208.46" y="249.90" width="13.88" height="12.89" fill="#e0f0f9"/>
<rect x="222.14" y="249.90" width="13.88" height="12.89" fill="#e0f0f9"/>
<rect x="235.81" y="249.90" width="13.88" height="12.89" fill="#f3f9fd"/>
<rect x="249.49" y="249.90" width="13.88" height="12.89" fill="#f3f9fd"/>
<rect x="263.17" y="249.90" width="13.88" height="12.89" fill="#88bbee"/>
<rect x="276.84" y="249.90" width="13.88" height="12.89" fill="#88bbee"/>
<rect x="290.52" y="249.90" width="13.88" height="12.89" fill="#84a8f0"/>
<rect x="304.20" y="249.90" width="13.88" height="12.89" fill="#84a8f0"/>
<rect x="317.87" y="249.90" width="13.88" height="12.89" fill="#e0f0f9"/>
<rect x="331.55" y="249.90" width="13.88" height="12.89" fill="#e0f0f9"/>
<rect x="345.22" y="249.90" width="13.88" height="12.89" fill="#bde2f3"/>
<rect x="358.90" y="249.90" width="13.88" height="12.89" fill="#bde2f3"/>
<rect x="372.58" y="249.90" width="13.88" height="12.89" fill="#93d0ea"/>
<rect x="386.25" y="249.90" width="13.88" height="12.89" fill="#a9d9ef"/>
<rect x="399.93" y="249.90" width="13.88" height="12.89" fill="#bde2f3"/>
<rect x="413.60" y="249.90" width="13.88" height="12.89" fill="#bde2f3"/>
<rect x="427.28" y="249.90" width="13.88" height="12.89" fill="#88bbee"/>
<rect x="440.96" y="249.90" width="13.88" height="12.89" fill="#88bbee"/>
<rect x="454.63" y="249.90" width="13.88" height="12.89" fill="#84a8f0"/>
<rect x="468.31" y="249.90" width="13.88" height="12.89" fill="#84a8f0"/>
<rect x="481.99" y="249.90" width="13.88" height="12.89" fill="#e0f0f9"/>
<rect x="495.66" y="249.90" width="13.88" height="12.89" fill="#e0f0f9"/>
<rect x="509.34" y="249.90" width="13.88" height="12.89" fill="#84a8f0"/>
<rect x="523.01" y="249.90" width="13.88" height="12.89" fill="#84a8f0"/>
<rect x="536.69" y="249.90" width="13.88" height="12.89" fill="#7070f2"/>
<rect x="550.37" y="249.90" width="13.88" height="12.89" fill="#7070f2"/>
<rect x="564.04" y="249.90" width="13.88" height="12.89" fill="#e0f0f9"/>
<rect x="577.72" y="249.90" width="13.88" height="12.89" fill="#f3f9fd"/>
<rect x="591.40" y="249.90" width="13.88" height="12.89" fill="#84a8f0"/>
<rect x="605.07" y="249.90" width="13.88" height="12.89" fill="#7c8cf0"/>
<rect x="618.75" y="249.90" width="13.88" height="12.89" fill="#93d0ea"/>
<rect x="632.42" y="249.90" width="13.88" height="12.89" fill="#93d0ea"/>
<rect x="71.70" y="262.59" width="13.88" height="12.89" fill="#a9d9ef"/>
<rect x="85.38" y="262.59" width="13.88" height="12.89" fill="#a9d9ef"/>
<rect x="99.05" y="262.59" width="13.88" height="12.89" fill="#4030f8"/>
<rect x="112.73" y="262.59" width="13.88" height="12.89" fill="#4030f8"/>
<rect x="126.40" y="262.59" width="13.88" height="12.89" fill="#5c55f5"/>
<rect x="140.08" y="262.59" width="13.88" height="12.89" fill="#5c55f5"/>
<rect x="153.76" y="262.59" width="13.88" height="12.89" fill="#bde2f3"/>
<rect x="167.43" y="262.59" width="13.88" height="12.89" fill="#bde2f3"/>
<rect x="181.11" y="262.59" width="13.88" height="12.89" fill="#7c8cf0"/>
<rect x="194.79" y="262.59" width="13.88" height="12.89" fill="#7c8cf0"/>
<rect x="208.46" y="262.59" width="13.88" height="12.89" fill="#a9d9ef"/>
<rect x="222.14" y="262.59" width="13.88" height="12.89" fill="#a9d9ef"/>
<rect x="235.81" y="262.59" width="13.88" height="12.89" fill="#e0f0f9"/>
<rect x="249.49" y="262.59" width="13.88" height="12.89" fill="#e0f0f9"/>
<rect x="263.17" y="262.59" width="13.88" height="12.89" fill="#5c55f5"/>
<rect x="276.84" y="262.59" width="13.88" height="12.89" fill="#5c55f5"/>
<rect x="290.52" y="262.59" width="13.88" height="12.89" fill="#4030f8"/>
<rect x="304.20" y="262.59" width="13.88" height="12.89" fill="#4030f8"/>
<rect x="317.87" y="262.59" width="13.88" height="12.89" fill="#bde2f3"/>
<rect x="331.55" y="262.59" width="13.88" height="12.89" fill="#bde2f3"/>
<rect x="345.22" y="262.59" width="13.88" height="12.89" fill="#93d0ea"/>
<rect x="358.90" y="262.59" width="13.88" height="12.89" fill="#93d0ea"/>
<rect x="372.58" y="262.59" width="13.88" height="12.89" fill="#84a8f0"/>
<rect x="386.25" y="262.59" width="13.88" height="12.89" fill="#84a8f0"/>
<rect x="399.93" y="262.59" width="13.88" height="12.89" fill="#bde2f3"/>
<rect x="413.60" y="262.59" width="13.88" height="12.89" fill="#bde2f3"/>
<rect x="427.28" y="262.59" width="13.88" height="12.89" fill="#7c8cf0"/>
<rect x="440.96" y="262.59" width="13.88" height="12.89" fill="#7c8cf0"/>
<rect x="454.63" y="262.59" width="13.88" height="12.89" fill="#4030f8"/>
<rect x="468.31" y="262.59" width="13.88" height="12.89" fill="#4030f8"/>
<rect x="481.99" y="262.59" width="13.88" height="12.89" fill="#bde2f3"/>
<rect x="495.66" y="262.59" width="13.88" height="12.89" fill="#bde2f3"/>
<rect x="509.34" y="262.59" width="13.88" height="12.89" fill="#5c55f5"/>
<rect x="523.01" y="262.59" width="13.88" height="12.89" fill="#5c55f5"/>
<rect x="536.69" y="262.59" width="13.88" height="12.89" fill="#0000ff"/>
<rect x="550.37" y="262.59" width="13.88" height="12.89" fill="#0000ff"/>
<rect x="564.04" y="262.59" width="13.88" height="12.89" fill="#bde2f3"/>
<rect x="577.72" y="262.59" width="13.88" height="12.89" fill="#bde2f3"/>
<rect x="591.40" y="262.59" width="13.88" height="12.89" fill="#5c55f5"/>
<rect x="605.07" y="262.59" width="13.88" height="12.89" fill="#4030f8"/>
<rect x="618.75" y="262.59" width="13.88" height="12.89" fill="#7070f2"/>
<rect x="632.42" y="262.59" width="13.88" height="12.89" fill="#7c8cf0"/>
<rect x="71.70" y="275.28" width="13.88" height="12.89" fill="#88bbee"/>
<rect x="85.38" y="275.28" width="13.88" height="12.89" fill="#88bbee"/>
<rect x="99.05" y="275.28" width="13.88" height="12.89" fill="#000088"/>
<rect x="112.73" y="275.28" width="13.88" height="12.89" fill="#000088"/>
<rect x="126.40" y="275.28" width="13.88" height="12.89" fill="#00009c"/>
<rect x="140.08" y="275.28" width="13.88" height="12.89" fill="#00009c"/>
<rect x="153.76" y="275.28" width="13.88" height="12.89" fill="#88bbee"/>
<rect x="167.43" y="275.28" width="13.88" height="12.89" fill="#88bbee"/>
<rect x="181.11" y="275.28" width="13.88" height="12.89" fill="#0000b0"/>
<rect x="194.79" y="275.28" width="13.88" height="12.89" fill="#0000b0"/>
<rect x="208.46" y="275.28" width="13.88" height="12.89" fill="#0000c8"/>
<rect x="222.14" y="275.28" width="13.88" height="12.89" fill="#0000c8"/>
<rect x="235.81" y="275.28" width="13.88" height="12.89" fill="#a9d9ef"/>
<rect x="249.49" y="275.28" width="13.88" height="12.89" fill="#a9d9ef"/>
<rect x="263.17" y="275.28" width="13.88" height="12.89" fill="#0000b0"/>
<rect x="276.84" y="275.28" width="13.88" height="12.89" fill="#0000b0"/>
<rect x="290.52" y="275.28" width="13.88" height="12.89" fill="#000088"/>
<rect x="304.20" y="275.28" width="13.88" height="12.89" fill="#000088"/>
<rect x="317.87" y="275.28" width="13.88" height="12.89" fill="#84a8f0"/>
<rect x="331.55" y="275.28" width="13.88" height="12.89" fill="#84a8f0"/>
<rect x="345.22" y="275.28" width="13.88" height="12.89" fill="#000088"/>
<rect x="358.90" y="275.28" width="13.88" height="12.89" fill="#00009c"/>
<rect x="372.58" y="275.28" width="13.88" height="12.89" fill="#0000b0"/>
<rect x="386.25" y="275.28" width="13.88" height="12.89" fill="#0000b0"/>
<rect x="399.93" y="275.28" width="13.88" height="12.89" fill="#84a8f0"/>
<rect x="413.60" y="275.28" width="13.88" height="12.89" fill="#84a8f0"/>
<rect x="427.28" y="275.28" width="13.88" height="12.89" fill="#0000c8"/>
<rect x="440.96" y="275.28" width="13.88" height="12.89" fill="#0000c8"/>
<rect x="454.63" y="275.28" width="13.88" height="12.89" fill="#0000b0"/>
<rect x="468.31" y="275.28" width="13.88" height="12.89" fill="#0000b0"/>
<rect x="481.99" y="275.28" width="13.88" height="12.89" fill="#a9d9ef"/>
<rect x="495.66" y="275.28" width="13.88" height="12.89" fill="#a9d9ef"/>
<rect x="509.34" y="275.28" width="13.88" height="12.89" fill="#4030f8"/>
<rect x="523.01" y="275.28" width="13.88" height="12.89" fill="#4030f8"/>
<rect x="536.69" y="275.28" width="13.88" height="12.89" fill="#0000b0"/>
<rect x="550.37" y="275.28" width="13.88" height="12.89" fill="#0000b0"/>
<rect x="564.04" y="275.28" width="13.88" height="12.89" fill="#a9d9ef"/>
<rect x="577.72" y="275.28" width="13.88" height="12.89" fill="#a9d9ef"/>
<rect x="591.40" y="275.28" width="13.88" height="12.89" fill="#00009c"/>
<rect x="605.07" y="275.28" width="13.88" height="12.89" fill="#00009c"/>
<rect x="618.75" y="275.28" width="13.88" height="12.89" fill="#000088"/>
<rect x="632.42" y="275.28" width="13.88" height="12.89" fill="#000088"/>
<rect x="71.70" y="287.97" width="13.88" height="12.89" fill="#93d0ea"/>
<rect x="85.38" y="287.97" width="13.88" height="12.89" fill="#93d0ea"/>
<rect x="99.05" y="287.97" width="13.88" height="12.89" fill="#0000c8"/>
<rect x="112.73" y="287.97" width="13.88" height="12.89" fill="#0000c8"/>
<rect x="126.40" y="287.97" width="13.88" height="12.89" fill="#0000b0"/>
<rect x="140.08" y="287.97" width="13.88" height="12.89" fill="#0000b0"/>
<rect x="153.76" y="287.97" width="13.88" height="12.89" fill="#93d0ea"/>
<rect x="167.43" y="287.97" width="13.88" height="12.89" fill="#93d0ea"/>
<rect x="181.11" y="287.97" width="13.88" height="12.89" fill="#0000e0"/>
<rect x="194.79" y="287.97" width="13.88" height="12.89" fill="#0000e0"/>
<rect x="208.46" y="287.97" width="13.88" height="12.89" fill="#0000c8"/>
<rect x="222.14" y="287.97" width="13.88" height="12.89" fill="#0000c8"/>
<rect x="235.81" y="287.97" width="13.88" height="12.89" fill="#bde2f3"/>
<rect x="249.49" y="287.97" width="13.88" height="12.89" fill="#bde2f3"/>
<rect x="263.17" y="287.97" width="13.88" height="12.89" fill="#0000ff"/>
<rect x="276.84" y="287.97" width="13.88" height="12.89" fill="#4030f8"/>
<rect x="290.52" y="287.97" width="13.88" height="12.89" fill="#0000e0"/>
<rect x="304.20" y="287.97" width="13.88" height="12.89" fill="#0000e0"/>
<rect x="317.87" y="287.97" width="13.88" height="12.89" fill="#93d0ea"/>
<rect x="331.55" y="287.97" width="13.88" height="12.89" fill="#93d0ea"/>
<rect x="345.22" y="287.97" width="13.88" height="12.89" fill="#0000e0"/>
<rect x="358.90" y="287.97" width="13.88" height="12.89" fill="#0000e0"/>
<rect x="372.58" y="287.97" width="13.88" height="12.89" fill="#0000b0"/>
<rect x="386.25" y="287.97" width="13.88" height="12.89" fill="#0000b0"/>
<rect x="399.93" y="287.97" width="13.88" height="12.89" fill="#93d0ea"/>
<rect x="413.60" y="287.97" width="13.88" height="12.89" fill="#93d0ea"/>
<rect x="427.28" y="287.97" width="13.88" height="12.89" fill="#0000c8"/>
<rect x="440.96" y="287.97" width="13.88" height="12.89" fill="#0000c8"/>
<rect x="454.63" y="287.97" width="13.88" height="12.89" fill="#0000b0"/>
<rect x="468.31" y="287.97" width="13.88" height="12.89" fill="#0000b0"/>
<rect x="481.99" y="287.97" width="13.88" height="12.89" fill="#bde2f3"/>
<rect x="495.66" y="287.97" width="13.88" height="12.89" fill="#bde2f3"/>
<rect x="509.34" y="287.97" width="13.88" height="12.89" fill="#4030f8"/>
<rect x="523.01" y="287.97" width="13.88" height="12.89" fill="#4030f8"/>
<rect x="536.69" y="287.97" width="13.88" height="12.89" fill="#0000b0"/>
<rect x="550.37" y="287.97" width="13.88" height="12.89" fill="#0000b0"/>
<rect x="564.04" y="287.97" width="13.88" height="12.89" fill="#cfe8f6"/>
<rect x="577.72" y="287.97" width="13.88" height="12.89" fill="#cfe8f6"/>
<rect x="591.40" y="287.97" width="13.88" height="12.89" fill="#7070f2"/>
<rect x="605.07" y="287.97" width="13.88" height="12.89" fill="#7070f2"/>
<rect x="618.75" y="287.97" width="13.88" height="12.89" fill="#0000ff"/>
<rect x="632.42" y="287.97" width="13.88" height="12.89" fill="#0000e0"/>
<rect x="71.70" y="300.66" width="13.88" height="12.89" fill="#93d0ea"/>
<rect x="85.38" y="300.66" width="13.88" height="12.89" fill="#93d0ea"/>
<rect x="99.05" y="300.66" width="13.88" height="12.89" fill="#0000b0"/>
<rect x="112.73" y="300.66" width="13.88" height="12.89" fill="#0000b0"/>
<rect x="126.40" y="300.66" width="13.88" height="12.89" fill="#0000c8"/>
<rect x="140.08" y="300.66" width="13.88" height="12.89" fill="#0000c8"/>
<rect x="153.76" y="300.66" width="13.88" height="12.89" fill="#bde2f3"/>
<rect x="167.43" y="300.66" width="13.88" height="12.89" fill="#cfe8f6"/>
<rect x="181.11" y="300.66" width="13.88" height="12.89" fill="#0000c8"/>
<rect x="194.79" y="300.66" width="13.88" height="12.89" fill="#0000c8"/>
<rect x="208.46" y="300.66" width="13.88" height="12.89" fill="#0000ff"/>
<rect x="222.14" y="300.66" width="13.88" height="12.89" fill="#0000ff"/>
<rect x="235.81" y="300.66" width="13.88" height="12.89" fill="#bde2f3"/>
<rect x="249.49" y="300.66" width="13.88" height="12.89" fill="#bde2f3"/>
<rect x="263.17" y="300.66" width="13.88" height="12.89" fill="#0000ff"/>
<rect x="276.84" y="300.66" width="13.88" height="12.89" fill="#0000ff"/>
<rect x="290.52" y="300.66" width="13.88" height="12.89" fill="#0000e0"/>
<rect x="304.20" y="300.66" width="13.88" height="12.89" fill="#0000e0"/>
<rect x="317.87" y="300.66" width="13.88" height="12.89" fill="#93d0ea"/>
<rect x="331.55" y="300.66" width="13.88" height="12.89" fill="#93d0ea"/>
<rect x="345.22" y="300.66" width="13.88" height="12.89" fill="#00009c"/>
<rect x="358.90" y="300.66" width="13.88" height="12.89" fill="#0000b0"/>
<rect x="372.58" y="300.66" width="13.88" height="12.89" fill="#0000b0"/>
<rect x="386.25" y="300.66" width="13.88" height="12.89" fill="#0000b0"/>
<rect x="399.93" y="300.66" width="13.88" height="12.89" fill="#a9d9ef"/>
<rect x="413.60" y="300.66" width="13.88" height="12.89" fill="#a9d9ef"/>
<rect x="427.28" y="300.66" width="13.88" height="12.89" fill="#00009c"/>
<rect x="440.96" y="300.66" width="13.88" height="12.89" fill="#00009c"/>
<rect x="454.63" y="300.66" width="13.88" height="12.89" fill="#00009c"/>
<rect x="468.31" y="300.66" width="13.88" height="12.89" fill="#00009c"/>
<rect x="481.99" y="300.66" width="13.88" height="12.89" fill="#a9d9ef"/>
<rect x="495.66" y="300.66" width="13.88" height="12.89" fill="#a9d9ef"/>
<rect x="509.34" y="300.66" width="13.88" height="12.89" fill="#0000ff"/>
<rect x="523.01" y="300.66" width="13.88" height="12.89" fill="#0000ff"/>
<rect x="536.69" y="300.66" width="13.88" height="12.89" fill="#0000b0"/>
<rect x="550.37" y="300.66" width="13.88" height="12.89" fill="#0000b0"/>
<rect x="564.04" y="300.66" width="13.88" height="12.89" fill="#bde2f3"/>
<rect x="577.72" y="300.66" width="13.88" height="12.89" fill="#bde2f3"/>
<rect x="591.40" y="300.66" width="13.88" height="12.89" fill="#0000c8"/>
<rect x="605.07" y="300.66" width="13.88" height="12.89" fill="#0000c8"/>
<rect x="618.75" y="300.66" width="13.88" height="12.89" fill="#0000b0"/>
<rect x="632.42" y="300.66" width="13.88" height="12.89" fill="#0000c8"/>
<rect x="71.70" y="313.34" width="13.88" height="12.89" fill="#84a8f0"/>
<rect x="85.38" y="313.34" width="13.88" height="12.89" fill="#84a8f0"/>
<rect x="99.05" y="313.34" width="13.88" height="12.89" fill="#000088"/>
<rect x="112.73" y="313.34" width="13.88" height="12.89" fill="#000088"/>
<rect x="126.40" y="313.34" width="13.88" height="12.89" fill="#00009c"/>
<rect x="140.08" y="313.34" width="13.88" height="12.89" fill="#00009c"/>
<rect x="153.76" y="313.34" width="13.88" height="12.89" fill="#a9d9ef"/>
<rect x="167.43" y="313.34" width="13.88" height="12.89" fill="#a9d9ef"/>
<rect x="181.11" y="313.34" width="13.88" height="12.89" fill="#0000b0"/>
<rect x="194.79" y="313.34" width="13.88" height="12.89" fill="#0000b0"/>
<rect x="208.46" y="313.34" width="13.88" height="12.89" fill="#0000b0"/>
<rect x="222.14" y="313.34" width="13.88" height="12.89" fill="#0000b0"/>
<rect x="235.81" y="313.34" width="13.88" height="12.89" fill="#93d0ea"/>
<rect x="249.49" y="313.34" width="13.88" height="12.89" fill="#a9d9ef"/>
<rect x="263.17" y="313.34" width="13.88" height="12.89" fill="#0000b0"/>
<rect x="276.84" y="313.34" width="13.88" height="12.89" fill="#0000c8"/>
<rect x="290.52" y="313.34" width="13.88" height="12.89" fill="#000088"/>
<rect x="304.20" y="313.34" width="13.88" height="12.89" fill="#000088"/>
<rect x="317.87" y="313.34" width="13.88" height="12.89" fill="#84a8f0"/>
<rect x="331.55" y="313.34" width="13.88" height="12.89" fill="#84a8f0"/>
<rect x="345.22" y="313.34" width="13.88" height="12.89" fill="#00009c"/>
<rect x="358.90" y="313.34" width="13.88" height="12.89" fill="#00009c"/>
<rect x="372.58" y="313.34" width="13.88" height="12.89" fill="#000088"/>
<rect x="386.25" y="313.34" width="13.88" height="12.89" fill="#000088"/>
<rect x="399.93" y="313.34" width="13.88" height="12.89" fill="#93d0ea"/>
<rect x="413.60" y="313.34" width="13.88" height="12.89" fill="#87ceeb"/>
<rect x="427.28" y="313.34" width="13.88" height="12.89" fill="#0000e0"/>
<rect x="440.96" y="313.34" width="13.88" height="12.89" fill="#0000e0"/>
<rect x="454.63" y="313.34" width="13.88" height="12.89" fill="#0000b0"/>
<rect x="468.31" y="313.34" width="13.88" height="12.89" fill="#0000b0"/>
<rect x="481.99" y="313.34" width="13.88" height="12.89" fill="#a9d9ef"/>
<rect x="495.66" y="313.34" width="13.88" height="12.89" fill="#a9d9ef"/>
<rect x="509.34" y="313.34" width="13.88" height="12.89" fill="#0000ff"/>
<rect x="523.01" y="313.34" width="13.88" height="12.89" fill="#0000ff"/>
<rect x="536.69" y="313.34" width="13.88" height="12.89" fill="#0000b0"/>
<rect x="550.37" y="313.34" width="13.88" height="12.89" fill="#0000b0"/>
<rect x="564.04" y="313.34" width="13.88" height="12.89" fill="#93d0ea"/>
<rect x="577.72" y="313.34" width="13.88" height="12.89" fill="#93d0ea"/>
<rect x="591.40" y="313.34" width="13.88" height="12.89" fill="#00009c"/>
<rect x="605.07" y="313.34" width="13.88" height="12.89" fill="#00009c"/>
<rect x="618.75" y="313.34" width="13.88" height="12.89" fill="#000088"/>
<rect x="632.42" y="313.34" width="13.88" height="12.89" fill="#000088"/>
<rect x="71.70" y="326.03" width="13.88" height="12.89" fill="#bde2f3"/>
<rect x="85.38" y="326.03" width="13.88" height="12.89" fill="#cfe8f6"/>
<rect x="99.05" y="326.03" width="13.88" height="12.89" fill="#7070f2"/>
<rect x="112.73" y="326.03" width="13.88" height="12.89" fill="#7070f2"/>
<rect x="126.40" y="326.03" width="13.88" height="12.89" fill="#0000e0"/>
<rect x="140.08" y="326.03" width="13.88" height="12.89" fill="#0000e0"/>
<rect x="153.76" y="326.03" width="13.88" height="12.89" fill="#e0f0f9"/>
<rect x="167.43" y="326.03" width="13.88" height="12.89" fill="#cfe8f6"/>
<rect x="181.11" y="326.03" width="13.88" height="12.89" fill="#5c55f5"/>
<rect x="194.79" y="326.03" width="13.88" height="12.89" fill="#5c55f5"/>
<rect x="208.46" y="326.03" width="13.88" height="12.89" fill="#0000e0"/>
<rect x="222.14" y="326.03" width="13.88" height="12.89" fill="#0000e0"/>
<rect x="235.81" y="326.03" width="13.88" height="12.89" fill="#f3f9fd"/>
<rect x="249.49" y="326.03" width="13.88" height="12.89" fill="#e0f0f9"/>
<rect x="263.17" y="326.03" width="13.88" height="12.89" fill="#a9d9ef"/>
<rect x="276.84" y="326.03" width="13.88" height="12.89" fill="#a9d9ef"/>
<rect x="290.52" y="326.03" width="13.88" height="12.89" fill="#4030f8"/>
<rect x="304.20" y="326.03" width="13.88" height="12.89" fill="#4030f8"/>
<rect x="317.87" y="326.03" width="13.88" height="12.89" fill="#cfe8f6"/>
<rect x="331.55" y="326.03" width="13.88" height="12.89" fill="#e0f0f9"/>
<rect x="345.22" y="326.03" width="13.88" height="12.89" fill="#88bbee"/>
<rect x="358.90" y="326.03" width="13.88" height="12.89" fill="#88bbee"/>
<rect x="372.58" y="326.03" width="13.88" height="12.89" fill="#0000e0"/>
<rect x="386.25" y="326.03" width="13.88" height="12.89" fill="#0000e0"/>
<rect x="399.93" y="326.03" width="13.88" height="12.89" fill="#bde2f3"/>
<rect x="413.60" y="326.03" width="13.88" height="12.89" fill="#cfe8f6"/>
<rect x="427.28" y="326.03" width="13.88" height="12.89" fill="#7c8cf0"/>
<rect x="440.96" y="326.03" width="13.88" height="12.89" fill="#7c8cf0"/>
<rect x="454.63" y="326.03" width="13.88" height="12.89" fill="#0000e0"/>
<rect x="468.31" y="326.03" width="13.88" height="12.89" fill="#0000e0"/>
<rect x="481.99" y="326.03" width="13.88" height="12.89" fill="#f3f9fd"/>
<rect x="495.66" y="326.03" width="13.88" height="12.89" fill="#f3f9fd"/>
<rect x="509.34" y="326.03" width="13.88" height="12.89" fill="#e0f0f9"/>
<rect x="523.01" y="326.03" width="13.88" height="12.89" fill="#e0f0f9"/>
<rect x="536.69" y="326.03" width="13.88" height="12.89" fill="#4030f8"/>
<rect x="550.37" y="326.03" width="13.88" height="12.89" fill="#4030f8"/>
<rect x="564.04" y="326.03" width="13.88" height="12.89" fill="#f3f9fd"/>
<rect x="577.72" y="326.03" width="13.88" height="12.89" fill="#f3f9fd"/>
<rect x="591.40" y="326.03" width="13.88" height="12.89" fill="#e0f0f9"/>
<rect x="605.07" y="326.03" width="13.88" height="12.89" fill="#e0f0f9"/>
<rect x="618.75" y="326.03" width="13.88" height="12.89" fill="#84a8f0"/>
<rect x="632.42" y="326.03" width="13.88" height="12.89" fill="#84a8f0"/>
<rect x="71.70" y="338.72" width="13.88" height="12.89" fill="#93d0ea"/>
<rect x="85.38" y="338.72" width="13.88" height="12.89" fill="#93d0ea"/>
<rect x="99.05" y="338.72" width="13.88" height="12.89" fill="#0000b0"/>
<rect x="112.73" y="338.72" width="13.88" height="12.89" fill="#0000b0"/>
<rect x="126.40" y="338.72" width="13.88" height="12.89" fill="#0000b0"/>
<rect x="140.08" y="338.72" width="13.88" height="12.89" fill="#0000b0"/>
<rect x="153.76" y="338.72" width="13.88" height="12.89" fill="#a9d9ef"/>
<rect x="167.43" y="338.72" width="13.88" height="12.89" fill="#a9d9ef"/>
<rect x="181.11" y="338.72" width="13.88" height="12.89" fill="#0000c8"/>
<rect x="194.79" y="338.72" width="13.88" height="12.89" fill="#0000c8"/>
<rect x="208.46" y="338.72" width="13.88" height="12.89" fill="#0000e0"/>
<rect x="222.14" y="338.72" width="13.88" height="12.89" fill="#0000e0"/>
<rect x="235.81" y="338.72" width="13.88" height="12.89" fill="#bde2f3"/>
<rect x="249.49" y="338.72" width="13.88" height="12.89" fill="#cfe8f6"/>
<rect x="263.17" y="338.72" width="13.88" height="12.89" fill="#0000e0"/>
<rect x="276.84" y="338.72" width="13.88" height="12.89" fill="#0000e0"/>
<rect x="290.52" y="338.72" width="13.88" height="12.89" fill="#0000b0"/>
<rect x="304.20" y="338.72" width="13.88" height="12.89" fill="#0000b0"/>
<rect x="317.87" y="338.72" width="13.88" height="12.89" fill="#93d0ea"/>
<rect x="331.55" y="338.72" width="13.88" height="12.89" fill="#93d0ea"/>
<rect x="345.22" y="338.72" width="13.88" height="12.89" fill="#0000b0"/>
<rect x="358.90" y="338.72" width="13.88" height="12.89" fill="#0000b0"/>
<rect x="372.58" y="338.72" width="13.88" height="12.89" fill="#0000c8"/>
<rect x="386.25" y="338.72" width="13.88" height="12.89" fill="#0000c8"/>
<rect x="399.93" y="338.72" width="13.88" height="12.89" fill="#93d0ea"/>
<rect x="413.60" y="338.72" width="13.88" height="12.89" fill="#93d0ea"/>
<rect x="427.28" y="338.72" width="13.88" height="12.89" fill="#0000b0"/>
<rect x="440.96" y="338.72" width="13.88" height="12.89" fill="#0000b0"/>
<rect x="454.63" y="338.72" width="13.88" height="12.89" fill="#0000c8"/>
<rect x="468.31" y="338.72" width="13.88" height="12.89" fill="#0000c8"/>
<rect x="481.99" y="338.72" width="13.88" height="12.89" fill="#bde2f3"/>
<rect x="495.66" y="338.72" width="13.88" height="12.89" fill="#a9d9ef"/>
<rect x="509.34" y="338.72" width="13.88" height="12.89" fill="#0000e0"/>
<rect x="523.01" y="338.72" width="13.88" height="12.89" fill="#0000e0"/>
<rect x="536.69" y="338.72" width="13.88" height="12.89" fill="#0000b0"/>
<rect x="550.37" y="338.72" width="13.88" height="12.89" fill="#0000b0"/>
<rect x="564.04" y="338.72" width="13.88" height="12.89" fill="#bde2f3"/>
<rect x="577.72" y="338.72" width="13.88" height="12.89" fill="#bde2f3"/>
<rect x="591.40" y="338.72" width="13.88" height="12.89" fill="#0000c8"/>
<rect x="605.07" y="338.72" width="13.88" height="12.89" fill="#0000c8"/>
<rect x="618.75" y="338.72" width="13.88" height="12.89" fill="#0000b0"/>
<rect x="632.42" y="338.72" width="13.88" height="12.89" fill="#0000b0"/>
<rect x="71.70" y="351.41" width="13.88" height="12.89" fill="#93d0ea"/>
<rect x="85.38" y="351.41" width="13.88" height="12.89" fill="#93d0ea"/>
<rect x="99.05" y="351.41" width="13.88" height="12.89" fill="#0000ff"/>
<rect x="112.73" y="351.41" width="13.88" height="12.89" fill="#0000ff"/>
<rect x="126.40" y="351.41" width="13.88" height="12.89" fill="#0000ff"/>
<rect x="140.08" y="351.41" width="13.88" height="12.89" fill="#0000ff"/>
<rect x="153.76" y="351.41" width="13.88" height="12.89" fill="#7070f2"/>
<rect x="167.43" y="351.41" width="13.88" height="12.89" fill="#7070f2"/>
<rect x="181.11" y="351.41" width="13.88" height="12.89" fill="#0000ff"/>
<rect x="194.79" y="351.41" width="13.88" height="12.89" fill="#0000ff"/>
<rect x="208.46" y="351.41" width="13.88" height="12.89" fill="#7c8cf0"/>
<rect x="222.14" y="351.41" width="13.88" height="12.89" fill="#7c8cf0"/>
<rect x="235.81" y="351.41" width="13.88" height="12.89" fill="#cfe8f6"/>
<rect x="249.49" y="351.41" width="13.88" height="12.89" fill="#cfe8f6"/>
<rect x="263.17" y="351.41" width="13.88" height="12.89" fill="#0000ff"/>
<rect x="276.84" y="351.41" width="13.88" height="12.89" fill="#0000ff"/>
<rect x="290.52" y="351.41" width="13.88" height="12.89" fill="#0000ff"/>
<rect x="304.20" y="351.41" width="13.88" height="12.89" fill="#0000ff"/>
<rect x="317.87" y="351.41" width="13.88" height="12.89" fill="#84a8f0"/>
<rect x="331.55" y="351.41" width="13.88" height="12.89" fill="#84a8f0"/>
<rect x="345.22" y="351.41" width="13.88" height="12.89" fill="#0000e0"/>
<rect x="358.90" y="351.41" width="13.88" height="12.89" fill="#0000e0"/>
<rect x="372.58" y="351.41" width="13.88" height="12.89" fill="#4030f8"/>
<rect x="386.25" y="351.41" width="13.88" height="12.89" fill="#4030f8"/>
<rect x="399.93" y="351.41" width="13.88" height="12.89" fill="#88bbee"/>
<rect x="413.60" y="351.41" width="13.88" height="12.89" fill="#88bbee"/>
<rect x="427.28" y="351.41" width="13.88" height="12.89" fill="#0000e0"/>
<rect x="440.96" y="351.41" width="13.88" height="12.89" fill="#0000e0"/>
<rect x="454.63" y="351.41" width="13.88" height="12.89" fill="#5c55f5"/>
<rect x="468.31" y="351.41" width="13.88" height="12.89" fill="#5c55f5"/>
<rect x="481.99" y="351.41" width="13.88" height="12.89" fill="#88bbee"/>
<rect x="495.66" y="351.41" width="13.88" height="12.89" fill="#88bbee"/>
<rect x="509.34" y="351.41" width="13.88" height="12.89" fill="#0000e0"/>
<rect x="523.01" y="351.41" width="13.88" height="12.89" fill="#0000e0"/>
<rect x="536.69" y="351.41" width="13.88" height="12.89" fill="#0000ff"/>
<rect x="550.37" y="351.41" width="13.88" height="12.89" fill="#0000ff"/>
<rect x="564.04" y="351.41" width="13.88" height="12.89" fill="#bde2f3"/>
<rect x="577.72" y="351.41" width="13.88" height="12.89" fill="#bde2f3"/>
<rect x="591.40" y="351.41" width="13.88" height="12.89" fill="#0000e0"/>
<rect x="605.07" y="351.41" width="13.88" height="12.89" fill="#0000e0"/>
<rect x="618.75" y="351.41" width="13.88" height="12.89" fill="#4030f8"/>
<rect x="632.42" y="351.41" width="13.88" height="12.89" fill="#4030f8"/>
<path d="M85.48 250.0 V364.2 M99.15 250.0 V364.2 M112.83 250.0 V364.2 M126.50 250.0 V364.2 M140.18 250.0 V364.2 M153.86 250.0 V364.2 M167.53 250.0 V364.2 M181.21 250.0 V364.2 M194.89 250.0 V364.2 M208.56 250.0 V364.2 M222.24 250.0 V364.2 M235.91 250.0 V364.2 M249.59 250.0 V364.2 M263.27 250.0 V364.2 M276.94 250.0 V364.2 M290.62 250.0 V364.2 M304.30 250.0 V364.2 M317.97 250.0 V364.2 M331.65 250.0 V364.2 M345.32 250.0 V364.2 M359.00 250.0 V364.2 M372.68 250.0 V364.2 M386.35 250.0 V364.2 M400.03 250.0 V364.2 M413.70 250.0 V364.2 M427.38 250.0 V364.2 M441.06 250.0 V364.2 M454.73 250.0 V364.2 M468.41 250.0 V364.2 M482.09 250.0 V364.2 M495.76 250.0 V364.2 M509.44 250.0 V364.2 M523.11 250.0 V364.2 M536.79 250.0 V364.2 M550.47 250.0 V364.2 M564.14 250.0 V364.2 M577.82 250.0 V364.2 M591.50 250.0 V364.2 M605.17 250.0 V364.2 M618.85 250.0 V364.2 M632.52 250.0 V364.2 M71.8 262.69 H646.2 M71.8 275.38 H646.2 M71.8 288.07 H646.2 M71.8 300.76 H646.2 M71.8 313.44 H646.2 M71.8 326.13 H646.2 M71.8 338.82 H646.2 M71.8 351.51 H646.2" stroke="#fff" stroke-opacity="0.62" stroke-width="0.55" fill="none"/>
<text x="68.8" y="261.3" font-size="8.5" class="i e">MYH1</text>
<text x="68.8" y="273.9" font-size="8.5" class="i e">MYH2</text>
<text x="68.8" y="286.5" font-size="8.5" class="i e">MYH3</text>
<text x="68.8" y="299.0" font-size="8.5" class="i e">MYH7</text>
<text x="68.8" y="311.6" font-size="8.5" class="i e">MYH8</text>
<text x="68.8" y="324.2" font-size="8.5" class="i e">MYL1</text>
<text x="68.8" y="336.8" font-size="8.5" class="i e">MYL2</text>
<text x="68.8" y="349.4" font-size="8.5" class="i e">MYMK</text>
<text x="68.8" y="361.9" font-size="8.5" class="i e">MYMX</text>
<line x1="39.5" y1="256.6" x2="39.5" y2="336" stroke="#999" stroke-width="0.8"/>
<line x1="39.5" y1="342.6" x2="39.5" y2="362.5" stroke="#999" stroke-width="0.8"/>
<text x="17.6" y="293.7" font-size="8.9" class="m">Myosin</text>
<text x="17.6" y="304.2" font-size="8.9" class="m">Genes</text>
<text x="18.0" y="350.9" font-size="8.9" class="m">Muscle</text>
<text x="18.3" y="360.9" font-size="8.9" class="m">Fusogens</text>
<text x="67.7" y="377.9" font-size="8.4" class="e">Differentiation:</text>
<text x="67.7" y="392.6" font-size="8.4" class="e">Donor ID:</text>
<line x1="71.3" y1="367.9" x2="97.4" y2="367.9" stroke="#adadad" stroke-width="1.5"/>
<text x="86.2" y="378.8" font-size="8.3" class="m">Day 0</text>
<line x1="98.7" y1="367.9" x2="124.7" y2="367.9" stroke="#adadad" stroke-width="1.5"/>
<text x="113.5" y="378.8" font-size="8.3" class="m">Day 2</text>
<line x1="126.0" y1="367.9" x2="152.1" y2="367.9" stroke="#adadad" stroke-width="1.5"/>
<text x="140.9" y="378.8" font-size="8.3" class="m">Day 6</text>
<line x1="71.3" y1="382.4" x2="152.1" y2="382.4" stroke="#b0b0b0" stroke-width="1.2"/>
<text x="111.0" y="392.4" font-size="8.5" class="m">KM1421</text>
<line x1="153.4" y1="367.9" x2="179.4" y2="367.9" stroke="#adadad" stroke-width="1.5"/>
<text x="168.2" y="378.8" font-size="8.3" class="m">Day 0</text>
<line x1="180.7" y1="367.9" x2="206.8" y2="367.9" stroke="#adadad" stroke-width="1.5"/>
<text x="195.6" y="378.8" font-size="8.3" class="m">Day 2</text>
<line x1="208.1" y1="367.9" x2="234.1" y2="367.9" stroke="#adadad" stroke-width="1.5"/>
<text x="222.9" y="378.8" font-size="8.3" class="m">Day 6</text>
<line x1="153.4" y1="382.4" x2="234.1" y2="382.4" stroke="#b0b0b0" stroke-width="1.2"/>
<text x="193.2" y="392.4" font-size="8.5" class="m">AB1190</text>
<line x1="235.4" y1="367.9" x2="261.5" y2="367.9" stroke="#adadad" stroke-width="1.5"/>
<text x="250.3" y="378.8" font-size="8.3" class="m">Day 0</text>
<line x1="262.8" y1="367.9" x2="288.8" y2="367.9" stroke="#adadad" stroke-width="1.5"/>
<text x="277.6" y="378.8" font-size="8.3" class="m">Day 2</text>
<line x1="290.1" y1="367.9" x2="316.2" y2="367.9" stroke="#adadad" stroke-width="1.5"/>
<text x="305.0" y="378.8" font-size="8.3" class="m">Day 6</text>
<line x1="235.4" y1="382.4" x2="316.2" y2="382.4" stroke="#b0b0b0" stroke-width="1.2"/>
<text x="275.4" y="392.4" font-size="8.5" class="m">AB1071</text>
<line x1="317.5" y1="367.9" x2="343.5" y2="367.9" stroke="#adadad" stroke-width="1.5"/>
<text x="332.3" y="378.8" font-size="8.3" class="m">Day 0</text>
<line x1="344.8" y1="367.9" x2="370.9" y2="367.9" stroke="#adadad" stroke-width="1.5"/>
<text x="359.7" y="378.8" font-size="8.3" class="m">Day 2</text>
<line x1="372.2" y1="367.9" x2="398.2" y2="367.9" stroke="#adadad" stroke-width="1.5"/>
<text x="387.1" y="378.8" font-size="8.3" class="m">Day 6</text>
<line x1="317.5" y1="382.4" x2="398.2" y2="382.4" stroke="#b0b0b0" stroke-width="1.2"/>
<text x="357.6" y="392.4" font-size="8.5" class="m">AB1167</text>
<line x1="399.5" y1="367.9" x2="425.6" y2="367.9" stroke="#adadad" stroke-width="1.5"/>
<text x="414.4" y="378.8" font-size="8.3" class="m">Day 0</text>
<line x1="426.9" y1="367.9" x2="452.9" y2="367.9" stroke="#adadad" stroke-width="1.5"/>
<text x="441.8" y="378.8" font-size="8.3" class="m">Day 2</text>
<line x1="454.2" y1="367.9" x2="480.3" y2="367.9" stroke="#adadad" stroke-width="1.5"/>
<text x="469.1" y="378.8" font-size="8.3" class="m">Day 6</text>
<line x1="399.5" y1="382.4" x2="480.3" y2="382.4" stroke="#b0b0b0" stroke-width="1.2"/>
<text x="439.8" y="392.4" font-size="8.5" class="m">AB1436</text>
<line x1="481.6" y1="367.9" x2="507.6" y2="367.9" stroke="#adadad" stroke-width="1.5"/>
<text x="496.5" y="378.8" font-size="8.3" class="m">Day 0</text>
<line x1="508.9" y1="367.9" x2="535.0" y2="367.9" stroke="#adadad" stroke-width="1.5"/>
<text x="523.8" y="378.8" font-size="8.3" class="m">Day 2</text>
<line x1="536.3" y1="367.9" x2="562.3" y2="367.9" stroke="#adadad" stroke-width="1.5"/>
<text x="551.2" y="378.8" font-size="8.3" class="m">Day 6</text>
<line x1="481.6" y1="382.4" x2="562.3" y2="382.4" stroke="#b0b0b0" stroke-width="1.2"/>
<text x="522.0" y="392.4" font-size="8.5" class="m">AB1079</text>
<line x1="563.6" y1="367.9" x2="589.7" y2="367.9" stroke="#adadad" stroke-width="1.5"/>
<text x="578.5" y="378.8" font-size="8.3" class="m">Day 0</text>
<line x1="591.0" y1="367.9" x2="617.0" y2="367.9" stroke="#adadad" stroke-width="1.5"/>
<text x="605.9" y="378.8" font-size="8.3" class="m">Day 2</text>
<line x1="618.3" y1="367.9" x2="644.4" y2="367.9" stroke="#adadad" stroke-width="1.5"/>
<text x="633.2" y="378.8" font-size="8.3" class="m">Day 6</text>
<line x1="563.6" y1="382.4" x2="644.4" y2="382.4" stroke="#b0b0b0" stroke-width="1.2"/>
<text x="604.2" y="392.4" font-size="8.5" class="m">AB1023</text>
<text x="674" y="243.5" font-size="8.6" class="m">TPM</text>
<rect x="655.9" y="250.6" width="9.6" height="51.6" fill="url(#tpm)"/>
<line x1="665.5" y1="251.2" x2="667.3" y2="251.2" stroke="#333" stroke-width="0.5"/>
<text x="668.8" y="253.39999999999998" font-size="6.1">11000</text>
<line x1="665.5" y1="258.6" x2="667.3" y2="258.6" stroke="#333" stroke-width="0.5"/>
<text x="668.8" y="260.8" font-size="6.1">2750</text>
<line x1="665.5" y1="301.6" x2="667.3" y2="301.6" stroke="#333" stroke-width="0.5"/>
<text x="668.8" y="303.8" font-size="6.1">0</text>
<!-- panel d -->
<text x="-1.3" y="410.4" font-size="13" class="b">d</text>
<rect x="44.4" y="423.90000000000003" width="623.4" height="109.3" fill="#fff"/>
<rect x="44.4" y="426.6" width="50.2" height="103.7" fill="url(#gp)"/>
<rect x="94.6" y="426.6" width="49.0" height="103.7" fill="url(#gg)"/>
<rect x="143.6" y="426.6" width="39.9" height="103.7" fill="url(#gy)"/>
<rect x="183.4" y="426.6" width="38.5" height="103.7" fill="url(#gp)"/>
<rect x="221.9" y="426.6" width="36.4" height="103.7" fill="url(#gg)"/>
<rect x="258.4" y="426.6" width="34.5" height="103.7" fill="url(#gy)"/>
<rect x="292.8" y="426.6" width="32.0" height="103.7" fill="url(#gp)"/>
<rect x="324.9" y="426.6" width="29.5" height="103.7" fill="url(#gg)"/>
<rect x="354.4" y="426.6" width="28.4" height="103.7" fill="url(#gy)"/>
<rect x="382.8" y="426.6" width="27.3" height="103.7" fill="url(#gp)"/>
<rect x="410.1" y="426.6" width="27.2" height="103.7" fill="url(#gg)"/>
<rect x="437.3" y="426.6" width="27.0" height="103.7" fill="url(#gy)"/>
<rect x="464.2" y="426.6" width="23.2" height="103.7" fill="url(#gp)"/>
<rect x="487.4" y="426.6" width="21.6" height="103.7" fill="url(#gg)"/>
<rect x="509.0" y="426.6" width="20.6" height="103.7" fill="url(#gy)"/>
<rect x="529.7" y="426.6" width="18.2" height="103.7" fill="url(#gp)"/>
<rect x="547.9" y="426.6" width="16.4" height="103.7" fill="url(#gg)"/>
<rect x="564.2" y="426.6" width="15.7" height="103.7" fill="url(#gy)"/>
<rect x="580.0" y="426.6" width="11.9" height="103.7" fill="url(#gp)"/>
<rect x="591.9" y="426.6" width="12.7" height="103.7" fill="url(#gg)"/>
<rect x="604.5" y="426.6" width="9.7" height="103.7" fill="url(#gy)"/>
<rect x="614.2" y="426.6" width="10.3" height="103.7" fill="url(#gp)"/>
<rect x="624.6" y="443.9" width="31.3" height="89.3" fill="url(#ggx)"/>
<rect x="657.0" y="454.6" width="4.6" height="66.5" fill="url(#gyy)"/>
<rect x="69.0" y="423.90000000000003" width="5.0" height="109.3" fill="#fff" opacity="0.95"/>
<rect x="362.9" y="423.90000000000003" width="6.4" height="109.3" fill="#fff" opacity="0.95"/>
<rect x="464.2" y="423.90000000000003" width="4.3" height="109.3" fill="#fff" opacity="0.95"/>
<rect x="487.4" y="423.90000000000003" width="4.4" height="109.3" fill="#fff" opacity="0.95"/>
<rect x="509.0" y="423.90000000000003" width="4.5" height="109.3" fill="#fff" opacity="0.95"/>
<rect x="536.0" y="423.90000000000003" width="3.3" height="109.3" fill="#fff" opacity="0.95"/>
<rect x="604.5" y="423.90000000000003" width="3.2" height="109.3" fill="#fff" opacity="0.95"/>
<rect x="614.2" y="423.90000000000003" width="3.6" height="109.3" fill="#fff" opacity="0.95"/>
<rect x="161.7" y="423.90000000000003" width="0.6" height="109.3" fill="#fff" opacity="0.7"/>
<rect x="113.0" y="423.90000000000003" width="0.6" height="109.3" fill="#fff" opacity="0.7"/>
<rect x="304.7" y="423.90000000000003" width="0.5" height="109.3" fill="#fff" opacity="0.7"/>
<rect x="444.3" y="423.90000000000003" width="0.4" height="109.3" fill="#fff" opacity="0.7"/>
<rect x="231.4" y="423.90000000000003" width="0.4" height="109.3" fill="#fff" opacity="0.7"/>
<rect x="390.7" y="423.90000000000003" width="0.4" height="109.3" fill="#fff" opacity="0.7"/>
<rect x="567.2" y="423.90000000000003" width="0.5" height="109.3" fill="#fff" opacity="0.7"/>
<rect x="585.0" y="423.90000000000003" width="1.2" height="109.3" fill="#fff" opacity="0.7"/>
<rect x="597.2" y="423.90000000000003" width="0.5" height="109.3" fill="#fff" opacity="0.7"/>
<rect x="420.4" y="423.90000000000003" width="0.4" height="109.3" fill="#fff" opacity="0.7"/>
<rect x="270.1" y="423.90000000000003" width="0.3" height="109.3" fill="#fff" opacity="0.7"/>
<rect x="333.7" y="423.90000000000003" width="0.3" height="109.3" fill="#fff" opacity="0.7"/>
<line x1="44.4" y1="531.7" x2="667.8" y2="531.7" stroke="#999" stroke-width="0.6" stroke-dasharray="0.8 2.9" opacity="0.7"/>
<line x1="44.4" y1="518.4" x2="667.8" y2="518.4" stroke="#999" stroke-width="0.6" stroke-dasharray="0.8 2.9" opacity="0.7"/>
<line x1="44.4" y1="505.1" x2="667.8" y2="505.1" stroke="#999" stroke-width="0.6" stroke-dasharray="0.8 2.9" opacity="0.7"/>
<line x1="44.4" y1="451.9" x2="667.8" y2="451.9" stroke="#999" stroke-width="0.6" stroke-dasharray="0.8 2.9" opacity="0.7"/>
<line x1="44.4" y1="438.6" x2="667.8" y2="438.6" stroke="#999" stroke-width="0.6" stroke-dasharray="0.8 2.9" opacity="0.7"/>
<line x1="44.4" y1="425.3" x2="667.8" y2="425.3" stroke="#999" stroke-width="0.6" stroke-dasharray="0.8 2.9" opacity="0.7"/>
<line x1="69.0" y1="478.5" x2="74.0" y2="478.5" stroke="#c4c4c4" stroke-width="1.2"/>
<line x1="362.9" y1="478.5" x2="369.3" y2="478.5" stroke="#c4c4c4" stroke-width="1.2"/>
<line x1="464.2" y1="478.5" x2="468.5" y2="478.5" stroke="#c4c4c4" stroke-width="1.2"/>
<line x1="487.4" y1="478.5" x2="491.9" y2="478.5" stroke="#c4c4c4" stroke-width="1.2"/>
<line x1="509.0" y1="478.5" x2="513.6" y2="478.5" stroke="#c4c4c4" stroke-width="1.2"/>
<line x1="536.0" y1="478.5" x2="539.3" y2="478.5" stroke="#c4c4c4" stroke-width="1.2"/>
<line x1="604.5" y1="478.5" x2="607.7" y2="478.5" stroke="#c4c4c4" stroke-width="1.2"/>
<line x1="614.2" y1="478.5" x2="617.8" y2="478.5" stroke="#c4c4c4" stroke-width="1.2"/>
<line x1="661.6" y1="478.5" x2="667.8" y2="478.5" stroke="#c4c4c4" stroke-width="1.2"/>
<line x1="94.6" y1="423.90000000000003" x2="94.6" y2="533.2" stroke="#b4b4b4" stroke-width="0.7"/>
<line x1="143.6" y1="423.90000000000003" x2="143.6" y2="533.2" stroke="#b4b4b4" stroke-width="0.7"/>
<line x1="183.4" y1="423.90000000000003" x2="183.4" y2="533.2" stroke="#b4b4b4" stroke-width="0.7"/>
<line x1="221.9" y1="423.90000000000003" x2="221.9" y2="533.2" stroke="#b4b4b4" stroke-width="0.7"/>
<line x1="258.4" y1="423.90000000000003" x2="258.4" y2="533.2" stroke="#b4b4b4" stroke-width="0.7"/>
<line x1="292.8" y1="423.90000000000003" x2="292.8" y2="533.2" stroke="#b4b4b4" stroke-width="0.7"/>
<line x1="324.9" y1="423.90000000000003" x2="324.9" y2="533.2" stroke="#b4b4b4" stroke-width="0.7"/>
<line x1="354.4" y1="423.90000000000003" x2="354.4" y2="533.2" stroke="#b4b4b4" stroke-width="0.7"/>
<line x1="382.8" y1="423.90000000000003" x2="382.8" y2="533.2" stroke="#b4b4b4" stroke-width="0.7"/>
<line x1="410.1" y1="423.90000000000003" x2="410.1" y2="533.2" stroke="#b4b4b4" stroke-width="0.7"/>
<line x1="437.3" y1="423.90000000000003" x2="437.3" y2="533.2" stroke="#b4b4b4" stroke-width="0.7"/>
<line x1="464.2" y1="423.90000000000003" x2="464.2" y2="533.2" stroke="#b4b4b4" stroke-width="0.7"/>
<line x1="487.4" y1="423.90000000000003" x2="487.4" y2="533.2" stroke="#b4b4b4" stroke-width="0.7"/>
<line x1="509.0" y1="423.90000000000003" x2="509.0" y2="533.2" stroke="#b4b4b4" stroke-width="0.7"/>
<line x1="529.7" y1="423.90000000000003" x2="529.7" y2="533.2" stroke="#b4b4b4" stroke-width="0.7"/>
<line x1="547.9" y1="423.90000000000003" x2="547.9" y2="533.2" stroke="#b4b4b4" stroke-width="0.7"/>
<line x1="564.2" y1="423.90000000000003" x2="564.2" y2="533.2" stroke="#b4b4b4" stroke-width="0.7"/>
<line x1="580.0" y1="423.90000000000003" x2="580.0" y2="533.2" stroke="#b4b4b4" stroke-width="0.7"/>
<line x1="591.9" y1="423.90000000000003" x2="591.9" y2="533.2" stroke="#b4b4b4" stroke-width="0.7"/>
<line x1="604.5" y1="423.90000000000003" x2="604.5" y2="533.2" stroke="#b4b4b4" stroke-width="0.7"/>
<line x1="614.2" y1="423.90000000000003" x2="614.2" y2="533.2" stroke="#b4b4b4" stroke-width="0.7"/>
<line x1="624.6" y1="423.90000000000003" x2="624.6" y2="533.2" stroke="#b4b4b4" stroke-width="0.7"/>
<line x1="655.8" y1="423.90000000000003" x2="655.8" y2="533.2" stroke="#b4b4b4" stroke-width="0.7"/>
<rect x="44.4" y="423.90000000000003" width="623.4" height="109.3" fill="none" stroke="#c8c8c8" stroke-width="0.8"/>
<path d="M44.7 470.7 L45.2 473.8 L45.7 474.8 L46.2 473.3 L46.7 472.8 L47.2 473.2 L47.7 474.4 L48.2 473.6 L48.7 474.8 L49.2 474.1 L49.7 473.2 L50.2 472.7 L50.7 474.9 L51.2 469.7 L51.7 470.7 L52.2 474.6 L52.7 474.3 L53.2 474.3 L53.7 473.7 L54.2 471.8 L54.7 473.2 L55.2 474.4 L55.7 473.6 L56.2 474.9 L56.7 474.5 L57.2 475.7 L57.7 473.6 L58.2 475.4 L58.7 475.0 L59.2 473.0 L59.7 475.7 L60.2 471.9 L60.7 474.8 L61.2 476.0 L61.7 475.4 L62.2 474.7 L62.7 472.8 L63.2 472.7 L63.7 475.4 L64.2 470.4 L64.7 474.2 L65.2 471.9 L65.7 471.6 L66.2 473.0 L66.7 473.2 L67.2 468.7 L67.7 474.5 L68.2 474.6 L68.7 473.3 L68.7 481.4 L68.2 480.4 L67.7 479.6 L67.2 484.3 L66.7 483.0 L66.2 479.8 L65.7 479.1 L65.2 480.0 L64.7 481.1 L64.2 489.0 L63.7 483.2 L63.2 479.8 L62.7 480.0 L62.2 482.0 L61.7 481.1 L61.2 481.2 L60.7 480.8 L60.2 481.6 L59.7 481.1 L59.2 483.1 L58.7 481.0 L58.2 481.5 L57.7 479.9 L57.2 480.7 L56.7 480.9 L56.2 483.8 L55.7 480.0 L55.2 481.6 L54.7 481.6 L54.2 481.7 L53.7 482.0 L53.2 479.9 L52.7 482.6 L52.2 484.5 L51.7 480.4 L51.2 481.4 L50.7 484.4 L50.2 480.9 L49.7 480.9 L49.2 482.0 L48.7 479.5 L48.2 479.8 L47.7 481.4 L47.2 480.3 L46.7 480.1 L46.2 480.5 L45.7 479.4 L45.2 479.5 L44.7 478.5Z" fill="#0808ee" stroke="#0808ee" stroke-width="0.35" stroke-linejoin="round"/>
<path d="M74.3 474.1 L74.8 469.4 L75.3 473.9 L75.8 472.8 L76.3 475.2 L76.8 475.0 L77.3 474.9 L77.8 475.1 L78.3 473.0 L78.8 475.5 L79.3 472.2 L79.8 471.1 L80.3 473.8 L80.8 474.4 L81.3 469.4 L81.8 474.3 L82.3 474.5 L82.8 474.5 L83.3 473.6 L83.8 473.4 L84.3 472.4 L84.8 474.7 L85.3 472.8 L85.8 473.5 L86.3 473.6 L86.8 473.2 L87.3 471.5 L87.8 468.9 L88.3 473.7 L88.8 474.9 L89.3 473.2 L89.8 475.0 L90.3 474.8 L90.8 473.9 L91.3 473.7 L91.8 472.2 L92.3 472.3 L92.8 475.3 L93.3 471.9 L93.8 473.6 L94.3 475.4 L94.8 474.3 L95.3 471.9 L95.8 473.8 L96.3 471.7 L96.8 467.0 L97.3 471.5 L97.8 474.8 L98.3 475.3 L98.8 475.8 L99.3 474.5 L99.8 474.3 L100.3 475.8 L100.8 474.7 L101.3 474.6 L101.8 474.5 L102.3 473.4 L102.8 474.3 L103.3 475.0 L103.8 475.0 L104.3 473.0 L104.8 475.4 L105.3 475.0 L105.8 472.6 L106.3 473.8 L106.8 474.7 L107.3 473.6 L107.8 473.9 L108.3 473.5 L108.8 474.4 L109.3 473.1 L109.8 472.1 L110.3 473.0 L110.8 473.6 L111.3 476.0 L111.8 475.9 L112.3 476.3 L112.8 475.5 L113.3 475.8 L113.8 470.9 L114.3 471.7 L114.8 469.5 L115.3 476.0 L115.8 472.7 L116.3 475.3 L116.8 476.1 L117.3 472.4 L117.8 468.8 L118.3 471.9 L118.8 471.9 L119.3 473.9 L119.8 474.0 L120.3 474.6 L120.8 473.1 L121.3 474.0 L121.8 474.4 L122.3 474.2 L122.8 475.9 L123.3 474.3 L123.8 473.6 L124.3 474.1 L124.8 474.3 L125.3 475.2 L125.8 474.9 L126.3 474.4 L126.8 475.5 L127.3 473.1 L127.8 474.1 L128.3 472.4 L128.8 472.7 L129.3 475.7 L129.8 476.1 L130.3 473.3 L130.8 474.7 L131.3 474.8 L131.8 475.3 L132.3 475.5 L132.8 475.8 L133.3 475.0 L133.8 471.5 L134.3 473.2 L134.8 473.9 L135.3 472.4 L135.8 472.2 L136.3 474.5 L136.8 473.9 L137.3 474.2 L137.8 473.5 L138.3 473.6 L138.8 472.8 L139.3 473.4 L139.8 473.3 L140.3 473.0 L140.8 472.9 L141.3 473.3 L141.8 469.9 L142.3 471.9 L142.8 471.4 L143.3 471.5 L143.8 474.8 L144.3 475.2 L144.8 474.6 L145.3 473.6 L145.8 473.9 L146.3 474.9 L146.8 474.0 L147.3 474.9 L147.8 474.7 L148.3 473.8 L148.8 474.5 L149.3 472.3 L149.8 468.9 L150.3 475.4 L150.8 474.2 L151.3 474.3 L151.8 475.1 L152.3 474.8 L152.8 473.8 L153.3 475.7 L153.8 476.2 L154.3 474.7 L154.8 474.1 L155.3 474.1 L155.8 473.6 L156.3 475.2 L156.8 475.9 L157.3 471.8 L157.8 469.3 L158.3 473.5 L158.8 474.0 L159.3 474.3 L159.8 474.1 L160.3 474.8 L160.8 475.2 L161.3 470.0 L161.8 476.5 L162.3 473.4 L162.8 473.2 L163.3 475.1 L163.8 475.4 L164.3 473.4 L164.8 476.2 L165.3 473.9 L165.8 474.2 L166.3 475.0 L166.8 473.5 L167.3 474.1 L167.8 470.0 L168.3 469.7 L168.8 474.4 L169.3 472.0 L169.8 473.5 L170.3 473.6 L170.8 473.8 L171.3 474.5 L171.8 474.3 L172.3 473.4 L172.8 472.7 L173.3 469.5 L173.8 469.8 L174.3 471.3 L174.8 474.3 L175.3 474.7 L175.8 476.1 L176.3 474.9 L176.8 474.4 L177.3 477.0 L177.8 473.9 L178.3 470.8 L178.8 471.6 L179.3 474.4 L179.8 474.5 L180.3 473.8 L180.8 473.5 L181.3 475.2 L181.8 473.9 L182.3 473.1 L182.8 473.9 L183.3 473.0 L183.8 474.0 L184.3 475.5 L184.8 474.8 L185.3 473.8 L185.8 469.3 L186.3 474.2 L186.8 474.4 L187.3 474.8 L187.8 474.7 L188.3 474.1 L188.8 474.0 L189.3 474.1 L189.8 470.4 L190.3 473.4 L190.8 474.0 L191.3 475.3 L191.8 475.9 L192.3 475.7 L192.8 475.3 L193.3 476.7 L193.8 476.5 L194.3 475.3 L194.8 474.8 L195.3 475.0 L195.8 473.7 L196.3 474.9 L196.8 474.8 L197.3 474.7 L197.8 474.6 L198.3 474.0 L198.8 473.9 L199.3 473.1 L199.8 467.4 L200.3 471.9 L200.8 472.8 L201.3 473.4 L201.8 473.1 L202.3 473.8 L202.8 474.5 L203.3 473.6 L203.8 468.6 L204.3 474.9 L204.8 471.8 L205.3 474.2 L205.8 475.4 L206.3 474.7 L206.8 476.2 L207.3 473.3 L207.8 476.5 L208.3 475.0 L208.8 475.8 L209.3 475.0 L209.8 472.8 L210.3 474.7 L210.8 472.0 L211.3 474.1 L211.8 474.1 L212.3 473.8 L212.8 475.4 L213.3 473.7 L213.8 474.5 L214.3 473.4 L214.8 470.4 L215.3 474.7 L215.8 471.8 L216.3 473.6 L216.8 473.9 L217.3 474.1 L217.8 474.0 L218.3 471.8 L218.8 473.7 L219.3 474.3 L219.8 469.8 L220.3 476.1 L220.8 474.7 L221.3 473.9 L221.8 475.7 L222.3 475.0 L222.8 474.2 L223.3 473.5 L223.8 472.8 L224.3 473.9 L224.8 473.3 L225.3 472.6 L225.8 473.4 L226.3 471.7 L226.8 472.4 L227.3 473.6 L227.8 472.1 L228.3 472.6 L228.8 472.1 L229.3 472.1 L229.8 471.5 L230.3 471.5 L230.8 471.6 L231.3 474.0 L231.8 469.6 L232.3 474.2 L232.8 471.3 L233.3 474.9 L233.8 475.0 L234.3 475.1 L234.8 473.6 L235.3 474.7 L235.8 477.1 L236.3 473.3 L236.8 474.5 L237.3 474.9 L237.8 476.7 L238.3 475.5 L238.8 473.7 L239.3 475.5 L239.8 476.7 L240.3 472.0 L240.8 472.0 L241.3 476.4 L241.8 470.9 L242.3 475.6 L242.8 474.3 L243.3 473.4 L243.8 474.9 L244.3 471.6 L244.8 475.7 L245.3 474.2 L245.8 473.8 L246.3 474.2 L246.8 475.1 L247.3 473.4 L247.8 476.1 L248.3 474.7 L248.8 475.2 L249.3 473.4 L249.8 473.8 L250.3 468.3 L250.8 474.9 L251.3 475.4 L251.8 473.8 L252.3 472.9 L252.8 471.8 L253.3 469.7 L253.8 472.7 L254.3 472.2 L254.8 474.7 L255.3 471.2 L255.8 472.5 L256.3 475.9 L256.8 474.7 L257.3 475.5 L257.8 475.0 L258.3 475.4 L258.8 470.5 L259.3 476.4 L259.8 476.6 L260.3 473.1 L260.8 476.3 L261.3 476.4 L261.8 474.5 L262.3 474.8 L262.8 472.9 L263.3 473.9 L263.8 472.8 L264.3 471.7 L264.8 472.5 L265.3 474.9 L265.8 473.4 L266.3 469.9 L266.8 474.6 L267.3 475.6 L267.8 475.9 L268.3 474.5 L268.8 473.7 L269.3 473.7 L269.8 473.6 L270.3 474.6 L270.8 472.1 L271.3 469.3 L271.8 475.5 L272.3 474.1 L272.8 474.1 L273.3 471.3 L273.8 474.7 L274.3 471.6 L274.8 474.7 L275.3 473.9 L275.8 466.9 L276.3 473.9 L276.8 473.5 L277.3 473.4 L277.8 474.4 L278.3 472.5 L278.8 470.9 L279.3 474.5 L279.8 470.6 L280.3 474.3 L280.8 470.5 L281.3 474.3 L281.8 474.2 L282.3 472.7 L282.8 472.0 L283.3 474.1 L283.8 472.8 L284.3 474.3 L284.8 472.3 L285.3 473.7 L285.8 475.8 L286.3 476.3 L286.8 474.6 L287.3 476.3 L287.8 473.3 L288.3 474.4 L288.8 474.7 L289.3 474.2 L289.8 475.0 L290.3 474.6 L290.8 474.5 L291.3 474.9 L291.8 475.5 L292.3 475.1 L292.8 473.6 L293.3 475.9 L293.8 472.9 L294.3 476.1 L294.8 474.4 L295.3 476.3 L295.8 476.4 L296.3 474.4 L296.8 475.8 L297.3 474.4 L297.8 474.5 L298.3 475.2 L298.8 469.7 L299.3 473.9 L299.8 474.0 L300.3 474.3 L300.8 474.3 L301.3 473.3 L301.8 474.0 L302.3 470.4 L302.8 469.8 L303.3 469.8 L303.8 472.9 L304.3 472.8 L304.8 473.2 L305.3 472.3 L305.8 472.9 L306.3 472.3 L306.8 468.8 L307.3 473.5 L307.8 473.8 L308.3 471.7 L308.8 472.1 L309.3 472.6 L309.8 460.6 L310.3 469.7 L310.8 471.0 L311.3 475.2 L311.8 475.6 L312.3 476.2 L312.8 471.2 L313.3 476.1 L313.8 473.2 L314.3 472.1 L314.8 471.3 L315.3 474.4 L315.8 473.7 L316.3 473.1 L316.8 475.1 L317.3 475.4 L317.8 475.6 L318.3 474.6 L318.8 474.3 L319.3 474.0 L319.8 474.6 L320.3 474.1 L320.8 466.7 L321.3 474.0 L321.8 470.8 L322.3 468.4 L322.8 472.7 L323.3 471.0 L323.8 473.8 L324.3 472.8 L324.8 470.8 L325.3 475.2 L325.8 475.0 L326.3 473.4 L326.8 473.9 L327.3 474.3 L327.8 473.6 L328.3 475.4 L328.8 475.9 L329.3 475.0 L329.8 475.1 L330.3 475.5 L330.8 473.8 L331.3 474.6 L331.8 475.7 L332.3 474.7 L332.8 473.1 L333.3 475.4 L333.8 475.3 L334.3 474.5 L334.8 470.6 L335.3 472.1 L335.8 475.1 L336.3 472.0 L336.8 472.1 L337.3 471.9 L337.8 474.4 L338.3 471.1 L338.8 474.5 L339.3 470.7 L339.8 472.3 L340.3 473.9 L340.8 473.7 L341.3 474.7 L341.8 472.7 L342.3 472.4 L342.8 470.7 L343.3 474.0 L343.8 474.1 L344.3 474.0 L344.8 469.8 L345.3 472.9 L345.8 471.0 L346.3 473.5 L346.8 473.8 L347.3 470.7 L347.8 474.7 L348.3 474.2 L348.8 470.9 L349.3 473.8 L349.8 471.9 L350.3 471.2 L350.8 472.6 L351.3 473.2 L351.8 473.2 L352.3 471.6 L352.8 474.5 L353.3 475.5 L353.8 474.3 L354.3 475.8 L354.8 476.2 L355.3 475.1 L355.8 472.7 L356.3 466.4 L356.8 472.4 L357.3 473.0 L357.8 475.2 L358.3 468.1 L358.8 472.9 L359.3 469.1 L359.8 473.0 L360.3 473.0 L360.8 473.0 L361.3 471.6 L361.8 474.2 L362.3 472.9 L362.3 480.9 L361.8 482.0 L361.3 479.7 L360.8 484.5 L360.3 480.2 L359.8 482.0 L359.3 480.1 L358.8 483.9 L358.3 483.3 L357.8 482.8 L357.3 480.1 L356.8 479.5 L356.3 479.8 L355.8 479.8 L355.3 483.3 L354.8 481.3 L354.3 480.6 L353.8 482.9 L353.3 482.4 L352.8 480.6 L352.3 480.1 L351.8 479.8 L351.3 478.5 L350.8 478.3 L350.3 478.3 L349.8 479.2 L349.3 478.8 L348.8 480.6 L348.3 481.9 L347.8 479.7 L347.3 479.2 L346.8 480.7 L346.3 480.5 L345.8 479.9 L345.3 482.2 L344.8 479.3 L344.3 481.9 L343.8 480.5 L343.3 481.2 L342.8 481.7 L342.3 480.9 L341.8 480.0 L341.3 483.2 L340.8 478.8 L340.3 479.9 L339.8 479.8 L339.3 479.1 L338.8 480.5 L338.3 480.5 L337.8 484.6 L337.3 478.8 L336.8 478.9 L336.3 482.7 L335.8 480.1 L335.3 482.9 L334.8 482.2 L334.3 480.1 L333.8 483.1 L333.3 481.5 L332.8 483.4 L332.3 481.6 L331.8 481.3 L331.3 482.4 L330.8 480.4 L330.3 480.5 L329.8 481.3 L329.3 480.3 L328.8 484.4 L328.3 490.4 L327.8 479.8 L327.3 484.3 L326.8 479.9 L326.3 482.0 L325.8 481.1 L325.3 481.5 L324.8 479.9 L324.3 480.4 L323.8 478.8 L323.3 480.0 L322.8 478.3 L322.3 479.1 L321.8 477.4 L321.3 479.6 L320.8 484.2 L320.3 482.8 L319.8 482.3 L319.3 479.1 L318.8 479.4 L318.3 482.7 L317.8 480.5 L317.3 483.0 L316.8 481.4 L316.3 478.9 L315.8 480.1 L315.3 481.7 L314.8 478.7 L314.3 478.8 L313.8 479.7 L313.3 480.7 L312.8 481.8 L312.3 482.2 L311.8 480.6 L311.3 482.0 L310.8 487.3 L310.3 479.9 L309.8 478.6 L309.3 479.4 L308.8 479.7 L308.3 479.6 L307.8 480.8 L307.3 478.4 L306.8 480.4 L306.3 479.9 L305.8 477.5 L305.3 479.1 L304.8 478.3 L304.3 479.4 L303.8 478.6 L303.3 478.5 L302.8 478.3 L302.3 480.7 L301.8 478.7 L301.3 480.5 L300.8 479.6 L300.3 482.1 L299.8 481.3 L299.3 479.9 L298.8 481.7 L298.3 480.3 L297.8 480.3 L297.3 479.7 L296.8 483.7 L296.3 481.1 L295.8 482.0 L295.3 481.3 L294.8 483.8 L294.3 482.4 L293.8 481.0 L293.3 482.9 L292.8 481.6 L292.3 480.2 L291.8 483.6 L291.3 481.1 L290.8 483.8 L290.3 479.6 L289.8 480.0 L289.3 481.0 L288.8 479.3 L288.3 480.0 L287.8 480.8 L287.3 483.7 L286.8 482.3 L286.3 483.9 L285.8 484.0 L285.3 480.5 L284.8 482.4 L284.3 479.5 L283.8 480.1 L283.3 479.5 L282.8 479.1 L282.3 478.9 L281.8 479.7 L281.3 480.3 L280.8 478.9 L280.3 480.4 L279.8 483.0 L279.3 480.7 L278.8 480.8 L278.3 479.1 L277.8 479.2 L277.3 478.7 L276.8 483.2 L276.3 480.1 L275.8 479.5 L275.3 480.7 L274.8 479.4 L274.3 481.0 L273.8 480.3 L273.3 480.9 L272.8 480.5 L272.3 482.9 L271.8 484.7 L271.3 481.9 L270.8 479.4 L270.3 480.0 L269.8 482.3 L269.3 481.4 L268.8 481.8 L268.3 480.9 L267.8 481.0 L267.3 484.4 L266.8 487.5 L266.3 481.1 L265.8 480.3 L265.3 481.6 L264.8 479.3 L264.3 479.5 L263.8 479.0 L263.3 481.8 L262.8 486.6 L262.3 481.3 L261.8 480.1 L261.3 481.2 L260.8 483.6 L260.3 480.5 L259.8 481.7 L259.3 481.0 L258.8 482.9 L258.3 481.2 L257.8 481.5 L257.3 480.1 L256.8 480.7 L256.3 481.9 L255.8 479.8 L255.3 479.6 L254.8 480.6 L254.3 479.1 L253.8 481.8 L253.3 478.4 L252.8 478.5 L252.3 480.5 L251.8 479.6 L251.3 480.8 L250.8 482.8 L250.3 483.7 L249.8 478.8 L249.3 480.6 L248.8 480.1 L248.3 480.3 L247.8 481.1 L247.3 481.4 L246.8 480.2 L246.3 482.5 L245.8 479.5 L245.3 480.4 L244.8 482.3 L244.3 480.8 L243.8 484.0 L243.3 482.8 L242.8 480.8 L242.3 480.3 L241.8 481.9 L241.3 481.5 L240.8 480.0 L240.3 480.9 L239.8 481.6 L239.3 481.1 L238.8 485.1 L238.3 482.1 L237.8 482.7 L237.3 481.8 L236.8 482.2 L236.3 481.8 L235.8 484.4 L235.3 480.5 L234.8 479.8 L234.3 481.2 L233.8 480.3 L233.3 481.0 L232.8 481.5 L232.3 480.9 L231.8 480.4 L231.3 481.0 L230.8 478.0 L230.3 476.9 L229.8 476.9 L229.3 477.6 L228.8 479.5 L228.3 479.9 L227.8 480.5 L227.3 479.0 L226.8 480.5 L226.3 480.0 L225.8 479.2 L225.3 477.7 L224.8 480.8 L224.3 479.2 L223.8 479.7 L223.3 481.1 L222.8 482.2 L222.3 480.4 L221.8 480.7 L221.3 480.1 L220.8 480.8 L220.3 483.4 L219.8 480.0 L219.3 481.4 L218.8 483.5 L218.3 481.1 L217.8 479.7 L217.3 479.9 L216.8 479.1 L216.3 479.4 L215.8 481.5 L215.3 480.2 L214.8 481.3 L214.3 485.6 L213.8 479.8 L213.3 479.0 L212.8 481.4 L212.3 480.4 L211.8 481.6 L211.3 482.6 L210.8 484.2 L210.3 480.4 L209.8 479.8 L209.3 483.2 L208.8 482.7 L208.3 486.7 L207.8 481.9 L207.3 481.5 L206.8 481.4 L206.3 481.3 L205.8 480.1 L205.3 479.5 L204.8 479.4 L204.3 480.2 L203.8 480.0 L203.3 479.5 L202.8 482.0 L202.3 479.3 L201.8 480.3 L201.3 478.9 L200.8 479.6 L200.3 478.9 L199.8 477.9 L199.3 478.8 L198.8 486.8 L198.3 479.7 L197.8 480.2 L197.3 480.6 L196.8 479.4 L196.3 484.5 L195.8 480.5 L195.3 480.9 L194.8 481.0 L194.3 481.3 L193.8 484.9 L193.3 482.6 L192.8 481.8 L192.3 483.0 L191.8 481.0 L191.3 482.3 L190.8 480.9 L190.3 479.4 L189.8 478.9 L189.3 481.5 L188.8 480.6 L188.3 481.8 L187.8 480.3 L187.3 484.3 L186.8 479.6 L186.3 479.5 L185.8 481.9 L185.3 478.8 L184.8 481.4 L184.3 481.7 L183.8 480.2 L183.3 485.6 L182.8 486.5 L182.3 481.8 L181.8 479.5 L181.3 481.2 L180.8 480.0 L180.3 481.0 L179.8 480.1 L179.3 480.2 L178.8 479.8 L178.3 482.0 L177.8 479.9 L177.3 485.7 L176.8 484.6 L176.3 484.6 L175.8 480.6 L175.3 481.0 L174.8 480.2 L174.3 480.1 L173.8 480.1 L173.3 480.3 L172.8 478.1 L172.3 479.7 L171.8 479.1 L171.3 481.0 L170.8 481.3 L170.3 480.3 L169.8 479.2 L169.3 479.4 L168.8 479.9 L168.3 480.1 L167.8 481.6 L167.3 481.8 L166.8 488.1 L166.3 481.2 L165.8 480.4 L165.3 481.1 L164.8 482.9 L164.3 481.7 L163.8 481.7 L163.3 483.0 L162.8 480.6 L162.3 482.1 L161.8 483.1 L161.3 484.6 L160.8 479.8 L160.3 480.8 L159.8 480.1 L159.3 480.7 L158.8 479.4 L158.3 479.5 L157.8 480.3 L157.3 481.0 L156.8 481.7 L156.3 480.1 L155.8 480.7 L155.3 481.8 L154.8 482.4 L154.3 482.8 L153.8 480.8 L153.3 481.1 L152.8 481.0 L152.3 481.8 L151.8 480.2 L151.3 480.4 L150.8 480.4 L150.3 482.2 L149.8 480.7 L149.3 479.5 L148.8 479.4 L148.3 479.8 L147.8 479.7 L147.3 481.0 L146.8 480.8 L146.3 480.5 L145.8 481.8 L145.3 479.8 L144.8 481.0 L144.3 479.8 L143.8 482.5 L143.3 481.8 L142.8 479.0 L142.3 478.5 L141.8 478.2 L141.3 478.8 L140.8 481.2 L140.3 478.4 L139.8 480.3 L139.3 481.3 L138.8 485.4 L138.3 479.3 L137.8 479.6 L137.3 479.3 L136.8 479.6 L136.3 479.4 L135.8 479.1 L135.3 478.9 L134.8 482.0 L134.3 481.5 L133.8 480.5 L133.3 480.8 L132.8 480.9 L132.3 480.3 L131.8 482.0 L131.3 482.7 L130.8 480.7 L130.3 479.3 L129.8 483.2 L129.3 481.6 L128.8 480.7 L128.3 481.3 L127.8 482.1 L127.3 482.1 L126.8 480.4 L126.3 481.4 L125.8 479.8 L125.3 483.7 L124.8 479.4 L124.3 479.8 L123.8 481.6 L123.3 482.6 L122.8 481.1 L122.3 480.4 L121.8 488.6 L121.3 480.0 L120.8 480.1 L120.3 480.0 L119.8 480.1 L119.3 479.6 L118.8 479.2 L118.3 480.7 L117.8 481.9 L117.3 480.6 L116.8 481.4 L116.3 482.2 L115.8 481.9 L115.3 481.7 L114.8 479.4 L114.3 481.0 L113.8 479.6 L113.3 482.4 L112.8 480.7 L112.3 481.7 L111.8 480.8 L111.3 483.2 L110.8 480.6 L110.3 481.7 L109.8 479.9 L109.3 483.7 L108.8 480.0 L108.3 479.5 L107.8 481.6 L107.3 478.6 L106.8 479.5 L106.3 480.4 L105.8 479.0 L105.3 480.5 L104.8 480.2 L104.3 480.3 L103.8 484.5 L103.3 482.3 L102.8 480.1 L102.3 479.2 L101.8 480.7 L101.3 484.2 L100.8 481.6 L100.3 483.2 L99.8 483.8 L99.3 481.9 L98.8 481.0 L98.3 480.0 L97.8 479.9 L97.3 479.7 L96.8 482.6 L96.3 479.1 L95.8 481.9 L95.3 479.5 L94.8 482.8 L94.3 480.0 L93.8 481.1 L93.3 482.1 L92.8 480.3 L92.3 480.2 L91.8 480.4 L91.3 480.3 L90.8 481.2 L90.3 482.1 L89.8 483.0 L89.3 479.8 L88.8 480.5 L88.3 481.6 L87.8 481.3 L87.3 479.7 L86.8 481.3 L86.3 480.3 L85.8 479.7 L85.3 479.7 L84.8 482.8 L84.3 480.9 L83.8 480.7 L83.3 481.2 L82.8 487.2 L82.3 481.0 L81.8 483.0 L81.3 479.7 L80.8 479.0 L80.3 479.9 L79.8 479.1 L79.3 479.4 L78.8 480.8 L78.3 480.7 L77.8 481.1 L77.3 481.6 L76.8 480.1 L76.3 480.3 L75.8 480.5 L75.3 483.0 L74.8 479.9 L74.3 480.5Z" fill="#0808ee" stroke="#0808ee" stroke-width="0.35" stroke-linejoin="round"/>
<path d="M369.6 474.6 L370.1 469.4 L370.6 466.9 L371.1 474.5 L371.6 475.6 L372.1 474.9 L372.6 476.0 L373.1 476.2 L373.6 474.7 L374.1 473.2 L374.6 471.6 L375.1 472.3 L375.6 474.8 L376.1 472.9 L376.6 473.7 L377.1 473.8 L377.6 469.6 L378.1 472.1 L378.6 474.9 L379.1 474.6 L379.6 474.6 L380.1 474.2 L380.6 469.6 L381.1 469.7 L381.6 472.8 L382.1 473.5 L382.6 474.4 L383.1 468.9 L383.6 472.3 L384.1 475.4 L384.6 474.7 L385.1 473.6 L385.6 475.1 L386.1 475.9 L386.6 474.5 L387.1 474.6 L387.6 474.7 L388.1 473.8 L388.6 475.5 L389.1 473.1 L389.6 474.0 L390.1 475.2 L390.6 472.9 L391.1 474.0 L391.6 473.9 L392.1 473.4 L392.6 473.6 L393.1 473.7 L393.6 474.5 L394.1 472.2 L394.6 474.4 L395.1 473.8 L395.6 475.6 L396.1 475.7 L396.6 476.5 L397.1 474.8 L397.6 474.7 L398.1 473.1 L398.6 475.4 L399.1 474.9 L399.6 471.0 L400.1 474.7 L400.6 474.8 L401.1 468.7 L401.6 474.2 L402.1 472.9 L402.6 473.0 L403.1 469.3 L403.6 473.2 L404.1 475.0 L404.6 473.6 L405.1 474.0 L405.6 470.5 L406.1 473.1 L406.6 471.4 L407.1 473.8 L407.6 474.8 L408.1 475.8 L408.6 473.2 L409.1 475.6 L409.6 471.8 L410.1 476.1 L410.6 473.2 L411.1 471.5 L411.6 473.8 L412.1 471.3 L412.6 472.1 L413.1 473.3 L413.6 473.9 L414.1 471.9 L414.6 475.5 L415.1 474.9 L415.6 476.7 L416.1 476.5 L416.6 476.5 L417.1 474.7 L417.6 473.8 L418.1 476.7 L418.6 475.6 L419.1 476.1 L419.6 475.9 L420.1 476.4 L420.6 474.5 L421.1 476.1 L421.6 475.9 L422.1 474.8 L422.6 473.8 L423.1 473.8 L423.6 474.4 L424.1 469.4 L424.6 474.4 L425.1 473.8 L425.6 470.3 L426.1 474.0 L426.6 468.4 L427.1 474.1 L427.6 472.4 L428.1 470.7 L428.6 472.7 L429.1 472.3 L429.6 472.2 L430.1 471.9 L430.6 472.7 L431.1 473.8 L431.6 473.4 L432.1 472.4 L432.6 474.8 L433.1 470.2 L433.6 468.1 L434.1 475.0 L434.6 474.7 L435.1 470.4 L435.6 474.7 L436.1 472.4 L436.6 473.5 L437.1 473.7 L437.6 474.5 L438.1 475.3 L438.6 474.1 L439.1 476.3 L439.6 476.3 L440.1 477.0 L440.6 474.5 L441.1 476.2 L441.6 467.4 L442.1 474.5 L442.6 475.1 L443.1 476.0 L443.6 477.2 L444.1 476.0 L444.6 475.8 L445.1 468.2 L445.6 475.1 L446.1 474.1 L446.6 473.4 L447.1 474.3 L447.6 473.8 L448.1 473.9 L448.6 474.4 L449.1 473.2 L449.6 473.7 L450.1 474.3 L450.6 474.4 L451.1 474.5 L451.6 474.7 L452.1 475.5 L452.6 475.7 L453.1 474.4 L453.6 474.6 L454.1 473.9 L454.6 474.5 L455.1 475.0 L455.6 475.8 L456.1 473.3 L456.6 475.7 L457.1 475.0 L457.6 476.4 L458.1 474.4 L458.6 474.3 L459.1 475.4 L459.6 468.1 L460.1 475.0 L460.6 470.7 L461.1 471.4 L461.6 475.0 L462.1 474.0 L462.6 474.0 L463.1 474.7 L463.6 473.7 L463.6 479.7 L463.1 482.3 L462.6 480.7 L462.1 482.2 L461.6 482.3 L461.1 480.7 L460.6 480.8 L460.1 482.5 L459.6 480.9 L459.1 480.6 L458.6 484.4 L458.1 482.2 L457.6 482.5 L457.1 480.7 L456.6 483.3 L456.1 480.8 L455.6 482.1 L455.1 482.5 L454.6 481.1 L454.1 480.4 L453.6 479.7 L453.1 481.1 L452.6 480.9 L452.1 481.6 L451.6 480.2 L451.1 484.5 L450.6 480.2 L450.1 482.8 L449.6 479.6 L449.1 483.1 L448.6 484.2 L448.1 480.6 L447.6 490.3 L447.1 480.0 L446.6 480.6 L446.1 480.6 L445.6 480.1 L445.1 480.8 L444.6 484.9 L444.1 482.5 L443.6 482.6 L443.1 482.2 L442.6 481.9 L442.1 481.2 L441.6 484.1 L441.1 482.5 L440.6 485.0 L440.1 481.9 L439.6 482.6 L439.1 481.5 L438.6 481.9 L438.1 481.0 L437.6 483.7 L437.1 483.3 L436.6 480.3 L436.1 480.3 L435.6 479.4 L435.1 479.8 L434.6 480.3 L434.1 482.3 L433.6 484.3 L433.1 482.3 L432.6 480.7 L432.1 481.2 L431.6 479.7 L431.1 478.7 L430.6 479.2 L430.1 478.6 L429.6 481.5 L429.1 478.6 L428.6 478.9 L428.1 478.5 L427.6 478.5 L427.1 478.8 L426.6 479.5 L426.1 479.0 L425.6 478.9 L425.1 478.9 L424.6 479.8 L424.1 479.3 L423.6 480.0 L423.1 480.3 L422.6 480.3 L422.1 480.4 L421.6 483.3 L421.1 483.8 L420.6 481.5 L420.1 481.6 L419.6 481.6 L419.1 481.8 L418.6 481.5 L418.1 482.2 L417.6 482.3 L417.1 482.8 L416.6 481.9 L416.1 482.5 L415.6 482.4 L415.1 480.9 L414.6 481.6 L414.1 479.8 L413.6 479.0 L413.1 480.2 L412.6 478.9 L412.1 478.9 L411.6 483.9 L411.1 488.1 L410.6 482.3 L410.1 480.9 L409.6 480.8 L409.1 481.5 L408.6 481.6 L408.1 480.7 L407.6 483.6 L407.1 480.0 L406.6 482.4 L406.1 480.7 L405.6 482.4 L405.1 480.4 L404.6 479.7 L404.1 483.0 L403.6 481.0 L403.1 479.7 L402.6 480.7 L402.1 481.7 L401.6 479.1 L401.1 479.7 L400.6 482.0 L400.1 480.8 L399.6 480.3 L399.1 480.5 L398.6 480.9 L398.1 481.6 L397.6 480.5 L397.1 484.4 L396.6 481.8 L396.1 481.1 L395.6 481.7 L395.1 479.8 L394.6 479.7 L394.1 481.5 L393.6 479.7 L393.1 484.3 L392.6 480.4 L392.1 479.1 L391.6 480.8 L391.1 479.7 L390.6 479.3 L390.1 480.5 L389.6 481.2 L389.1 483.0 L388.6 480.9 L388.1 481.3 L387.6 479.2 L387.1 479.4 L386.6 482.3 L386.1 481.1 L385.6 480.5 L385.1 481.6 L384.6 482.0 L384.1 481.5 L383.6 479.9 L383.1 480.3 L382.6 479.7 L382.1 480.5 L381.6 479.5 L381.1 479.7 L380.6 479.1 L380.1 479.0 L379.6 481.0 L379.1 480.2 L378.6 483.0 L378.1 480.1 L377.6 479.9 L377.1 479.4 L376.6 479.5 L376.1 479.4 L375.6 481.6 L375.1 481.5 L374.6 483.0 L374.1 479.3 L373.6 480.7 L373.1 482.7 L372.6 486.1 L372.1 481.6 L371.6 481.3 L371.1 480.9 L370.6 480.2 L370.1 480.7 L369.6 482.3Z" fill="#0808ee" stroke="#0808ee" stroke-width="0.35" stroke-linejoin="round"/>
<path d="M468.8 473.7 L469.3 472.7 L469.8 473.8 L470.3 474.9 L470.8 475.5 L471.3 471.9 L471.8 473.1 L472.3 473.0 L472.8 474.9 L473.3 475.6 L473.8 473.9 L474.3 475.4 L474.8 475.8 L475.3 475.3 L475.8 469.9 L476.3 474.8 L476.8 475.2 L477.3 476.1 L477.8 473.5 L478.3 475.0 L478.8 476.5 L479.3 474.9 L479.8 475.3 L480.3 476.3 L480.8 475.8 L481.3 469.2 L481.8 475.8 L482.3 475.8 L482.8 475.1 L483.3 475.0 L483.8 476.9 L484.3 473.2 L484.8 475.7 L485.3 474.9 L485.8 474.3 L486.3 475.9 L486.8 473.8 L486.8 480.6 L486.3 480.4 L485.8 480.4 L485.3 481.9 L484.8 481.2 L484.3 480.8 L483.8 481.9 L483.3 480.9 L482.8 481.6 L482.3 483.2 L481.8 481.9 L481.3 482.5 L480.8 481.7 L480.3 481.5 L479.8 484.5 L479.3 483.7 L478.8 482.3 L478.3 482.4 L477.8 482.2 L477.3 481.6 L476.8 480.4 L476.3 481.6 L475.8 486.5 L475.3 481.1 L474.8 482.3 L474.3 480.4 L473.8 480.4 L473.3 481.5 L472.8 481.6 L472.3 479.3 L471.8 479.1 L471.3 480.5 L470.8 481.6 L470.3 481.5 L469.8 479.6 L469.3 479.9 L468.8 479.3Z" fill="#0808ee" stroke="#0808ee" stroke-width="0.35" stroke-linejoin="round"/>
<path d="M492.2 474.0 L492.7 473.3 L493.2 470.6 L493.7 473.5 L494.2 473.1 L494.7 472.1 L495.2 473.8 L495.7 474.3 L496.2 475.4 L496.7 470.4 L497.2 475.0 L497.7 474.1 L498.2 473.5 L498.7 471.6 L499.2 474.3 L499.7 474.6 L500.2 473.4 L500.7 475.7 L501.2 472.5 L501.7 475.0 L502.2 473.1 L502.7 474.1 L503.2 473.6 L503.7 474.8 L504.2 473.7 L504.7 466.1 L505.2 473.0 L505.7 473.5 L506.2 472.1 L506.7 473.9 L507.2 472.8 L507.7 472.4 L508.2 473.1 L508.7 472.2 L508.7 479.8 L508.2 478.5 L507.7 479.6 L507.2 481.7 L506.7 480.8 L506.2 480.7 L505.7 480.1 L505.2 478.9 L504.7 478.9 L504.2 479.8 L503.7 482.2 L503.2 480.8 L502.7 480.7 L502.2 479.7 L501.7 479.6 L501.2 481.0 L500.7 481.3 L500.2 482.0 L499.7 480.4 L499.2 479.0 L498.7 479.4 L498.2 480.4 L497.7 479.7 L497.2 481.4 L496.7 481.8 L496.2 480.0 L495.7 480.1 L495.2 481.0 L494.7 479.4 L494.2 480.2 L493.7 478.3 L493.2 479.9 L492.7 479.0 L492.2 479.5Z" fill="#0808ee" stroke="#0808ee" stroke-width="0.35" stroke-linejoin="round"/>
<path d="M513.9 472.0 L514.4 474.0 L514.9 474.2 L515.4 474.3 L515.9 473.5 L516.4 469.7 L516.9 473.5 L517.4 474.2 L517.9 474.3 L518.4 474.0 L518.9 473.0 L519.4 474.6 L519.9 468.6 L520.4 474.5 L520.9 473.0 L521.4 470.8 L521.9 472.2 L522.4 474.0 L522.9 472.6 L523.4 473.7 L523.9 473.9 L524.4 474.0 L524.9 475.1 L525.4 474.3 L525.9 475.9 L526.4 473.7 L526.9 473.4 L527.4 473.1 L527.9 475.3 L528.4 474.8 L528.9 473.7 L529.4 474.5 L529.9 473.7 L530.4 472.0 L530.9 473.7 L531.4 471.1 L531.9 474.7 L532.4 468.0 L532.9 472.4 L533.4 465.5 L533.9 471.6 L534.4 469.4 L534.9 471.3 L535.4 473.9 L535.4 479.1 L534.9 479.3 L534.4 477.9 L533.9 478.3 L533.4 478.7 L532.9 477.8 L532.4 479.0 L531.9 481.4 L531.4 480.1 L530.9 483.0 L530.4 480.7 L529.9 481.2 L529.4 479.6 L528.9 478.7 L528.4 479.5 L527.9 480.7 L527.4 480.8 L526.9 479.5 L526.4 480.1 L525.9 480.8 L525.4 481.7 L524.9 480.4 L524.4 480.6 L523.9 480.1 L523.4 485.5 L522.9 480.6 L522.4 481.2 L521.9 480.1 L521.4 480.1 L520.9 482.0 L520.4 479.0 L519.9 480.4 L519.4 479.8 L518.9 478.6 L518.4 479.7 L517.9 479.7 L517.4 480.7 L516.9 479.2 L516.4 479.4 L515.9 481.2 L515.4 480.0 L514.9 480.3 L514.4 481.6 L513.9 480.7Z" fill="#0808ee" stroke="#0808ee" stroke-width="0.35" stroke-linejoin="round"/>
<path d="M539.6 472.7 L540.1 471.4 L540.6 467.3 L541.1 474.2 L541.6 472.5 L542.1 472.3 L542.6 473.8 L543.1 473.1 L543.6 472.5 L544.1 473.2 L544.6 472.6 L545.1 472.9 L545.6 473.4 L546.1 473.8 L546.6 474.6 L547.1 473.2 L547.6 473.7 L548.1 475.2 L548.6 472.1 L549.1 476.0 L549.6 476.0 L550.1 475.5 L550.6 474.9 L551.1 471.3 L551.6 474.8 L552.1 474.8 L552.6 467.7 L553.1 474.0 L553.6 472.9 L554.1 474.0 L554.6 472.7 L555.1 470.7 L555.6 471.5 L556.1 468.7 L556.6 471.2 L557.1 472.3 L557.6 473.7 L558.1 474.5 L558.6 474.4 L559.1 475.8 L559.6 475.6 L560.1 474.4 L560.6 471.7 L561.1 469.4 L561.6 474.5 L562.1 473.7 L562.6 471.6 L563.1 474.4 L563.6 472.6 L564.1 473.7 L564.6 472.4 L565.1 473.6 L565.6 474.9 L566.1 474.9 L566.6 471.4 L567.1 472.8 L567.6 475.3 L568.1 472.4 L568.6 474.0 L569.1 473.4 L569.6 473.6 L570.1 473.9 L570.6 473.9 L571.1 473.5 L571.6 474.2 L572.1 473.0 L572.6 475.0 L573.1 474.4 L573.6 474.9 L574.1 474.9 L574.6 474.1 L575.1 473.5 L575.6 473.9 L576.1 473.2 L576.6 471.7 L577.1 474.3 L577.6 474.8 L578.1 472.4 L578.6 466.8 L579.1 474.5 L579.6 473.7 L580.1 474.3 L580.6 472.1 L581.1 474.3 L581.6 474.8 L582.1 475.1 L582.6 474.9 L583.1 474.7 L583.6 473.6 L584.1 470.7 L584.6 474.1 L585.1 474.9 L585.6 473.0 L586.1 471.9 L586.6 475.2 L587.1 475.1 L587.6 473.4 L588.1 474.7 L588.6 474.0 L589.1 474.4 L589.6 475.0 L590.1 469.9 L590.6 475.2 L591.1 474.1 L591.6 471.1 L592.1 470.1 L592.6 472.1 L593.1 474.5 L593.6 471.4 L594.1 472.6 L594.6 474.9 L595.1 473.8 L595.6 473.0 L596.1 474.9 L596.6 472.4 L597.1 474.1 L597.6 473.9 L598.1 470.2 L598.6 472.4 L599.1 473.8 L599.6 471.7 L600.1 470.6 L600.6 473.3 L601.1 471.7 L601.6 473.6 L602.1 471.5 L602.6 470.5 L603.1 475.6 L603.6 474.4 L604.1 474.4 L604.1 481.6 L603.6 480.4 L603.1 480.4 L602.6 480.5 L602.1 480.9 L601.6 482.4 L601.1 484.2 L600.6 478.1 L600.1 481.0 L599.6 478.7 L599.1 479.7 L598.6 479.5 L598.1 479.5 L597.6 478.7 L597.1 479.5 L596.6 480.8 L596.1 480.1 L595.6 479.6 L595.1 481.6 L594.6 481.0 L594.1 479.3 L593.6 480.3 L593.1 479.7 L592.6 479.6 L592.1 481.2 L591.6 479.6 L591.1 481.4 L590.6 480.6 L590.1 482.6 L589.6 481.6 L589.1 480.3 L588.6 480.9 L588.1 481.6 L587.6 480.0 L587.1 479.8 L586.6 492.8 L586.1 479.4 L585.6 479.4 L585.1 480.6 L584.6 482.5 L584.1 483.1 L583.6 480.3 L583.1 479.2 L582.6 482.1 L582.1 485.4 L581.6 481.1 L581.1 481.7 L580.6 480.3 L580.1 479.3 L579.6 480.7 L579.1 479.6 L578.6 481.8 L578.1 480.3 L577.6 480.2 L577.1 480.3 L576.6 481.4 L576.1 481.7 L575.6 481.1 L575.1 481.1 L574.6 482.9 L574.1 486.7 L573.6 479.9 L573.1 479.7 L572.6 480.0 L572.1 480.9 L571.6 479.3 L571.1 478.7 L570.6 480.1 L570.1 479.5 L569.6 480.1 L569.1 479.9 L568.6 480.3 L568.1 479.4 L567.6 483.7 L567.1 480.4 L566.6 480.9 L566.1 484.1 L565.6 479.8 L565.1 479.4 L564.6 480.1 L564.1 480.5 L563.6 479.5 L563.1 479.7 L562.6 480.3 L562.1 481.0 L561.6 479.4 L561.1 479.5 L560.6 481.4 L560.1 479.6 L559.6 481.9 L559.1 480.7 L558.6 480.9 L558.1 486.7 L557.6 482.3 L557.1 479.2 L556.6 477.3 L556.1 478.5 L555.6 478.1 L555.1 483.1 L554.6 479.2 L554.1 479.4 L553.6 479.6 L553.1 483.4 L552.6 484.8 L552.1 479.8 L551.6 480.1 L551.1 479.6 L550.6 483.5 L550.1 482.7 L549.6 483.5 L549.1 482.0 L548.6 481.0 L548.1 480.8 L547.6 479.0 L547.1 483.1 L546.6 481.3 L546.1 480.1 L545.6 480.9 L545.1 478.3 L544.6 478.8 L544.1 478.2 L543.6 478.5 L543.1 481.5 L542.6 480.1 L542.1 483.7 L541.6 484.7 L541.1 479.6 L540.6 480.2 L540.1 480.9 L539.6 479.5Z" fill="#0808ee" stroke="#0808ee" stroke-width="0.35" stroke-linejoin="round"/>
<path d="M608.0 473.3 L608.5 472.1 L609.0 474.9 L609.5 474.9 L610.0 474.7 L610.5 473.8 L611.0 473.5 L611.5 471.0 L612.0 471.7 L612.5 474.9 L613.0 473.4 L613.5 473.8 L613.5 479.0 L613.0 480.2 L612.5 483.7 L612.0 479.6 L611.5 482.0 L611.0 478.5 L610.5 485.4 L610.0 480.0 L609.5 480.3 L609.0 480.1 L608.5 479.7 L608.0 481.1Z" fill="#0808ee" stroke="#0808ee" stroke-width="0.35" stroke-linejoin="round"/>
<path d="M618.1 472.6 L618.6 471.6 L619.1 474.1 L619.6 474.7 L620.1 475.2 L620.6 468.0 L621.1 474.8 L621.6 475.0 L622.1 472.9 L622.6 472.9 L623.1 472.2 L623.6 473.5 L624.1 474.4 L624.6 473.7 L625.1 470.0 L625.1 480.5 L624.6 480.7 L624.1 480.6 L623.6 480.3 L623.1 479.8 L622.6 479.0 L622.1 480.0 L621.6 481.7 L621.1 482.1 L620.6 480.2 L620.1 480.2 L619.6 485.6 L619.1 480.3 L618.6 480.5 L618.1 479.7Z" fill="#0808ee" stroke="#0808ee" stroke-width="0.35" stroke-linejoin="round"/>
<path d="M625.4 475.8 L625.9 505.1" stroke="#0808ee" stroke-width="1" fill="none"/>
<path d="M625.8 501.1 L626.3 497.9 L626.8 500.9 L627.3 500.6 L627.8 500.1 L628.3 500.2 L628.8 500.0 L629.3 500.3 L629.8 500.9 L630.3 500.0 L630.8 502.6 L631.3 500.3 L631.8 502.9 L632.3 501.9 L632.8 500.6 L633.3 501.5 L633.8 502.9 L634.3 502.0 L634.8 501.3 L635.3 500.7 L635.8 502.4 L636.3 501.5 L636.8 501.9 L637.3 503.7 L637.8 503.4 L638.3 499.7 L638.8 503.5 L639.3 500.8 L639.8 501.8 L640.3 500.8 L640.8 502.0 L641.3 501.1 L641.8 501.1 L642.3 502.1 L642.8 500.7 L643.3 503.3 L643.8 502.5 L644.3 503.0 L644.8 500.7 L645.3 502.0 L645.8 503.2 L646.3 503.3 L646.8 502.8 L647.3 502.7 L647.8 500.8 L648.3 503.7 L648.8 502.1 L649.3 497.2 L649.8 502.1 L650.3 501.5 L650.8 502.3 L651.3 501.3 L651.8 501.7 L652.3 501.8 L652.8 501.5 L653.3 500.2 L653.8 498.0 L654.3 501.1 L654.8 501.2 L655.3 501.6 L655.8 500.9 L656.3 499.5 L656.3 506.0 L655.8 505.0 L655.3 506.0 L654.8 504.6 L654.3 504.7 L653.8 505.1 L653.3 506.4 L652.8 505.5 L652.3 505.2 L651.8 504.7 L651.3 505.8 L650.8 505.2 L650.3 505.3 L649.8 506.6 L649.3 506.2 L648.8 509.9 L648.3 506.7 L647.8 506.8 L647.3 507.5 L646.8 506.6 L646.3 506.9 L645.8 506.2 L645.3 508.7 L644.8 505.9 L644.3 506.9 L643.8 507.6 L643.3 507.0 L642.8 505.7 L642.3 506.6 L641.8 505.0 L641.3 504.8 L640.8 505.1 L640.3 505.1 L639.8 505.1 L639.3 507.3 L638.8 507.2 L638.3 507.6 L637.8 507.2 L637.3 510.1 L636.8 506.7 L636.3 505.6 L635.8 505.7 L635.3 505.6 L634.8 504.6 L634.3 505.5 L633.8 506.6 L633.3 506.1 L632.8 506.3 L632.3 505.8 L631.8 507.2 L631.3 504.9 L630.8 506.1 L630.3 506.1 L629.8 508.9 L629.3 508.0 L628.8 505.5 L628.3 505.5 L627.8 506.8 L627.3 506.9 L626.8 505.5 L626.3 504.7 L625.8 505.2Z" fill="#0808ee" stroke="#0808ee" stroke-width="0.35" stroke-linejoin="round"/>
<path d="M656.3 505.4 L656.8 504.2 L657.3 505.6 L657.8 506.7 L658.3 506.2 L658.8 505.5 L659.3 505.5 L659.8 505.0 L660.3 503.9 L660.8 505.0 L661.3 504.8 L661.3 507.6 L660.8 508.6 L660.3 507.0 L659.8 507.6 L659.3 508.1 L658.8 508.9 L658.3 509.1 L657.8 513.3 L657.3 508.6 L656.8 507.9 L656.3 507.8Z" fill="#0808ee" stroke="#0808ee" stroke-width="0.35" stroke-linejoin="round"/>
<line x1="661.2" y1="508.8" x2="667.3" y2="508.8" stroke="#2a2aee" stroke-width="0.8"/>
<path d="M68.8 479.8 L68.8 485.4 L74.2 485.4 L74.2 479.8" fill="none" stroke="#2a2aee" stroke-width="0.7"/>
<line x1="125.6" y1="478.5" x2="125.6" y2="457.2" stroke="#2a2aee" stroke-width="0.7" opacity="0.8"/>
<line x1="115.8" y1="478.5" x2="115.8" y2="463.9" stroke="#2a2aee" stroke-width="0.7" opacity="0.7"/>
<line x1="529.7" y1="531.2" x2="529.7" y2="443.9" stroke="#2a2aee" stroke-width="0.7" opacity="0.75"/>
<line x1="555.2" y1="478.5" x2="555.2" y2="451.9" stroke="#2a2aee" stroke-width="0.7" opacity="0.75"/>
<line x1="529.8" y1="483.8" x2="529.8" y2="462.5" stroke="#2a2aee" stroke-width="0.7" opacity="1"/>
<line x1="85.0" y1="489.1" x2="85.0" y2="465.2" stroke="#2a2aee" stroke-width="0.7" opacity="0.6"/>
<line x1="477.5" y1="487.8" x2="477.5" y2="466.5" stroke="#2a2aee" stroke-width="0.7" opacity="0.7"/>
<line x1="385.5" y1="478.5" x2="385.5" y2="458.6" stroke="#2a2aee" stroke-width="0.7" opacity="0.6"/>
<line x1="654.8" y1="507.8" x2="654.8" y2="494.5" stroke="#2a2aee" stroke-width="0.7" opacity="0.7"/>
<line x1="452.0" y1="478.5" x2="452.0" y2="465.2" stroke="#2a2aee" stroke-width="0.7" opacity="0.6"/>
<line x1="40.4" y1="531.7" x2="42.8" y2="531.7" stroke="#333" stroke-width="0.7"/>
<text x="37.2" y="534.9" font-size="9" class="e">0.0</text>
<line x1="40.4" y1="518.4" x2="42.8" y2="518.4" stroke="#333" stroke-width="0.7"/>
<text x="37.2" y="521.6" font-size="9" class="e">0.5</text>
<line x1="40.4" y1="505.1" x2="42.8" y2="505.1" stroke="#333" stroke-width="0.7"/>
<text x="37.2" y="508.3" font-size="9" class="e">1.0</text>
<line x1="40.4" y1="491.8" x2="42.8" y2="491.8" stroke="#333" stroke-width="0.7"/>
<text x="37.2" y="495.0" font-size="9" class="e">1.5</text>
<line x1="40.4" y1="478.5" x2="42.8" y2="478.5" stroke="#333" stroke-width="0.7"/>
<text x="37.2" y="481.7" font-size="9" class="e">2.0</text>
<line x1="40.4" y1="465.2" x2="42.8" y2="465.2" stroke="#333" stroke-width="0.7"/>
<text x="37.2" y="468.4" font-size="9" class="e">2.5</text>
<line x1="40.4" y1="451.9" x2="42.8" y2="451.9" stroke="#333" stroke-width="0.7"/>
<text x="37.2" y="455.1" font-size="9" class="e">3.0</text>
<line x1="40.4" y1="438.6" x2="42.8" y2="438.6" stroke="#333" stroke-width="0.7"/>
<text x="37.2" y="441.8" font-size="9" class="e">3.5</text>
<line x1="40.4" y1="425.3" x2="42.8" y2="425.3" stroke="#333" stroke-width="0.7"/>
<text x="37.2" y="428.5" font-size="9" class="e">4.0</text>
<text transform="translate(17.2,478) rotate(-90)" font-size="10.8" class="m">Copy number</text>
<text x="66.9" y="545.2" font-size="9.2" class="m" style="fill:#7a6050">1</text>
<text x="116.5" y="545.2" font-size="9.2" class="m" style="fill:#22dd22">2</text>
<text x="160.9" y="545.2" font-size="9.2" class="m" style="fill:#f5a530">3</text>
<text x="200.1" y="545.2" font-size="9.2" class="m" style="fill:#7a6050">4</text>
<text x="237.6" y="545.2" font-size="9.2" class="m" style="fill:#22dd22">5</text>
<text x="273.0" y="545.2" font-size="9.2" class="m" style="fill:#f5a530">6</text>
<text x="306.3" y="545.2" font-size="9.2" class="m" style="fill:#7a6050">7</text>
<text x="337.0" y="545.2" font-size="9.2" class="m" style="fill:#22dd22">8</text>
<text x="366.9" y="545.2" font-size="9.2" class="m" style="fill:#f5a530">9</text>
<text x="394.7" y="545.2" font-size="9.2" class="m" style="fill:#7a6050">10</text>
<text x="422.0" y="545.2" font-size="9.2" class="m" style="fill:#22dd22">11</text>
<text x="449.0" y="545.2" font-size="9.2" class="m" style="fill:#f5a530">12</text>
<text x="474.1" y="545.2" font-size="9.2" class="m" style="fill:#7a6050">13</text>
<text x="496.5" y="545.2" font-size="9.2" class="m" style="fill:#22dd22">14</text>
<text x="517.7" y="545.2" font-size="9.2" class="m" style="fill:#f5a530">15</text>
<text x="537.1" y="545.2" font-size="9.2" class="m" style="fill:#7a6050">16</text>
<text x="554.3" y="545.2" font-size="9.2" class="m" style="fill:#22dd22">17</text>
<text x="572.1" y="545.2" font-size="9.2" class="m" style="fill:#f5a530">18</text>
<text x="585.9" y="545.2" font-size="9.2" class="m" style="fill:#7a6050">19</text>
<text x="598.2" y="545.2" font-size="9.2" class="m" style="fill:#22dd22">20</text>
<text x="607.0" y="545.2" font-size="9.2" class="m" style="fill:#f5a530">21</text>
<text x="617.2" y="545.2" font-size="9.2" class="m" style="fill:#7a6050">22</text>
<text x="639.4" y="545.2" font-size="9.2" class="m" style="fill:#22dd22">X</text>
<text x="661.8" y="545.2" font-size="9.2" class="m" style="fill:#f5a530">Y</text>
<text x="343.1" y="560.3" font-size="10.1" class="m">Human chromosome ID</text>
</svg></body></html>
